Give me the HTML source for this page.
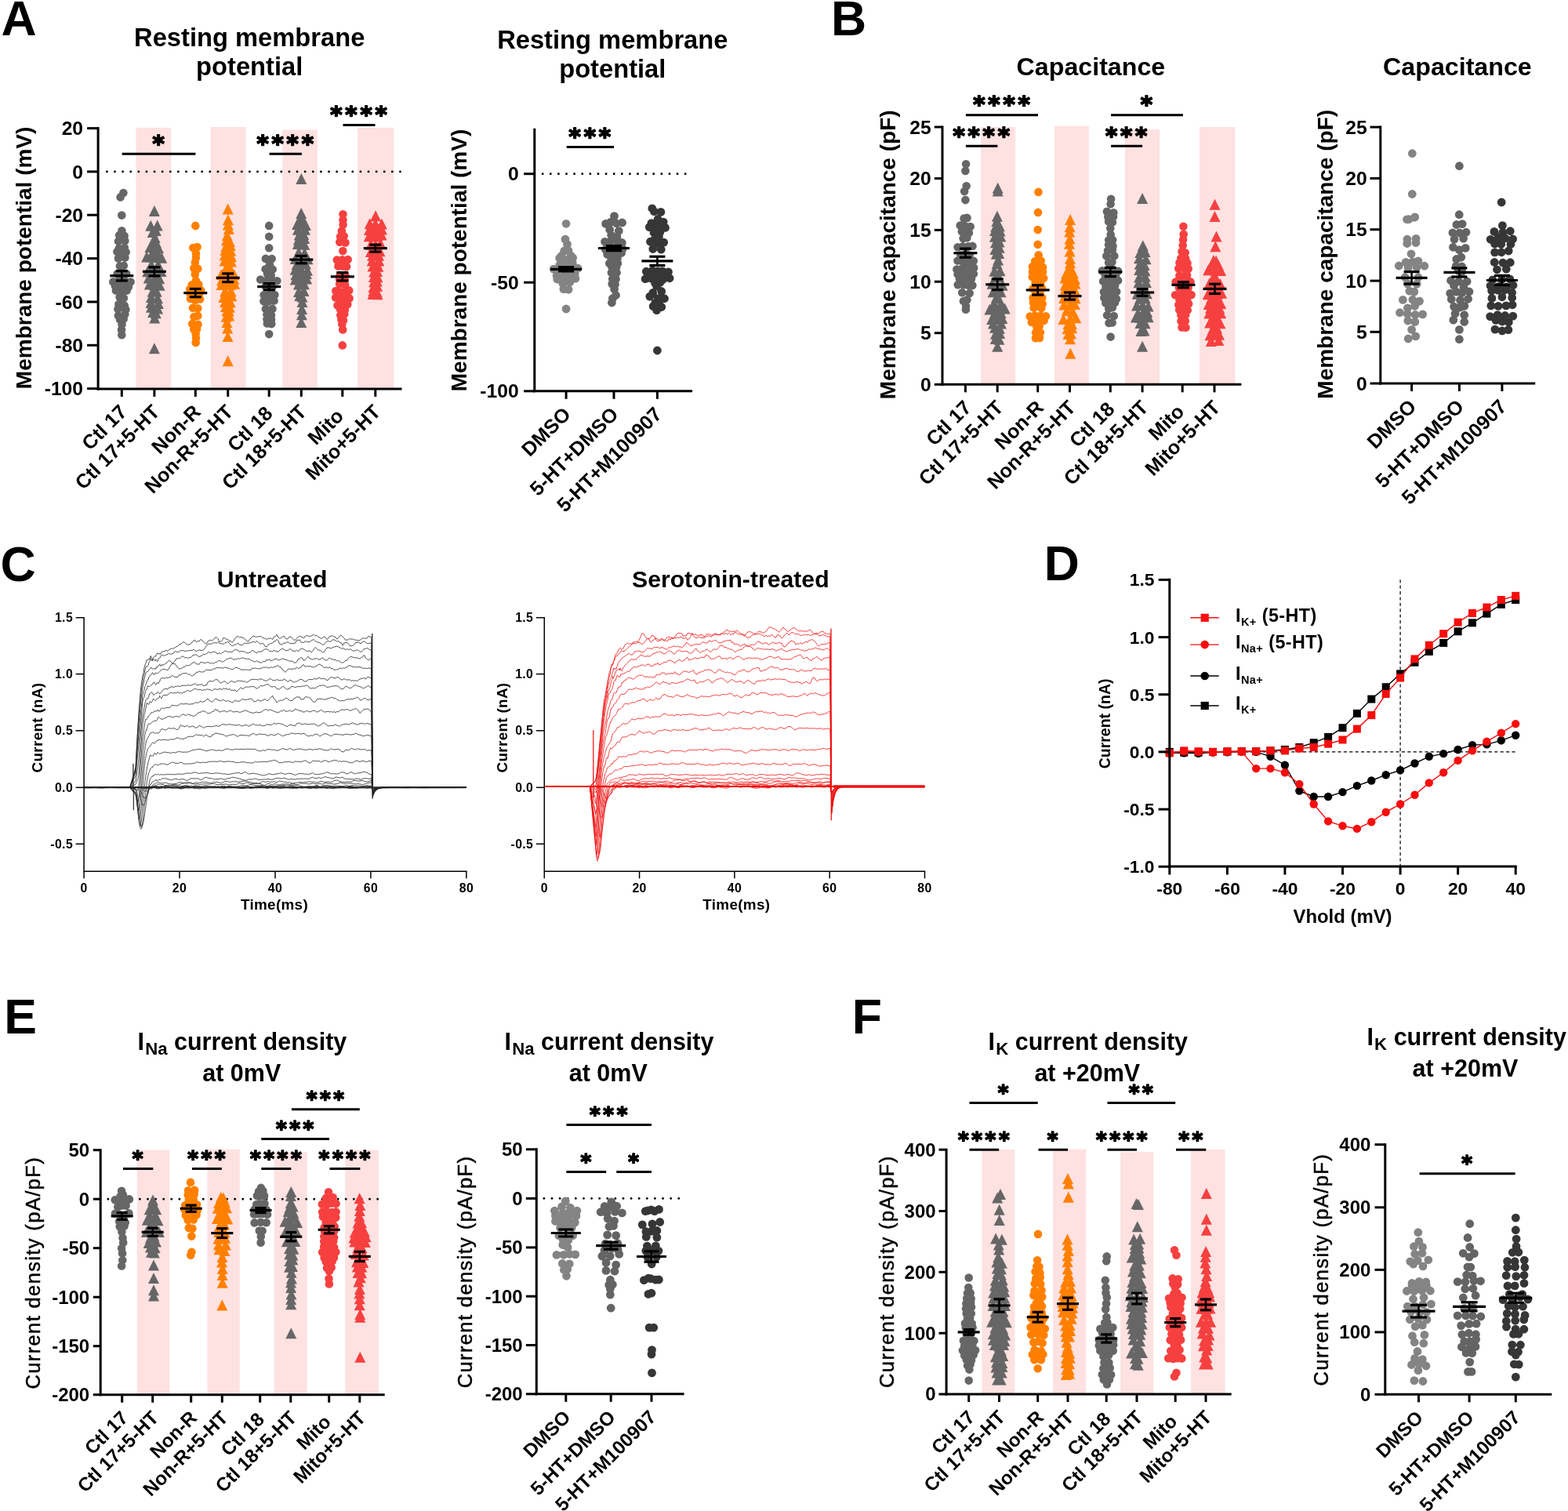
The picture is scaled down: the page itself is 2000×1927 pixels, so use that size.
<!DOCTYPE html>
<html lang="en"><head><meta charset="utf-8"><title>Figure</title>
<style>html,body{margin:0;padding:0;background:#fff}svg{display:block}</style>
</head><body>
<svg width="2000" height="1927" viewBox="0 0 2000 1927" font-family='"Liberation Sans", sans-serif' font-weight="bold">
<rect width="2000" height="1927" fill="#fff"/>
<text x="1.6" y="45.4" font-size="62.50">A</text>
<rect x="173.5" y="162.9" width="44.8" height="332.8" fill="#fee1e1"/>
<rect x="268.8" y="162" width="44.6" height="333.7" fill="#fee1e1"/>
<rect x="360.3" y="165.6" width="44.6" height="330.1" fill="#fee1e1"/>
<rect x="456.1" y="162.9" width="46.3" height="332.8" fill="#fee1e1"/>
<text x="318.2" y="59" font-size="32.70" text-anchor="middle">Resting membrane</text>
<text x="318.2" y="96" font-size="32.70" text-anchor="middle">potential</text>
<text transform="translate(39.6 328.9) rotate(-90)" font-size="28.00" text-anchor="middle">Membrane potential (mV)</text>
<line x1="136.4" y1="218.9" x2="512" y2="218.9" stroke="#000" stroke-width="2.9" stroke-linecap="round" stroke-dasharray="0.01 10.1"/>
<path d="M155.4 294.2h0M152.1 300.0h0M158.6 300.7h0M151.0 307.7h0M159.4 307.2h0M151.8 316.8h0M158.8 316.1h0M149.4 321.1h0M154.7 321.4h0M160.7 321.5h0M151.0 329.4h0M159.4 328.6h0M152.9 339.2h0M157.8 338.7h0M149.5 349.3h0M155.5 349.5h0M161.2 349.0h0M144.3 359.4h0M152.1 357.4h0M158.8 357.9h0M166.6 359.5h0M146.9 364.4h0M152.0 364.0h0M158.2 364.6h0M163.9 366.1h0M147.9 370.4h0M155.0 372.1h0M161.7 370.6h0M152.6 379.1h0M157.9 380.3h0M151.4 388.0h0M158.8 389.7h0M150.4 394.3h0M160.4 394.7h0M150.9 402.6h0M159.4 400.7h0M153.0 407.4h0M157.7 406.8h0M155.5 413.7h0M155.0 420.6h0M155.3 427.3h0M157.4 246.1h0M153.6 251.4h0M155.3 274.6h0" fill="none" stroke="#666666" stroke-width="10.6" stroke-linecap="round"/>
<path d="M192.2 280.8l7 14h-14zM200.7 280.5l7 14h-14zM194.7 288.9l7 14h-14zM198.9 287.1l7 14h-14zM197.6 296.1l7 14h-14zM193.8 303.4l7 14h-14zM198.8 301.7l7 14h-14zM191.4 308.2l7 14h-14zM197.2 307.9l7 14h-14zM202.1 309.2l7 14h-14zM194.3 315.4l7 14h-14zM199.9 314.6l7 14h-14zM187.1 320.5l7 14h-14zM193.1 320.8l7 14h-14zM199.7 321.2l7 14h-14zM206.2 321.7l7 14h-14zM193.0 330.5l7 14h-14zM201.7 330.6l7 14h-14zM188.2 339.2l7 14h-14zM193.6 339.8l7 14h-14zM199.0 337.6l7 14h-14zM205.5 339.0l7 14h-14zM189.7 347.4l7 14h-14zM197.4 347.8l7 14h-14zM203.2 348.2l7 14h-14zM190.8 355.5l7 14h-14zM197.2 356.3l7 14h-14zM203.6 356.8l7 14h-14zM194.7 364.6l7 14h-14zM199.8 364.7l7 14h-14zM192.9 372.0l7 14h-14zM201.0 373.3l7 14h-14zM192.6 379.1l7 14h-14zM201.9 380.0l7 14h-14zM192.9 384.8l7 14h-14zM201.1 386.4l7 14h-14zM195.0 391.1l7 14h-14zM198.8 392.2l7 14h-14zM197.2 398.6l7 14h-14zM196.9 262.0l7 14h-14zM196.9 437.3l7 14h-14z" fill="#666666"/>
<path d="M246.3 316.1h0M251.6 315.0h0M250.0 323.6h0M249.9 328.7h0M248.9 334.8h0M247.3 342.2h0M252.3 342.7h0M248.8 350.0h0M249.9 358.0h0M244.7 363.3h0M253.3 362.8h0M242.2 368.8h0M249.5 370.1h0M256.4 370.4h0M242.4 374.1h0M249.8 373.7h0M255.2 373.1h0M242.9 381.0h0M248.9 382.9h0M255.1 381.5h0M246.0 392.7h0M252.3 393.2h0M247.4 404.0h0M252.3 402.8h0M245.2 413.1h0M252.5 413.7h0M247.2 420.1h0M251.0 419.7h0M249.7 425.8h0M250.0 431.0h0M249.7 437.0h0M249.3 287.9h0" fill="none" stroke="#ff8000" stroke-width="10.6" stroke-linecap="round"/>
<path d="M290.9 273.3l7 14h-14zM290.8 279.6l7 14h-14zM291.9 285.0l7 14h-14zM289.8 293.2l7 14h-14zM288.9 299.4l7 14h-14zM292.9 301.1l7 14h-14zM288.3 307.3l7 14h-14zM293.7 306.1l7 14h-14zM287.4 312.0l7 14h-14zM294.3 312.8l7 14h-14zM286.7 318.3l7 14h-14zM295.0 320.2l7 14h-14zM286.5 325.5l7 14h-14zM294.9 326.5l7 14h-14zM288.2 335.2l7 14h-14zM293.5 334.9l7 14h-14zM282.3 343.1l7 14h-14zM288.5 342.5l7 14h-14zM293.0 343.5l7 14h-14zM298.7 343.3l7 14h-14zM283.0 350.2l7 14h-14zM290.5 350.4l7 14h-14zM298.3 348.7l7 14h-14zM282.5 355.9l7 14h-14zM287.8 355.9l7 14h-14zM293.7 356.1l7 14h-14zM299.1 354.7l7 14h-14zM287.1 364.6l7 14h-14zM294.6 364.4l7 14h-14zM285.4 371.9l7 14h-14zM290.7 371.9l7 14h-14zM295.4 370.3l7 14h-14zM287.1 378.0l7 14h-14zM293.8 378.2l7 14h-14zM287.9 384.0l7 14h-14zM292.9 384.7l7 14h-14zM289.4 389.4l7 14h-14zM291.8 389.5l7 14h-14zM288.7 396.8l7 14h-14zM292.3 395.6l7 14h-14zM289.5 404.1l7 14h-14zM290.2 411.6l7 14h-14zM290.5 422.1l7 14h-14zM290.7 259.4l7 14h-14zM290.7 453.3l7 14h-14z" fill="#ff8000"/>
<path d="M338.9 329.9h0M346.7 330.0h0M344.0 337.4h0M338.6 343.2h0M347.7 343.5h0M341.0 349.3h0M345.7 351.2h0M332.2 356.5h0M339.4 358.3h0M347.0 357.3h0M353.4 358.2h0M338.7 365.3h0M347.3 366.5h0M336.6 376.3h0M342.7 375.7h0M350.4 376.1h0M336.4 384.3h0M342.6 384.4h0M349.6 383.4h0M338.9 394.0h0M347.5 393.9h0M340.4 401.3h0M346.0 402.0h0M340.4 407.1h0M346.0 407.5h0M340.8 412.4h0M346.3 413.1h0M343.2 287.9h0M343.2 301.8h0M343.2 316.3h0M343.2 426.1h0" fill="none" stroke="#666666" stroke-width="10.6" stroke-linecap="round"/>
<path d="M384.2 265.1l7 14h-14zM381.9 273.2l7 14h-14zM386.2 273.0l7 14h-14zM379.1 278.9l7 14h-14zM384.5 278.7l7 14h-14zM389.9 279.9l7 14h-14zM379.9 285.7l7 14h-14zM389.0 285.8l7 14h-14zM381.7 292.5l7 14h-14zM387.3 292.0l7 14h-14zM380.8 298.5l7 14h-14zM388.1 297.0l7 14h-14zM379.8 304.1l7 14h-14zM388.3 304.8l7 14h-14zM380.9 314.7l7 14h-14zM388.5 315.5l7 14h-14zM376.8 323.0l7 14h-14zM384.2 323.1l7 14h-14zM392.5 323.3l7 14h-14zM378.7 329.9l7 14h-14zM384.6 329.1l7 14h-14zM389.9 329.4l7 14h-14zM376.6 336.7l7 14h-14zM384.0 336.6l7 14h-14zM392.0 337.7l7 14h-14zM377.4 343.2l7 14h-14zM384.7 343.6l7 14h-14zM390.9 341.9l7 14h-14zM376.7 349.4l7 14h-14zM384.3 349.7l7 14h-14zM391.1 348.4l7 14h-14zM380.9 355.5l7 14h-14zM387.9 355.3l7 14h-14zM381.0 364.9l7 14h-14zM387.5 363.9l7 14h-14zM382.3 370.0l7 14h-14zM385.5 371.5l7 14h-14zM385.5 377.9l7 14h-14zM385.1 386.9l7 14h-14zM384.9 394.2l7 14h-14zM384.3 220.9l7 14h-14zM384.3 404.1l7 14h-14z" fill="#666666"/>
<path d="M437.5 273.3h0M437.5 280.4h0M437.6 286.5h0M435.9 294.6h0M434.1 301.8h0M438.7 300.9h0M433.3 308.7h0M440.5 309.5h0M437.3 320.1h0M429.8 331.6h0M436.5 331.4h0M443.7 331.0h0M431.4 339.5h0M437.1 339.6h0M442.1 339.9h0M433.6 351.0h0M440.3 350.9h0M433.1 356.2h0M439.8 356.7h0M433.1 361.9h0M440.1 363.3h0M428.3 371.0h0M433.8 372.0h0M439.7 372.2h0M445.2 370.4h0M428.1 379.4h0M434.2 380.7h0M439.5 379.7h0M445.6 380.4h0M430.5 389.6h0M436.9 388.4h0M443.3 388.2h0M433.7 394.0h0M439.9 395.1h0M434.3 402.1h0M439.3 400.4h0M435.4 407.4h0M438.0 408.4h0M436.3 413.4h0M437.2 420.4h0M436.8 440.4h0" fill="none" stroke="#f64040" stroke-width="10.6" stroke-linecap="round"/>
<path d="M479.1 268.2l7 14h-14zM471.6 278.2l7 14h-14zM478.8 278.3l7 14h-14zM486.9 278.5l7 14h-14zM471.0 285.9l7 14h-14zM475.7 286.0l7 14h-14zM481.4 285.9l7 14h-14zM487.0 285.5l7 14h-14zM470.7 294.3l7 14h-14zM476.5 294.6l7 14h-14zM481.6 293.2l7 14h-14zM486.6 292.6l7 14h-14zM473.0 304.8l7 14h-14zM478.9 305.2l7 14h-14zM485.3 303.4l7 14h-14zM472.9 313.9l7 14h-14zM478.3 312.0l7 14h-14zM484.5 313.3l7 14h-14zM475.2 318.8l7 14h-14zM483.0 318.7l7 14h-14zM474.7 325.6l7 14h-14zM483.3 325.5l7 14h-14zM475.5 332.4l7 14h-14zM482.4 332.8l7 14h-14zM477.0 339.5l7 14h-14zM481.1 339.1l7 14h-14zM476.9 346.1l7 14h-14zM481.5 346.2l7 14h-14zM477.1 352.3l7 14h-14zM480.8 351.4l7 14h-14zM476.4 359.2l7 14h-14zM481.1 357.7l7 14h-14zM476.3 363.9l7 14h-14zM480.9 365.5l7 14h-14zM475.5 368.0l7 14h-14zM481.4 368.3l7 14h-14z" fill="#f64040"/>
<line x1="140.3" y1="351.7" x2="170.3" y2="351.7" stroke="#000" stroke-width="3.2"/>
<line x1="147.8" y1="345.5" x2="162.8" y2="345.5" stroke="#000" stroke-width="3.2"/>
<line x1="147.8" y1="357.9" x2="162.8" y2="357.9" stroke="#000" stroke-width="3.2"/>
<line x1="155.3" y1="345.5" x2="155.3" y2="357.9" stroke="#000" stroke-width="2.6"/>
<line x1="181.9" y1="346.3" x2="211.9" y2="346.3" stroke="#000" stroke-width="3.2"/>
<line x1="189.4" y1="340.8" x2="204.4" y2="340.8" stroke="#000" stroke-width="3.2"/>
<line x1="189.4" y1="351.9" x2="204.4" y2="351.9" stroke="#000" stroke-width="3.2"/>
<line x1="196.9" y1="340.8" x2="196.9" y2="351.9" stroke="#000" stroke-width="2.6"/>
<line x1="234.3" y1="373.6" x2="264.3" y2="373.6" stroke="#000" stroke-width="3.2"/>
<line x1="241.8" y1="368.4" x2="256.8" y2="368.4" stroke="#000" stroke-width="3.2"/>
<line x1="241.8" y1="378.7" x2="256.8" y2="378.7" stroke="#000" stroke-width="3.2"/>
<line x1="249.3" y1="368.4" x2="249.3" y2="378.7" stroke="#000" stroke-width="2.6"/>
<line x1="275.7" y1="354.3" x2="305.7" y2="354.3" stroke="#000" stroke-width="3.2"/>
<line x1="283.2" y1="348.9" x2="298.2" y2="348.9" stroke="#000" stroke-width="3.2"/>
<line x1="283.2" y1="359.6" x2="298.2" y2="359.6" stroke="#000" stroke-width="3.2"/>
<line x1="290.7" y1="348.9" x2="290.7" y2="359.6" stroke="#000" stroke-width="2.6"/>
<line x1="328.2" y1="365.6" x2="358.2" y2="365.6" stroke="#000" stroke-width="3.2"/>
<line x1="335.7" y1="361.6" x2="350.7" y2="361.6" stroke="#000" stroke-width="3.2"/>
<line x1="335.7" y1="369.7" x2="350.7" y2="369.7" stroke="#000" stroke-width="3.2"/>
<line x1="343.2" y1="361.6" x2="343.2" y2="369.7" stroke="#000" stroke-width="2.6"/>
<line x1="369.3" y1="331.1" x2="399.3" y2="331.1" stroke="#000" stroke-width="3.2"/>
<line x1="376.8" y1="326.4" x2="391.8" y2="326.4" stroke="#000" stroke-width="3.2"/>
<line x1="376.8" y1="335.8" x2="391.8" y2="335.8" stroke="#000" stroke-width="3.2"/>
<line x1="384.3" y1="326.4" x2="384.3" y2="335.8" stroke="#000" stroke-width="2.6"/>
<line x1="421.8" y1="352.8" x2="451.8" y2="352.8" stroke="#000" stroke-width="3.2"/>
<line x1="429.3" y1="347.6" x2="444.3" y2="347.6" stroke="#000" stroke-width="3.2"/>
<line x1="429.3" y1="357.9" x2="444.3" y2="357.9" stroke="#000" stroke-width="3.2"/>
<line x1="436.8" y1="347.6" x2="436.8" y2="357.9" stroke="#000" stroke-width="2.6"/>
<line x1="463.8" y1="316.6" x2="493.8" y2="316.6" stroke="#000" stroke-width="3.2"/>
<line x1="471.3" y1="312.1" x2="486.3" y2="312.1" stroke="#000" stroke-width="3.2"/>
<line x1="471.3" y1="321.1" x2="486.3" y2="321.1" stroke="#000" stroke-width="3.2"/>
<line x1="478.8" y1="312.1" x2="478.8" y2="321.1" stroke="#000" stroke-width="2.6"/>
<line x1="125.1" y1="162" x2="125.1" y2="497.4" stroke="#000" stroke-width="3"/>
<line x1="123.6" y1="495.9" x2="512.5" y2="495.9" stroke="#000" stroke-width="3"/>
<line x1="111.1" y1="163.6" x2="125.1" y2="163.6" stroke="#000" stroke-width="3"/>
<text x="106.1" y="172.2" font-size="24.70" text-anchor="end">20</text>
<line x1="111.1" y1="218.9" x2="125.1" y2="218.9" stroke="#000" stroke-width="3"/>
<text x="106.1" y="227.5" font-size="24.70" text-anchor="end">0</text>
<line x1="111.1" y1="274.2" x2="125.1" y2="274.2" stroke="#000" stroke-width="3"/>
<text x="106.1" y="282.9" font-size="24.70" text-anchor="end">-20</text>
<line x1="111.1" y1="329.6" x2="125.1" y2="329.6" stroke="#000" stroke-width="3"/>
<text x="106.1" y="338.2" font-size="24.70" text-anchor="end">-40</text>
<line x1="111.1" y1="385" x2="125.1" y2="385" stroke="#000" stroke-width="3"/>
<text x="106.1" y="393.6" font-size="24.70" text-anchor="end">-60</text>
<line x1="111.1" y1="440.3" x2="125.1" y2="440.3" stroke="#000" stroke-width="3"/>
<text x="106.1" y="448.9" font-size="24.70" text-anchor="end">-80</text>
<line x1="111.1" y1="495.6" x2="125.1" y2="495.6" stroke="#000" stroke-width="3"/>
<text x="106.1" y="504.3" font-size="24.70" text-anchor="end">-100</text>
<line x1="155.3" y1="495.9" x2="155.3" y2="505.9" stroke="#000" stroke-width="3"/>
<line x1="196.9" y1="495.9" x2="196.9" y2="505.9" stroke="#000" stroke-width="3"/>
<line x1="249.3" y1="495.9" x2="249.3" y2="505.9" stroke="#000" stroke-width="3"/>
<line x1="290.7" y1="495.9" x2="290.7" y2="505.9" stroke="#000" stroke-width="3"/>
<line x1="343.2" y1="495.9" x2="343.2" y2="505.9" stroke="#000" stroke-width="3"/>
<line x1="384.3" y1="495.9" x2="384.3" y2="505.9" stroke="#000" stroke-width="3"/>
<line x1="436.8" y1="495.9" x2="436.8" y2="505.9" stroke="#000" stroke-width="3"/>
<line x1="478.8" y1="495.9" x2="478.8" y2="505.9" stroke="#000" stroke-width="3"/>
<text transform="translate(163.5 526.8) rotate(-45)" font-size="25.30" text-anchor="end">Ctl 17</text>
<text transform="translate(205.1 526.8) rotate(-45)" font-size="25.30" text-anchor="end">Ctl 17+5-HT</text>
<text transform="translate(257.5 526.8) rotate(-45)" font-size="25.30" text-anchor="end">Non-R</text>
<text transform="translate(298.9 526.8) rotate(-45)" font-size="25.30" text-anchor="end">Non-R+5-HT</text>
<text transform="translate(349.3 528.9) rotate(-45)" font-size="25.30" text-anchor="end">Ctl 18</text>
<text transform="translate(392.5 526.8) rotate(-45)" font-size="25.30" text-anchor="end">Ctl 18+5-HT</text>
<text transform="translate(439.8 532) rotate(-45)" font-size="25.30" text-anchor="end">Mito</text>
<text transform="translate(487 526.8) rotate(-45)" font-size="25.30" text-anchor="end">Mito+5-HT</text>
<line x1="155.7" y1="196.2" x2="249.4" y2="196.2" stroke="#000" stroke-width="3"/>
<text x="204" y="192.9" font-size="29.20" text-anchor="middle" font-family='"DejaVu Sans", "Liberation Sans", sans-serif' letter-spacing="3.8" stroke="#000" stroke-width="1.8" stroke-linejoin="round">*</text>
<line x1="343.6" y1="196.2" x2="384.9" y2="196.2" stroke="#000" stroke-width="3"/>
<text x="365.6" y="192.9" font-size="29.20" text-anchor="middle" font-family='"DejaVu Sans", "Liberation Sans", sans-serif' letter-spacing="3.8" stroke="#000" stroke-width="1.8" stroke-linejoin="round">****</text>
<line x1="437.5" y1="159.5" x2="478.5" y2="159.5" stroke="#000" stroke-width="3"/>
<text x="459.4" y="156.2" font-size="29.20" text-anchor="middle" font-family='"DejaVu Sans", "Liberation Sans", sans-serif' letter-spacing="3.8" stroke="#000" stroke-width="1.8" stroke-linejoin="round">****</text>
<text x="781.3" y="62.2" font-size="32.70" text-anchor="middle">Resting membrane</text>
<text x="781.3" y="99.2" font-size="32.70" text-anchor="middle">potential</text>
<text transform="translate(594.6 332) rotate(-90)" font-size="28.00" text-anchor="middle">Membrane potential (mV)</text>
<line x1="692.2" y1="221.7" x2="878" y2="221.7" stroke="#000" stroke-width="2.9" stroke-linecap="round" stroke-dasharray="0.01 10.1"/>
<path d="M719.7 320.0h0M725.0 319.6h0M716.1 326.3h0M728.1 326.0h0M713.6 329.2h0M721.3 331.5h0M730.7 328.8h0M713.9 337.9h0M721.7 335.2h0M730.3 335.4h0M706.2 343.1h0M713.3 342.1h0M723.0 342.7h0M730.9 343.7h0M737.2 342.2h0M710.1 351.7h0M718.9 351.3h0M725.6 351.0h0M733.2 349.9h0M710.7 356.0h0M718.9 357.0h0M726.5 357.0h0M734.0 355.2h0M717.9 361.4h0M726.8 359.9h0M718.9 368.6h0M725.1 369.3h0M722.1 285.3h0M721.0 305.1h0M723.5 311.5h0M722.1 394.0h0" fill="none" stroke="#848484" stroke-width="10.8" stroke-linecap="round"/>
<path d="M783.5 275.6h0M772.6 285.4h0M778.5 283.5h0M786.2 284.8h0M793.6 284.0h0M777.7 292.9h0M789.3 294.5h0M779.7 300.0h0M787.0 301.8h0M771.5 308.3h0M779.1 307.5h0M787.1 307.6h0M793.3 309.5h0M772.3 318.2h0M778.5 317.6h0M786.3 316.3h0M794.3 317.2h0M774.7 324.4h0M782.6 322.1h0M792.6 322.5h0M779.6 329.9h0M787.4 329.9h0M777.4 335.9h0M787.8 335.9h0M780.6 340.5h0M786.1 341.1h0M780.0 347.7h0M786.5 347.8h0M782.7 351.7h0M781.3 355.9h0M785.5 356.0h0M780.8 362.1h0M784.5 362.7h0M783.6 368.8h0M785.5 376.5h0M781.4 380.6h0M780.4 386.0h0" fill="none" stroke="#646464" stroke-width="10.8" stroke-linecap="round"/>
<path d="M834.3 269.6h0M842.9 270.4h0M839.1 279.5h0M830.9 284.6h0M837.7 283.6h0M846.2 283.1h0M828.3 289.6h0M834.2 289.8h0M841.1 289.5h0M848.5 290.4h0M834.0 296.8h0M841.9 296.0h0M835.4 304.5h0M840.5 301.5h0M829.5 308.2h0M837.8 310.4h0M846.7 309.1h0M832.8 317.5h0M843.3 318.2h0M824.3 346.2h0M832.1 345.0h0M839.1 345.9h0M844.9 345.9h0M852.5 346.8h0M827.2 349.9h0M835.2 349.7h0M841.7 349.2h0M849.3 349.5h0M823.1 355.7h0M830.1 355.0h0M839.0 356.6h0M845.4 356.7h0M854.1 354.8h0M835.6 361.3h0M842.1 360.1h0M837.6 365.2h0M832.7 373.5h0M843.7 371.5h0M828.8 378.1h0M839.3 380.6h0M847.5 380.7h0M835.7 386.4h0M841.2 388.8h0M833.2 390.6h0M843.8 391.5h0M837.6 395.6h0M831.8 265.8h0M838.4 447.0h0" fill="none" stroke="#363636" stroke-width="10.8" stroke-linecap="round"/>
<line x1="702.1" y1="343.3" x2="742.1" y2="343.3" stroke="#000" stroke-width="3.2"/>
<line x1="712.1" y1="340.7" x2="732.1" y2="340.7" stroke="#000" stroke-width="3.2"/>
<line x1="712.1" y1="345.9" x2="732.1" y2="345.9" stroke="#000" stroke-width="3.2"/>
<line x1="722.1" y1="340.7" x2="722.1" y2="345.9" stroke="#000" stroke-width="2.6"/>
<line x1="763" y1="316.5" x2="803" y2="316.5" stroke="#000" stroke-width="3.2"/>
<line x1="773" y1="313.5" x2="793" y2="313.5" stroke="#000" stroke-width="3.2"/>
<line x1="773" y1="319.6" x2="793" y2="319.6" stroke="#000" stroke-width="3.2"/>
<line x1="783" y1="313.5" x2="783" y2="319.6" stroke="#000" stroke-width="2.6"/>
<line x1="818.4" y1="332.8" x2="858.4" y2="332.8" stroke="#000" stroke-width="3.2"/>
<line x1="828.4" y1="327.2" x2="848.4" y2="327.2" stroke="#000" stroke-width="3.2"/>
<line x1="828.4" y1="338.5" x2="848.4" y2="338.5" stroke="#000" stroke-width="3.2"/>
<line x1="838.4" y1="327.2" x2="838.4" y2="338.5" stroke="#000" stroke-width="2.6"/>
<line x1="681.8" y1="163.7" x2="681.8" y2="500.3" stroke="#000" stroke-width="3"/>
<line x1="680.3" y1="498.8" x2="883.1" y2="498.8" stroke="#000" stroke-width="3"/>
<line x1="668.1" y1="221.7" x2="681.8" y2="221.7" stroke="#000" stroke-width="3"/>
<text x="661.7" y="230.3" font-size="24.70" text-anchor="end">0</text>
<line x1="668.1" y1="360.2" x2="681.8" y2="360.2" stroke="#000" stroke-width="3"/>
<text x="661.7" y="368.8" font-size="24.70" text-anchor="end">-50</text>
<line x1="668.1" y1="498.8" x2="681.8" y2="498.8" stroke="#000" stroke-width="3"/>
<text x="661.7" y="507.4" font-size="24.70" text-anchor="end">-100</text>
<line x1="722.1" y1="498.8" x2="722.1" y2="508.8" stroke="#000" stroke-width="3"/>
<line x1="783" y1="498.8" x2="783" y2="508.8" stroke="#000" stroke-width="3"/>
<line x1="838.4" y1="498.8" x2="838.4" y2="508.8" stroke="#000" stroke-width="3"/>
<text transform="translate(729.3 529.8) rotate(-45)" font-size="25.30" text-anchor="end">DMSO</text>
<text transform="translate(790.2 529.8) rotate(-45)" font-size="25.30" text-anchor="end">5-HT+DMSO</text>
<text transform="translate(845.6 529.8) rotate(-45)" font-size="25.30" text-anchor="end">5-HT+M100907</text>
<line x1="722.7" y1="187.5" x2="783" y2="187.5" stroke="#000" stroke-width="3"/>
<text x="754.2" y="184.2" font-size="29.20" text-anchor="middle" font-family='"DejaVu Sans", "Liberation Sans", sans-serif' letter-spacing="3.8" stroke="#000" stroke-width="1.8" stroke-linejoin="round">***</text>
<text x="1060.1" y="45.4" font-size="62.50">B</text>
<rect x="1251" y="162" width="44.2" height="328.3" fill="#fee1e1"/>
<rect x="1344.9" y="160.7" width="43.9" height="329.6" fill="#fee1e1"/>
<rect x="1435" y="165.1" width="44.1" height="325.2" fill="#fee1e1"/>
<rect x="1529.8" y="162" width="45.5" height="328.3" fill="#fee1e1"/>
<text x="1391.4" y="96.1" font-size="32.20" text-anchor="middle">Capacitance</text>
<text transform="translate(1142.4 324.8) rotate(-90)" font-size="28.00" text-anchor="middle">Membrane capacitance (pF)</text>
<path d="M1229.6 278.5h0M1233.5 277.9h0M1224.7 287.6h0M1231.4 288.5h0M1237.7 289.0h0M1226.8 295.3h0M1231.1 297.6h0M1235.9 297.0h0M1228.6 304.1h0M1233.4 303.2h0M1221.6 315.3h0M1227.8 314.2h0M1235.0 314.4h0M1240.5 313.9h0M1225.3 325.2h0M1231.8 323.8h0M1236.6 325.6h0M1221.5 332.5h0M1228.3 333.4h0M1234.9 334.2h0M1241.8 332.7h0M1220.4 343.5h0M1227.6 342.1h0M1235.0 341.2h0M1242.2 341.4h0M1221.5 349.7h0M1227.9 348.5h0M1234.9 349.4h0M1241.9 349.3h0M1223.9 355.6h0M1231.2 356.2h0M1239.0 355.5h0M1221.7 363.2h0M1228.7 363.2h0M1234.8 363.7h0M1240.4 363.9h0M1227.2 373.2h0M1236.7 373.9h0M1228.9 384.1h0M1233.4 382.4h0M1232.0 390.2h0M1231.9 394.8h0M1232.1 209.2h0M1231.4 217.9h0M1232.7 237.2h0M1230.1 244.1h0M1231.4 255.1h0" fill="none" stroke="#666666" stroke-width="10.6" stroke-linecap="round"/>
<path d="M1271.9 268.8l7 14h-14zM1271.4 275.0l7 14h-14zM1270.3 281.7l7 14h-14zM1274.9 281.2l7 14h-14zM1269.0 287.0l7 14h-14zM1275.6 287.5l7 14h-14zM1268.9 294.8l7 14h-14zM1276.3 294.4l7 14h-14zM1269.9 302.3l7 14h-14zM1274.6 301.6l7 14h-14zM1269.3 310.9l7 14h-14zM1274.7 308.7l7 14h-14zM1270.8 316.8l7 14h-14zM1274.2 316.1l7 14h-14zM1273.1 324.4l7 14h-14zM1271.6 329.3l7 14h-14zM1268.4 338.8l7 14h-14zM1275.5 338.3l7 14h-14zM1270.1 346.2l7 14h-14zM1274.1 346.0l7 14h-14zM1265.6 354.7l7 14h-14zM1272.4 356.3l7 14h-14zM1278.7 356.7l7 14h-14zM1266.7 365.3l7 14h-14zM1272.2 363.9l7 14h-14zM1276.6 365.2l7 14h-14zM1270.8 372.5l7 14h-14zM1273.6 373.3l7 14h-14zM1267.9 380.0l7 14h-14zM1276.7 380.1l7 14h-14zM1262.4 387.5l7 14h-14zM1269.2 385.9l7 14h-14zM1275.3 386.8l7 14h-14zM1281.7 386.4l7 14h-14zM1268.6 392.4l7 14h-14zM1276.7 392.3l7 14h-14zM1265.1 399.9l7 14h-14zM1271.7 399.7l7 14h-14zM1278.3 399.0l7 14h-14zM1266.9 405.4l7 14h-14zM1277.0 405.5l7 14h-14zM1269.0 410.8l7 14h-14zM1274.9 411.7l7 14h-14zM1269.9 418.8l7 14h-14zM1275.1 418.1l7 14h-14zM1269.8 424.9l7 14h-14zM1274.4 425.7l7 14h-14zM1272.2 434.8l7 14h-14zM1272.7 232.8l7 14h-14zM1272.7 236.4l7 14h-14z" fill="#666666"/>
<path d="M1324.7 325.2h0M1320.2 333.0h0M1327.7 332.6h0M1316.9 340.1h0M1324.2 340.6h0M1330.1 340.9h0M1317.0 346.6h0M1323.5 347.6h0M1330.1 346.4h0M1316.7 353.3h0M1324.0 355.3h0M1331.2 354.7h0M1320.6 360.5h0M1327.3 362.1h0M1317.5 368.3h0M1324.1 367.1h0M1329.2 368.1h0M1321.6 374.1h0M1326.3 374.5h0M1317.5 379.9h0M1323.6 381.7h0M1329.3 379.5h0M1318.0 385.9h0M1323.1 387.2h0M1329.7 387.5h0M1318.6 392.4h0M1328.3 392.9h0M1313.7 403.6h0M1320.0 402.5h0M1327.4 402.8h0M1334.0 403.3h0M1315.8 411.0h0M1324.1 410.9h0M1331.7 408.8h0M1322.4 416.9h0M1325.8 415.6h0M1321.0 424.3h0M1326.9 423.9h0M1320.9 431.3h0M1326.1 431.1h0M1324.5 244.9h0M1324.0 270.9h0M1323.7 293.1h0M1323.7 311.7h0" fill="none" stroke="#ff8000" stroke-width="10.6" stroke-linecap="round"/>
<path d="M1365.1 273.1l7 14h-14zM1364.6 282.2l7 14h-14zM1364.2 288.4l7 14h-14zM1364.5 297.5l7 14h-14zM1364.0 303.8l7 14h-14zM1364.6 313.4l7 14h-14zM1364.9 322.7l7 14h-14zM1365.0 328.3l7 14h-14zM1364.1 335.4l7 14h-14zM1360.1 341.7l7 14h-14zM1368.8 340.9l7 14h-14zM1358.5 347.4l7 14h-14zM1365.0 348.8l7 14h-14zM1371.1 349.1l7 14h-14zM1358.6 356.8l7 14h-14zM1364.4 356.5l7 14h-14zM1371.5 354.6l7 14h-14zM1357.9 363.8l7 14h-14zM1364.7 362.6l7 14h-14zM1371.6 364.4l7 14h-14zM1357.1 373.0l7 14h-14zM1365.1 372.9l7 14h-14zM1371.7 373.3l7 14h-14zM1357.3 381.4l7 14h-14zM1364.4 382.0l7 14h-14zM1370.9 380.9l7 14h-14zM1360.7 389.1l7 14h-14zM1368.3 390.6l7 14h-14zM1356.4 400.1l7 14h-14zM1365.1 399.2l7 14h-14zM1372.3 398.2l7 14h-14zM1362.6 406.1l7 14h-14zM1367.0 405.9l7 14h-14zM1361.6 411.9l7 14h-14zM1367.2 411.3l7 14h-14zM1362.5 419.0l7 14h-14zM1366.0 418.5l7 14h-14zM1365.0 425.2l7 14h-14zM1365.3 443.8l7 14h-14z" fill="#ff8000"/>
<path d="M1411.9 269.7h0M1420.4 271.3h0M1413.3 276.6h0M1420.0 276.6h0M1414.1 282.6h0M1418.9 283.4h0M1416.3 291.2h0M1416.7 299.2h0M1414.2 306.3h0M1419.2 306.0h0M1414.0 312.3h0M1419.5 313.8h0M1413.0 319.7h0M1418.9 318.5h0M1411.3 326.6h0M1421.3 326.4h0M1414.1 335.1h0M1418.5 334.3h0M1405.8 345.4h0M1412.5 344.7h0M1419.3 344.0h0M1426.1 345.8h0M1409.9 351.7h0M1416.4 352.8h0M1423.0 351.4h0M1407.1 358.8h0M1413.0 358.4h0M1419.3 358.5h0M1426.1 357.8h0M1410.4 365.5h0M1416.3 365.5h0M1422.1 364.3h0M1407.9 372.3h0M1414.0 371.9h0M1418.8 372.2h0M1424.2 372.1h0M1408.3 379.7h0M1415.9 380.4h0M1424.0 381.2h0M1410.3 386.4h0M1416.4 387.2h0M1422.1 386.0h0M1414.2 393.8h0M1418.9 392.2h0M1412.1 402.0h0M1420.8 403.0h0M1414.5 411.9h0M1418.7 411.4h0M1417.1 253.8h0M1416.6 260.2h0M1416.6 429.6h0" fill="none" stroke="#666666" stroke-width="10.6" stroke-linecap="round"/>
<path d="M1457.8 306.3l7 14h-14zM1454.3 315.0l7 14h-14zM1460.6 314.1l7 14h-14zM1453.1 322.3l7 14h-14zM1461.6 323.3l7 14h-14zM1453.7 329.8l7 14h-14zM1459.8 330.9l7 14h-14zM1453.2 337.0l7 14h-14zM1460.5 338.3l7 14h-14zM1453.1 346.4l7 14h-14zM1460.7 345.4l7 14h-14zM1452.5 353.3l7 14h-14zM1461.9 352.9l7 14h-14zM1455.3 359.3l7 14h-14zM1458.5 361.0l7 14h-14zM1450.7 367.7l7 14h-14zM1456.6 366.4l7 14h-14zM1462.8 367.2l7 14h-14zM1453.8 373.7l7 14h-14zM1460.7 373.3l7 14h-14zM1450.0 382.5l7 14h-14zM1457.5 382.1l7 14h-14zM1464.6 383.5l7 14h-14zM1451.5 392.6l7 14h-14zM1457.5 392.4l7 14h-14zM1463.2 390.9l7 14h-14zM1448.9 397.6l7 14h-14zM1454.3 398.1l7 14h-14zM1460.4 397.3l7 14h-14zM1464.7 397.3l7 14h-14zM1454.4 405.1l7 14h-14zM1460.6 405.2l7 14h-14zM1455.4 414.9l7 14h-14zM1459.5 414.5l7 14h-14zM1457.1 246.1l7 14h-14zM1457.1 434.8l7 14h-14z" fill="#666666"/>
<path d="M1509.7 298.8h0M1509.1 305.7h0M1508.7 313.1h0M1507.5 320.9h0M1511.7 322.3h0M1506.3 329.5h0M1512.3 330.1h0M1504.5 335.0h0M1514.5 335.6h0M1503.3 342.6h0M1510.0 341.9h0M1515.7 342.8h0M1504.4 351.6h0M1510.0 352.0h0M1514.1 350.7h0M1499.6 359.5h0M1506.2 359.1h0M1512.1 360.9h0M1518.5 359.4h0M1503.9 367.1h0M1509.9 368.5h0M1515.6 366.9h0M1499.0 376.2h0M1505.7 376.4h0M1512.5 376.1h0M1519.6 376.1h0M1504.5 382.8h0M1514.1 383.1h0M1503.3 388.7h0M1509.9 388.9h0M1516.1 387.5h0M1504.2 395.2h0M1509.9 394.6h0M1514.7 395.6h0M1506.3 401.8h0M1512.2 401.6h0M1506.5 409.6h0M1511.8 409.6h0M1507.5 417.5h0M1512.5 417.8h0M1509.4 288.8h0" fill="none" stroke="#f64040" stroke-width="10.6" stroke-linecap="round"/>
<path d="M1547.9 325.0l7 14h-14zM1551.1 325.7l7 14h-14zM1545.3 330.9l7 14h-14zM1553.8 330.5l7 14h-14zM1541.2 337.3l7 14h-14zM1549.4 337.5l7 14h-14zM1557.1 338.0l7 14h-14zM1547.1 347.4l7 14h-14zM1550.9 347.5l7 14h-14zM1542.5 354.4l7 14h-14zM1549.9 355.1l7 14h-14zM1556.4 354.9l7 14h-14zM1545.1 361.5l7 14h-14zM1554.2 361.2l7 14h-14zM1540.7 368.2l7 14h-14zM1546.8 366.3l7 14h-14zM1552.9 367.8l7 14h-14zM1558.1 366.7l7 14h-14zM1545.2 373.0l7 14h-14zM1553.5 374.5l7 14h-14zM1541.7 381.1l7 14h-14zM1549.0 379.3l7 14h-14zM1557.2 380.1l7 14h-14zM1544.0 385.7l7 14h-14zM1550.1 386.2l7 14h-14zM1555.4 386.2l7 14h-14zM1542.3 392.6l7 14h-14zM1549.2 391.6l7 14h-14zM1557.1 392.2l7 14h-14zM1547.4 400.2l7 14h-14zM1552.4 399.4l7 14h-14zM1543.1 404.4l7 14h-14zM1549.6 405.2l7 14h-14zM1556.4 405.2l7 14h-14zM1546.7 413.0l7 14h-14zM1552.0 411.2l7 14h-14zM1543.5 420.2l7 14h-14zM1549.8 418.7l7 14h-14zM1555.0 419.8l7 14h-14zM1544.7 428.0l7 14h-14zM1554.3 427.1l7 14h-14zM1549.5 253.7l7 14h-14zM1549.5 269.0l7 14h-14zM1551.5 294.5l7 14h-14zM1550.3 307.3l7 14h-14z" fill="#f64040"/>
<line x1="1216.4" y1="322.7" x2="1246.4" y2="322.7" stroke="#000" stroke-width="3.2"/>
<line x1="1223.9" y1="317.1" x2="1238.9" y2="317.1" stroke="#000" stroke-width="3.2"/>
<line x1="1223.9" y1="328.3" x2="1238.9" y2="328.3" stroke="#000" stroke-width="3.2"/>
<line x1="1231.4" y1="317.1" x2="1231.4" y2="328.3" stroke="#000" stroke-width="2.6"/>
<line x1="1257.2" y1="362.8" x2="1287.2" y2="362.8" stroke="#000" stroke-width="3.2"/>
<line x1="1264.7" y1="355.9" x2="1279.7" y2="355.9" stroke="#000" stroke-width="3.2"/>
<line x1="1264.7" y1="369.6" x2="1279.7" y2="369.6" stroke="#000" stroke-width="3.2"/>
<line x1="1272.2" y1="355.9" x2="1272.2" y2="369.6" stroke="#000" stroke-width="2.6"/>
<line x1="1308.7" y1="369.9" x2="1338.7" y2="369.9" stroke="#000" stroke-width="3.2"/>
<line x1="1316.2" y1="363.8" x2="1331.2" y2="363.8" stroke="#000" stroke-width="3.2"/>
<line x1="1316.2" y1="376" x2="1331.2" y2="376" stroke="#000" stroke-width="3.2"/>
<line x1="1323.7" y1="363.8" x2="1323.7" y2="376" stroke="#000" stroke-width="2.6"/>
<line x1="1349.5" y1="377.6" x2="1379.5" y2="377.6" stroke="#000" stroke-width="3.2"/>
<line x1="1357" y1="373" x2="1372" y2="373" stroke="#000" stroke-width="3.2"/>
<line x1="1357" y1="382.1" x2="1372" y2="382.1" stroke="#000" stroke-width="3.2"/>
<line x1="1364.5" y1="373" x2="1364.5" y2="382.1" stroke="#000" stroke-width="2.6"/>
<line x1="1401.3" y1="346.9" x2="1431.3" y2="346.9" stroke="#000" stroke-width="3.2"/>
<line x1="1408.8" y1="341.3" x2="1423.8" y2="341.3" stroke="#000" stroke-width="3.2"/>
<line x1="1408.8" y1="352.6" x2="1423.8" y2="352.6" stroke="#000" stroke-width="3.2"/>
<line x1="1416.3" y1="341.3" x2="1416.3" y2="352.6" stroke="#000" stroke-width="2.6"/>
<line x1="1442.1" y1="373" x2="1472.1" y2="373" stroke="#000" stroke-width="3.2"/>
<line x1="1449.6" y1="368.6" x2="1464.6" y2="368.6" stroke="#000" stroke-width="3.2"/>
<line x1="1449.6" y1="377.3" x2="1464.6" y2="377.3" stroke="#000" stroke-width="3.2"/>
<line x1="1457.1" y1="368.6" x2="1457.1" y2="377.3" stroke="#000" stroke-width="2.6"/>
<line x1="1494.4" y1="363.3" x2="1524.4" y2="363.3" stroke="#000" stroke-width="3.2"/>
<line x1="1501.9" y1="359.7" x2="1516.9" y2="359.7" stroke="#000" stroke-width="3.2"/>
<line x1="1501.9" y1="366.8" x2="1516.9" y2="366.8" stroke="#000" stroke-width="3.2"/>
<line x1="1509.4" y1="359.7" x2="1509.4" y2="366.8" stroke="#000" stroke-width="2.6"/>
<line x1="1534.5" y1="368.4" x2="1564.5" y2="368.4" stroke="#000" stroke-width="3.2"/>
<line x1="1542" y1="362.2" x2="1557" y2="362.2" stroke="#000" stroke-width="3.2"/>
<line x1="1542" y1="374.5" x2="1557" y2="374.5" stroke="#000" stroke-width="3.2"/>
<line x1="1549.5" y1="362.2" x2="1549.5" y2="374.5" stroke="#000" stroke-width="2.6"/>
<line x1="1202" y1="160.5" x2="1202" y2="491.8" stroke="#000" stroke-width="3"/>
<line x1="1200.5" y1="490.3" x2="1583.4" y2="490.3" stroke="#000" stroke-width="3"/>
<line x1="1191.8" y1="162" x2="1202" y2="162" stroke="#000" stroke-width="3"/>
<text x="1187.7" y="170.6" font-size="24.70" text-anchor="end">25</text>
<line x1="1191.8" y1="227.6" x2="1202" y2="227.6" stroke="#000" stroke-width="3"/>
<text x="1187.7" y="236.2" font-size="24.70" text-anchor="end">20</text>
<line x1="1191.8" y1="293.4" x2="1202" y2="293.4" stroke="#000" stroke-width="3"/>
<text x="1187.7" y="302" font-size="24.70" text-anchor="end">15</text>
<line x1="1191.8" y1="359.2" x2="1202" y2="359.2" stroke="#000" stroke-width="3"/>
<text x="1187.7" y="367.8" font-size="24.70" text-anchor="end">10</text>
<line x1="1191.8" y1="424.7" x2="1202" y2="424.7" stroke="#000" stroke-width="3"/>
<text x="1187.7" y="433.3" font-size="24.70" text-anchor="end">5</text>
<line x1="1191.8" y1="490.3" x2="1202" y2="490.3" stroke="#000" stroke-width="3"/>
<text x="1187.7" y="498.9" font-size="24.70" text-anchor="end">0</text>
<line x1="1231.4" y1="490.3" x2="1231.4" y2="500.3" stroke="#000" stroke-width="3"/>
<line x1="1272.2" y1="490.3" x2="1272.2" y2="500.3" stroke="#000" stroke-width="3"/>
<line x1="1323.7" y1="490.3" x2="1323.7" y2="500.3" stroke="#000" stroke-width="3"/>
<line x1="1364.5" y1="490.3" x2="1364.5" y2="500.3" stroke="#000" stroke-width="3"/>
<line x1="1416.3" y1="490.3" x2="1416.3" y2="500.3" stroke="#000" stroke-width="3"/>
<line x1="1457.1" y1="490.3" x2="1457.1" y2="500.3" stroke="#000" stroke-width="3"/>
<line x1="1508.2" y1="490.3" x2="1508.2" y2="500.3" stroke="#000" stroke-width="3"/>
<line x1="1549" y1="490.3" x2="1549" y2="500.3" stroke="#000" stroke-width="3"/>
<text transform="translate(1240.4 521.3) rotate(-45)" font-size="25.30" text-anchor="end">Ctl 17</text>
<text transform="translate(1281.2 521.3) rotate(-45)" font-size="25.30" text-anchor="end">Ctl 17+5-HT</text>
<text transform="translate(1332.7 521.3) rotate(-45)" font-size="25.30" text-anchor="end">Non-R</text>
<text transform="translate(1373.5 521.3) rotate(-45)" font-size="25.30" text-anchor="end">Non-R+5-HT</text>
<text transform="translate(1423.2 523.4) rotate(-45)" font-size="25.30" text-anchor="end">Ctl 18</text>
<text transform="translate(1466.1 521.3) rotate(-45)" font-size="25.30" text-anchor="end">Ctl 18+5-HT</text>
<text transform="translate(1512 526.5) rotate(-45)" font-size="25.30" text-anchor="end">Mito</text>
<text transform="translate(1558 521.3) rotate(-45)" font-size="25.30" text-anchor="end">Mito+5-HT</text>
<line x1="1231.9" y1="146.7" x2="1324" y2="146.7" stroke="#000" stroke-width="3"/>
<text x="1279.4" y="143.4" font-size="29.20" text-anchor="middle" font-family='"DejaVu Sans", "Liberation Sans", sans-serif' letter-spacing="3.8" stroke="#000" stroke-width="1.8" stroke-linejoin="round">****</text>
<line x1="1417.1" y1="146.7" x2="1508.9" y2="146.7" stroke="#000" stroke-width="3"/>
<text x="1464.4" y="143.4" font-size="29.20" text-anchor="middle" font-family='"DejaVu Sans", "Liberation Sans", sans-serif' letter-spacing="3.8" stroke="#000" stroke-width="1.8" stroke-linejoin="round">*</text>
<line x1="1231.9" y1="186.2" x2="1272.4" y2="186.2" stroke="#000" stroke-width="3"/>
<text x="1253.6" y="182.9" font-size="29.20" text-anchor="middle" font-family='"DejaVu Sans", "Liberation Sans", sans-serif' letter-spacing="3.8" stroke="#000" stroke-width="1.8" stroke-linejoin="round">****</text>
<line x1="1417.1" y1="186.2" x2="1457.1" y2="186.2" stroke="#000" stroke-width="3"/>
<text x="1438.5" y="182.9" font-size="29.20" text-anchor="middle" font-family='"DejaVu Sans", "Liberation Sans", sans-serif' letter-spacing="3.8" stroke="#000" stroke-width="1.8" stroke-linejoin="round">***</text>
<text x="1858.9" y="96.2" font-size="32.20" text-anchor="middle">Capacitance</text>
<text transform="translate(1700 324.3) rotate(-90)" font-size="28.00" text-anchor="middle">Membrane capacitance (pF)</text>
<path d="M1794.5 279.8h0M1804.7 276.9h0M1796.9 279.6h0M1804.3 277.3h0M1794.9 305.2h0M1806.1 304.3h0M1794.7 310.5h0M1805.9 309.5h0M1800.0 323.8h0M1793.2 334.4h0M1801.7 334.0h0M1808.9 332.8h0M1784.3 339.0h0M1796.0 341.5h0M1807.0 340.9h0M1816.9 339.2h0M1792.2 353.7h0M1809.0 353.7h0M1795.4 361.9h0M1807.2 362.1h0M1797.8 371.2h0M1803.8 372.1h0M1789.4 382.4h0M1801.8 382.2h0M1810.5 384.1h0M1795.4 392.9h0M1804.6 390.3h0M1785.5 398.7h0M1795.3 400.5h0M1805.2 401.5h0M1814.6 400.9h0M1795.8 409.0h0M1804.8 410.5h0M1801.3 195.7h0M1801.3 247.5h0M1796.2 432.0h0M1805.7 428.9h0M1800.6 420.4h0" fill="none" stroke="#848484" stroke-width="10.8" stroke-linecap="round"/>
<path d="M1861.2 273.7h0M1857.9 286.5h0M1865.1 285.6h0M1852.9 296.8h0M1861.7 297.0h0M1870.0 296.2h0M1855.0 305.2h0M1866.6 304.1h0M1853.4 315.3h0M1861.2 318.6h0M1869.2 316.4h0M1857.7 330.5h0M1863.8 328.0h0M1857.2 339.3h0M1864.5 339.8h0M1859.8 345.3h0M1864.8 346.6h0M1850.5 357.7h0M1860.7 359.0h0M1871.1 358.9h0M1854.5 364.3h0M1867.0 366.5h0M1849.7 374.1h0M1857.5 372.1h0M1864.5 373.7h0M1874.0 372.0h0M1851.3 381.6h0M1862.5 382.7h0M1872.6 381.3h0M1854.6 391.1h0M1862.1 392.0h0M1867.9 390.3h0M1856.1 399.9h0M1867.7 401.7h0M1853.8 408.1h0M1867.7 410.5h0M1861.4 211.7h0M1861.4 420.4h0M1861.4 432.7h0" fill="none" stroke="#646464" stroke-width="10.8" stroke-linecap="round"/>
<path d="M1916.4 287.6h0M1905.9 295.4h0M1916.8 296.4h0M1926.3 294.7h0M1901.1 305.3h0M1911.0 302.4h0M1919.8 303.8h0M1929.6 304.9h0M1906.6 311.0h0M1914.7 311.4h0M1926.9 311.5h0M1906.6 321.9h0M1915.1 321.8h0M1924.2 320.0h0M1906.2 334.5h0M1917.0 335.1h0M1926.3 334.7h0M1909.5 343.8h0M1921.3 343.2h0M1903.9 356.8h0M1915.5 356.4h0M1925.8 355.8h0M1901.1 364.4h0M1910.7 365.6h0M1921.5 365.9h0M1930.0 363.8h0M1902.6 370.8h0M1910.8 370.2h0M1919.5 369.8h0M1928.6 373.3h0M1902.9 380.4h0M1915.9 378.8h0M1928.7 379.8h0M1901.8 389.9h0M1911.0 390.4h0M1921.0 389.9h0M1929.1 388.8h0M1900.7 403.6h0M1910.2 401.6h0M1919.7 402.5h0M1929.8 403.1h0M1908.0 408.4h0M1916.1 410.0h0M1924.3 410.9h0M1906.9 420.1h0M1916.0 421.9h0M1923.9 420.6h0M1915.2 258.0h0" fill="none" stroke="#363636" stroke-width="10.8" stroke-linecap="round"/>
<line x1="1780.6" y1="354.3" x2="1820.6" y2="354.3" stroke="#000" stroke-width="3.2"/>
<line x1="1790.6" y1="346.6" x2="1810.6" y2="346.6" stroke="#000" stroke-width="3.2"/>
<line x1="1790.6" y1="362.1" x2="1810.6" y2="362.1" stroke="#000" stroke-width="3.2"/>
<line x1="1800.6" y1="346.6" x2="1800.6" y2="362.1" stroke="#000" stroke-width="2.6"/>
<line x1="1841.4" y1="347.4" x2="1881.4" y2="347.4" stroke="#000" stroke-width="3.2"/>
<line x1="1851.4" y1="341.9" x2="1871.4" y2="341.9" stroke="#000" stroke-width="3.2"/>
<line x1="1851.4" y1="353" x2="1871.4" y2="353" stroke="#000" stroke-width="3.2"/>
<line x1="1861.4" y1="341.9" x2="1861.4" y2="353" stroke="#000" stroke-width="2.6"/>
<line x1="1895.9" y1="357.5" x2="1935.9" y2="357.5" stroke="#000" stroke-width="3.2"/>
<line x1="1905.9" y1="351.4" x2="1925.9" y2="351.4" stroke="#000" stroke-width="3.2"/>
<line x1="1905.9" y1="363.5" x2="1925.9" y2="363.5" stroke="#000" stroke-width="3.2"/>
<line x1="1915.9" y1="351.4" x2="1915.9" y2="363.5" stroke="#000" stroke-width="2.6"/>
<line x1="1760.8" y1="160.6" x2="1760.8" y2="490.5" stroke="#000" stroke-width="3"/>
<line x1="1759.3" y1="489" x2="1958.2" y2="489" stroke="#000" stroke-width="3"/>
<line x1="1747.5" y1="162.1" x2="1760.8" y2="162.1" stroke="#000" stroke-width="3"/>
<text x="1743.8" y="170.7" font-size="24.70" text-anchor="end">25</text>
<line x1="1747.5" y1="227.5" x2="1760.8" y2="227.5" stroke="#000" stroke-width="3"/>
<text x="1743.8" y="236.1" font-size="24.70" text-anchor="end">20</text>
<line x1="1747.5" y1="292.7" x2="1760.8" y2="292.7" stroke="#000" stroke-width="3"/>
<text x="1743.8" y="301.3" font-size="24.70" text-anchor="end">15</text>
<line x1="1747.5" y1="358.1" x2="1760.8" y2="358.1" stroke="#000" stroke-width="3"/>
<text x="1743.8" y="366.7" font-size="24.70" text-anchor="end">10</text>
<line x1="1747.5" y1="423.3" x2="1760.8" y2="423.3" stroke="#000" stroke-width="3"/>
<text x="1743.8" y="431.9" font-size="24.70" text-anchor="end">5</text>
<line x1="1747.5" y1="489" x2="1760.8" y2="489" stroke="#000" stroke-width="3"/>
<text x="1743.8" y="497.6" font-size="24.70" text-anchor="end">0</text>
<line x1="1800.6" y1="489" x2="1800.6" y2="499" stroke="#000" stroke-width="3"/>
<line x1="1861.4" y1="489" x2="1861.4" y2="499" stroke="#000" stroke-width="3"/>
<line x1="1915.9" y1="489" x2="1915.9" y2="499" stroke="#000" stroke-width="3"/>
<text transform="translate(1807.8 520) rotate(-45)" font-size="25.30" text-anchor="end">DMSO</text>
<text transform="translate(1868.6 520) rotate(-45)" font-size="25.30" text-anchor="end">5-HT+DMSO</text>
<text transform="translate(1923.1 520) rotate(-45)" font-size="25.30" text-anchor="end">5-HT+M100907</text>
<text x="0.5" y="741.3" font-size="62.50">C</text>
<text x="347.1" y="748.8" font-size="30.20" text-anchor="middle">Untreated</text>
<text transform="translate(53.6 928) rotate(-90)" font-size="18.90" text-anchor="middle" letter-spacing="0.3">Current (nA)</text>
<text x="350" y="1159.5" font-size="18.90" text-anchor="middle" letter-spacing="0.3">Time(ms)</text>
<g fill="none" stroke="#262626" stroke-width="0.8" stroke-linejoin="round">
<path d="M107.1 1004.5l7.3 .2l7.3-.1l7.4 .4l7.3-.5l7.3-.1l7.3-.5l7.3 .2l7.3 0l7.4-25.6l.7-13.1l.7-13.3l.7-12.6l.8-12.5l.7-11.9l.7-10.8l.8-8.9l.7-9.5l.7-7l.8-6.6l.7-4l.7-4.6l.8-4l.7-2.2l.7-5.7l.8-2.7l.7-2.1l.7-1.2l.8-3.7l.7-.3l.7 .5l.8-1.4l.7-.2l.7-1l.7 1.4l.8-4.7l.7 .6l.7 2.9l.8 .9l.7 0l.7-2.4l.8-.3l.7-.9l.7-.8l.8 .9l.7-1.9l.7-1.6l.8-1.1l.7 1.1l.7 .5l.8-1.1l.7 0l.7 1.6l.7-1.4l.8-1.9l.7-.2l1.8-.6l1.9-.5l1.8-.9l1.8 1.3l1.9-2.2l1.8-.8l1.8-.6l1.8 .1l1.9-1.1l1.8-1.4l1.8-.4l1.9-2.5l1.8-.2l1.8-1.5l1.8-1.4l1.9 1.1l1.8 1.7l1.8 .9l1.9-.3l1.8-1.1l1.8-1.3l1.9-2.7l1.8-.6l1.8 2.6l1.8-1.4l1.9 .4l1.8-2.6l1.8 1.5l1.9 1.8l1.8 1.7l1.8 1.2l1.8-3.8l1.9-.8l1.8-.7l1.8 .9l1.9-1.6l1.8-2.4l1.8-.5l1.9 1.9l1.8 3.9l1.8-.1l1.8-1.6l1.9-3.8l1.8 1.4l1.8 .9l1.9 .4l1.8 2.1l1.8-.4l1.8 2.3l1.9-2.5l1.8-3l1.8-2.1l1.9-.7l1.8 1.6l1.8-.4l1.8 .6l1.9 .3l1.8 2.3l1.8 1l1.9 1.9l1.8-3.1l1.8-1.4l1.9-2.4l1.8-.7l1.8 1.1l1.8 .2l1.9-.5l1.8 0l1.8-.5l1.9 1.9l1.8 .8l1.8 .2l1.8 1.5l1.9-1.8l1.8 .7l1.8-.9l1.9 1.9l1.8-3.2l1.8-.7l1.9-2.5l1.8 3.6l1.8 1.5l1.8-.8l1.9-1.3l1.8-1.1l1.8 2.7l1.9 1.2l1.8-.6l1.8-2.7l1.8 .6l1.9 1.9l1.8 2.2l1.8-.5l1.9-1.9l1.8-1.5l1.8-1.5l1.8 1.2l1.9 .5l1.8 1.1l1.8-2.7l1.9-.5l1.8 .5l1.8 .7l1.9-.6l1.8-1.3l1.8-.5l1.8 1.6l1.9-.6l1.8 2.1l1.8 .4l1.9 2l1.8-1.9l1.8-1.1l1.8 .8l1.9 3l1.8-1.7l1.8-2.7l1.9 0l1.8-.6l1.8 1.7l1.9 .1l1.8 2.7l1.8-1.8l1.8-2.7l1.9-.7l1.8 1.9l1.8 1.9l1.9 2.7l1.8-.6l1.8 .1l1.8-1.5l1.9 .7l1.8-.3l1.8 1l1.9 .2l1.8 .4l1.8 .4l1.8-.4l1.9-1.5l1.8-1.2l1.8 .3l1.9 .1l1.8-.3l1.8-2.8l1.9 1.2l1.8 0l1.8 203.8l.7-2.4l.8-1.9l.7-1.6l.7-1.1l.8-1l.7-.7l.7-.7l.8-.3l.7-.4l.7-.1l.8-.3l.7-.2l.7-.6l.8-.4l.7-.1l.7 .2l.7 0l.8-.3l.7-.3l.7 .2l7.4 0l7.3 .3l7.3 0l7.3 .1l7.3 0l7.3 .3l7.4 0l7.3-.1l7.3-.1l7.3-.3l7.3 .3l7.3-.1l7.4 0l7.3 0l2.3 0"/>
<path d="M107.1 1004.8l7.3-.3l7.3-.1l7.4-.3l7.3-.1l7.3 0l7.3 .2l7.3 .5l7.3 .1l7.4-23.8l.7-13.2l.7-13.4l.7-13.1l.8-12.1l.7-10.4l.7-10l.8-7.6l.7-8.3l.7-7.1l.8-6.1l.7-4.9l.7-4.5l.8-5.6l.7-2.3l.7-2.2l.8-4.2l.7-3.5l.7-2.4l.8-.2l.7 .5l.7-1.3l.8-.4l.7-3.2l.7-1.6l.7-.5l.8-2.4l.7 0l.7-.1l.8 2.2l.7-2.2l.7-.1l.8-.3l.7 1.2l.7 1.4l.8-1.9l.7 .2l.7 1.1l.8 1.2l.7-1.4l.7-2.6l.8-1l.7 .5l.7-.6l.7-1.8l.8-1.2l.7-.4l1.8 .9l1.9-.3l1.8-.8l1.8-.8l1.9-1l1.8 1.4l1.8-.8l1.8-.6l1.9-2.4l1.8 .4l1.8 .5l1.9-.6l1.8-1.6l1.8 .3l1.8-.2l1.9 .8l1.8 0l1.8-.7l1.9 0l1.8-.4l1.8 .5l1.9-1.7l1.8 1.9l1.8 .6l1.8-1l1.9-.7l1.8 .4l1.8 .2l1.9-.9l1.8-2.3l1.8-2.5l1.8-2l1.9-.9l1.8 .8l1.8-1.4l1.9-.3l1.8-.7l1.8 1l1.9-1.5l1.8 1.3l1.8 .9l1.8-.1l1.9 .5l1.8-1.8l1.8 0l1.9-1.5l1.8 2.5l1.8 1.8l1.8 1.7l1.9-1.5l1.8-.5l1.8-.4l1.9-1.8l1.8 2.3l1.8 .5l1.8 0l1.9-1.7l1.8-.7l1.8 .2l1.9-.4l1.8 .4l1.8-1.4l1.9-.1l1.8-1.1l1.8 1.7l1.8-2.3l1.9 1.5l1.8 1.8l1.8 .6l1.9-.9l1.8 1l1.8 3.4l1.8 .3l1.9-2.7l1.8-1.2l1.8-.5l1.9-.2l1.8-2.4l1.8-.1l1.9-2.6l1.8 1.7l1.8 4.2l1.8 .7l1.9-.1l1.8-2.1l1.8 .9l1.9-2l1.8 .6l1.8 1.1l1.8 .7l1.9-.7l1.8 .2l1.8-.4l1.9-3.7l1.8 .1l1.8-.6l1.8 3.3l1.9 0l1.8 .5l1.8-2.3l1.9 1.3l1.8-.2l1.8 .4l1.9-2.1l1.8-.8l1.8-.2l1.8 1.8l1.9 1.1l1.8 .5l1.8 .5l1.9 1.5l1.8 1.2l1.8-.7l1.8-2.1l1.9-1.8l1.8-.4l1.8 .9l1.9-.4l1.8-2.3l1.8 .4l1.9 .7l1.8 1.5l1.8-.7l1.8 2l1.9 .3l1.8 3.3l1.8-3.2l1.9-.1l1.8-.8l1.8 2.3l1.8 2.5l1.9 0l1.8-.4l1.8-1.4l1.9-2.4l1.8-.3l1.8-.4l1.8 1.5l1.9 0l1.8-2.3l1.8-.2l1.9 1.4l1.8 1.3l1.8 .2l1.9-.6l1.8-.8l1.8 196.3l.7-2.4l.8-1.6l.7-1.5l.7-.9l.8-1.3l.7-.6l.7-.8l.8 .1l.7-.4l.7-.3l.8-.5l.7-.4l.7-.4l.8-.1l.7-.1l.7 .1l.7-.2l.8 .2l.7 0l.7-.2l7.4 .1l7.3 .2l7.3-.1l7.3-.1l7.3-.2l7.3 .1l7.4 0l7.3 .1l7.3 .1l7.3 0l7.3-.2l7.3 0l7.4-.1l7.3 0l2.3 .2"/>
<path d="M107.1 1004.5l7.3 0l7.3-.2l7.4-.2l7.3 0l7.3 .1l7.3 0l7.3 .2l7.3-.1l7.4-21.6l.7-10.8l.7-10.5l.7-11.2l.8-10.3l.7-11.1l.7-8.9l.8-8.9l.7-7.4l.7-7.5l.8-6.5l.7-6.2l.7-4.7l.8-4.3l.7-3.5l.7-4.3l.8-3.1l.7-2.9l.7-2.3l.8-1.5l.7-.3l.7 .3l.8-.7l.7-1.5l.7-.8l.7-1.1l.8-.2l.7-1.4l.7 1l.8 .4l.7 .9l.7-.8l.8 .3l.7-.3l.7 1l.8-1.8l.7 .6l.7-2.2l.8 .5l.7-.6l.7-1.7l.8-.8l.7-.4l.7 2.1l.7-1.1l.8 1.1l.7-1.8l1.8 .7l1.9-1.4l1.8-.8l1.8-2.5l1.9-1.1l1.8 1l1.8 2.1l1.8-.6l1.9-1.9l1.8-3l1.8-.3l1.9 .1l1.8-1.2l1.8-1.6l1.8 .2l1.9 1.8l1.8-.5l1.8 .9l1.9-.8l1.8 .1l1.8-2.2l1.9-1.1l1.8-.4l1.8 .1l1.8 1.3l1.9 1.4l1.8-1.1l1.8-.6l1.9-2.2l1.8 1.1l1.8-1.6l1.8-.9l1.9-1.4l1.8 1.9l1.8-1.4l1.9-.4l1.8 .1l1.8 1.7l1.9 .9l1.8-1.3l1.8 1.2l1.8-1.3l1.9-.8l1.8-1.7l1.8 .5l1.9 1.1l1.8-.4l1.8 .4l1.8-.4l1.9-1.3l1.8-2.1l1.8 1.2l1.9 0l1.8 2.5l1.8-1.2l1.8 .7l1.9-.4l1.8 .9l1.8 1.3l1.9 0l1.8-.6l1.8-.9l1.9-2.2l1.8 1.4l1.8 1.1l1.8 1.4l1.9-1.6l1.8-.3l1.8 0l1.9-.7l1.8-2l1.8-.5l1.8-.1l1.9 .9l1.8 1.9l1.8-.1l1.9 .7l1.8-2.3l1.8 1.8l1.9-.4l1.8 1.4l1.8-2.4l1.8-1.2l1.9-.9l1.8 1l1.8 1.2l1.9 .2l1.8 .2l1.8-2.2l1.8 .5l1.9 2.1l1.8 .1l1.8 .3l1.9-1.5l1.8 1.8l1.8-2.4l1.8-1l1.9-.6l1.8 1.3l1.8 1.2l1.9 1.1l1.8-.1l1.8-.6l1.9 2l1.8-1.4l1.8-3l1.8-1.9l1.9 2.1l1.8 1.7l1.8-.3l1.9 1.2l1.8 1.9l1.8-.5l1.8-2.7l1.9-2.8l1.8-.3l1.8 .6l1.9 .4l1.8-1.2l1.8-.4l1.9-.6l1.8-.4l1.8 .9l1.8 .4l1.9 1.6l1.8-.2l1.8 .2l1.9 1.5l1.8-1l1.8 1.1l1.8-1l1.9 .9l1.8 1.4l1.8 0l1.9-.3l1.8-1.1l1.8 .9l1.8 1.6l1.9 .2l1.8-1.6l1.8-2.4l1.9 0l1.8-.8l1.8 1l1.9 1.3l1.8 .3l1.8 186.2l.7-2.2l.8-1.6l.7-1.3l.7-1.1l.8-.8l.7-.9l.7-.5l.8-.6l.7-.4l.7-.4l.8 0l.7-.3l.7 0l.8-.2l.7-.1l.7-.1l.7-.3l.8-.4l.7 .1l.7 0l7.4-.1l7.3 0l7.3 .1l7.3 .4l7.3 0l7.3-.2l7.4 0l7.3 0l7.3 .1l7.3 .1l7.3 0l7.3 0l7.4-.1l7.3-.1l2.3 0"/>
<path d="M107.1 1004.1l7.3 0l7.3-.3l7.4 0l7.3 .1l7.3 .3l7.3-.1l7.3-.1l7.3 .1l7.4-20.1l.7-8.3l.7-9.2l.7-8l.8-9.5l.7-9l.7-9.6l.8-8.4l.7-7.5l.7-6.4l.8-6.8l.7-6.2l.7-7.5l.8-2.9l.7-3.2l.7-.9l.8-4.9l.7-1.2l.7-2.3l.8-1.3l.7-2.2l.7-1.9l.8-.2l.7-2.6l.7-1.5l.7-.9l.8-.3l.7-1l.7-1.4l.8-.6l.7-.5l.7 2.2l.8 .2l.7 .3l.7-1.5l.8-1.2l.7 .9l.7 .3l.8-.2l.7-.5l.7-.8l.8-.2l.7-.7l.7-.9l.7-1.1l.8-.3l.7-.6l1.8-.1l1.9-.2l1.8 .9l1.8 .3l1.9-2.7l1.8-3.1l1.8-2.5l1.8 .3l1.9-.2l1.8 2.5l1.8 2.2l1.9 2.4l1.8-1l1.8-.4l1.8-1.5l1.9-.2l1.8-2.1l1.8 .6l1.9-.2l1.8-1l1.8-2.4l1.9-.3l1.8-.3l1.8 2.2l1.8 .1l1.9 .2l1.8-2.9l1.8 .5l1.9 .3l1.8 .9l1.8-1.4l1.8 .4l1.9-.1l1.8 1.3l1.8-.8l1.9 1.1l1.8-1.8l1.8-.1l1.9-1.6l1.8-.4l1.8 .4l1.8 1.2l1.9-.8l1.8-1l1.8-1.8l1.9-.5l1.8-.5l1.8-.7l1.8 1.3l1.9 1.2l1.8-.9l1.8 .5l1.9-1.5l1.8 1l1.8-.9l1.8-.9l1.9 .7l1.8 .9l1.8-.3l1.9 .5l1.8-.3l1.8 1.7l1.9 .9l1.8 1l1.8 .2l1.8-1.4l1.9 1.6l1.8 0l1.8 1.3l1.9-1.4l1.8-.5l1.8 .3l1.8-3l1.9 1.2l1.8-1.4l1.8 2.3l1.9-.7l1.8-1.2l1.8-.7l1.9-.3l1.8 1.9l1.8-.4l1.8-.7l1.9-1l1.8 .6l1.8 .9l1.9 .1l1.8 1.3l1.8 .2l1.8 .2l1.9-.2l1.8 2.3l1.8-.1l1.9-1.1l1.8-3.6l1.8-.4l1.8-1.6l1.9 1.1l1.8 3.2l1.8-1.8l1.9-1.8l1.8-2.1l1.8 2.9l1.9 .4l1.8 .7l1.8-1.1l1.8 .3l1.9-.9l1.8 1.9l1.8-.4l1.9-.7l1.8-1.6l1.8 2.2l1.8 1.2l1.9 0l1.8-1.8l1.8-1.2l1.9 1.8l1.8-.2l1.8 .9l1.9 0l1.8 1.6l1.8-.7l1.8 1.2l1.9 1.1l1.8 .7l1.8-1.2l1.9-1.9l1.8 0l1.8-2.8l1.8-1.6l1.9-.4l1.8 .6l1.8 .5l1.9 .4l1.8-.2l1.8 1.1l1.8-.1l1.9-1.4l1.8-.7l1.8-2.3l1.9 3.7l1.8 1.5l1.8 1.6l1.9-1.7l1.8-.7l1.8 174.7l.7-2.1l.8-1.6l.7-1.3l.7-1l.8-.9l.7-.3l.7-.4l.8-.5l.7-.6l.7-.5l.8-.1l.7-.3l.7 .2l.8-.2l.7-.2l.7-.4l.7-.2l.8 0l.7 .1l.7 .3l7.4-.1l7.3 .1l7.3-.2l7.3 .1l7.3-.2l7.3 .1l7.4-.1l7.3 .1l7.3-.3l7.3 .1l7.3 0l7.3 .5l7.4-.2l7.3 0l2.3 .1"/>
<path d="M107.1 1004.3l7.3 .1l7.3-.1l7.4 .3l7.3-.2l7.3-.1l7.3-.1l7.3 .1l7.3 0l7.4-15.2l.7-7l.7-7l.7-7.6l.8-8.2l.7-7l.7-7.7l.8-6.9l.7-9.5l.7-6.5l.8-8.9l.7-7.2l.7-9.6l.8-4l.7-1.9l.7-1.1l.8-3.2l.7-3.9l.7-1.3l.8-.6l.7-2.1l.7-3.1l.8 .1l.7 .4l.7 .8l.7-.8l.8-.8l.7-.6l.7-.7l.8 0l.7-1.1l.7-1.7l.8-.7l.7 1.3l.7 1.2l.8 1.4l.7-1l.7-1.7l.8-.1l.7-.1l.7 1l.8-1.9l.7-.6l.7-2.6l.7-1.1l.8-1.1l.7 .8l1.8-.8l1.9 1l1.8-1.6l1.8 .9l1.9-.9l1.8-.1l1.8-2.3l1.8 .9l1.9 1.2l1.8 0l1.8 0l1.9-3.1l1.8 .7l1.8-2.1l1.8-.2l1.9 0l1.8-.5l1.8 1.6l1.9 .1l1.8 1l1.8 1.4l1.9-1.7l1.8-.7l1.8-2.7l1.8 0l1.9-1.4l1.8 1.1l1.8-.1l1.9 0l1.8-1.1l1.8-1.9l1.8 .8l1.9-.3l1.8 .3l1.8-.3l1.9-1.8l1.8 .8l1.8-2.3l1.9 .9l1.8-.8l1.8 .6l1.8 .2l1.9-.1l1.8-1.1l1.8 1l1.9 .1l1.8 .7l1.8 .6l1.8 .6l1.9-.7l1.8-1.5l1.8-.3l1.9 .8l1.8 .6l1.8 1.2l1.8 .3l1.9-.1l1.8 .3l1.8-.7l1.9 1.2l1.8-.9l1.8 .7l1.9-2.8l1.8 .6l1.8-.7l1.8 .9l1.9-.1l1.8 .5l1.8-.9l1.9-.3l1.8-1.1l1.8 .6l1.8-.7l1.9 1.3l1.8-.3l1.8-1l1.9 .8l1.8-.8l1.8-.4l1.9-.8l1.8-1l1.8 2.2l1.8 .2l1.9 3.6l1.8 .8l1.8 2.1l1.9-2.1l1.8-2.2l1.8 0l1.8 0l1.9 .7l1.8-1.3l1.8 .8l1.9-2.5l1.8 1.8l1.8-.8l1.8-.8l1.9-2.9l1.8-.2l1.8 2.8l1.9-1.4l1.8 .7l1.8-.6l1.9 .9l1.8 .4l1.8 .3l1.8-1.3l1.9-.6l1.8-1.5l1.8-.6l1.9 1.6l1.8 .9l1.8 2l1.8-.3l1.9-.4l1.8 1.3l1.8-1.7l1.9 2.6l1.8-.7l1.8 1.9l1.9 0l1.8-.4l1.8 0l1.8-2.2l1.9 1.6l1.8-1.8l1.8 1.3l1.9-1.6l1.8 .1l1.8-2.3l1.8 0l1.9 .4l1.8 1.4l1.8-.7l1.9 .9l1.8 0l1.8-.3l1.8-.1l1.9 .8l1.8 .9l1.8 .3l1.9-.5l1.8 .7l1.8-.9l1.9 .4l1.8 1l1.8 161.2l.7-2l.8-1.6l.7-1.3l.7-1l.8-.9l.7-.4l.7-.5l.8-.5l.7-.7l.7-.4l.8 0l.7 0l.7-.1l.8-.2l.7 0l.7 .1l.7-.3l.8-.1l.7-.1l.7 0l7.4-.2l7.3 .3l7.3 .1l7.3-.1l7.3 0l7.3-.1l7.4-.3l7.3-.2l7.3-.2l7.3 .3l7.3 0l7.3 .3l7.4-.1l7.3 0l2.3-.4"/>
<path d="M107.1 1004.5l7.3-.4l7.3 .1l7.4 0l7.3 .4l7.3-.2l7.3 .1l7.3 0l7.3 0l7.4-8.5l.7-4.6l.7-4.4l.7-5l.8-4.8l.7-6.1l.7-7l.8-8.9l.7-9.5l.7-9.4l.8-9.5l.7-6.7l.7-5.9l.8-4.3l.7-3.3l.7-4.1l.8-3.9l.7-3.4l.7-2.4l.8-1.2l.7-1l.7 .9l.8-1.3l.7-1.9l.7-3.2l.7-.1l.8-1l.7-.4l.7-1.1l.8 .7l.7 1.4l.7 1.9l.8-.5l.7-.1l.7-.8l.8-.7l.7 .4l.7-1.3l.8-.7l.7-.3l.7 .8l.8 1.5l.7-.1l.7-.9l.7 0l.8-1.1l.7-1.1l1.8-2.3l1.9-.8l1.8-.3l1.8 1l1.9-2.7l1.8 .7l1.8-2.5l1.8 2.4l1.9-1.6l1.8 .1l1.8-1l1.9 .9l1.8-.6l1.8-.3l1.8-.5l1.9 .2l1.8 0l1.8-.7l1.9 .4l1.8 .2l1.8-.7l1.9-1l1.8-.9l1.8 1.7l1.8 .4l1.9-.5l1.8 .1l1.8-.9l1.9 2.6l1.8-1.4l1.8 .5l1.8-4l1.9-1.5l1.8 0l1.8 .2l1.9-.1l1.8-1.8l1.8-.3l1.9 .5l1.8 2.7l1.8 1.1l1.8-.4l1.9-1.8l1.8 .4l1.8 1.5l1.9 1.6l1.8-2l1.8-1.6l1.8 .3l1.9 .8l1.8 .7l1.8-1.3l1.9-1.2l1.8 .5l1.8 .1l1.8 .2l1.9 .6l1.8-.6l1.8 1.7l1.9-.9l1.8-1.5l1.8-1.2l1.9-.4l1.8-.1l1.8 .2l1.8 0l1.9 .7l1.8-1.3l1.8 .2l1.9 0l1.8 1.9l1.8 0l1.8 .2l1.9-1.1l1.8-1.2l1.8-.2l1.9 1.9l1.8-.3l1.8 .7l1.9-1.4l1.8 .5l1.8 1l1.8-.6l1.9 .4l1.8-2.2l1.8 1.3l1.9 1.3l1.8 1.3l1.8-2.4l1.8 .6l1.9 1.2l1.8 1.5l1.8-1.3l1.9-.1l1.8-1.3l1.8-1l1.8-.4l1.9 .5l1.8 2l1.8 .1l1.9-.2l1.8-2.2l1.8 .1l1.9-.1l1.8-.1l1.8-.9l1.8 .3l1.9 0l1.8-1.1l1.8-.4l1.9 1.4l1.8-.5l1.8 .3l1.8 .4l1.9 1.7l1.8-.7l1.8-2.4l1.9-1.2l1.8 .9l1.8 .4l1.9 .4l1.8-1.4l1.8 0l1.8 2l1.9 1.1l1.8 .1l1.8-1.4l1.9 1.3l1.8 .2l1.8 0l1.8-.2l1.9 1.7l1.8-.9l1.8 .7l1.9-.5l1.8 .8l1.8-1.4l1.8-1l1.9-.9l1.8-.1l1.8-.7l1.9 1.8l1.8-2.4l1.8-.3l1.9 .4l1.8 1.8l1.8 147.5l.7-1.8l.8-1.2l.7-1l.7-1.1l.8-1l.7-.7l.7-.4l.8-.2l.7-.2l.7-.2l.8-.3l.7-.1l.7 0l.8-.2l.7-.2l.7-.3l.7 .2l.8 .1l.7-.1l.7-.2l7.4-.3l7.3 .2l7.3 0l7.3 .1l7.3 0l7.3-.3l7.4-.1l7.3 .1l7.3 0l7.3 .2l7.3-.2l7.3 .1l7.4 0l7.3 .1l2.3-.2"/>
<path d="M107.1 1004.5l7.3 .1l7.3-.2l7.4 0l7.3-.2l7.3-.1l7.3-.3l7.3 .1l7.3 .1l7.4-3.8l.7-1.9l.7-1.7l.7-1.5l.8-2.5l.7-3.1l.7-6.5l.8-8.3l.7-9.9l.7-10.2l.8-9.1l.7-10.6l.7-8.1l.8-6.2l.7-4.4l.7-4.2l.8-2.6l.7-3.3l.7-3.8l.8-3.8l.7-2.2l.7 1l.8 1l.7 .1l.7-1.8l.7-2l.8 .4l.7 .9l.7-.1l.8-1.7l.7-1.1l.7-2l.8 1l.7 .6l.7 1l.8-.6l.7-.5l.7-1.4l.8-.4l.7 0l.7-.1l.8-.6l.7-2.8l.7 1.3l.7 .8l.8 1.5l.7-1.3l1.8-3l1.9 .1l1.8 0l1.8-.4l1.9-1.7l1.8-1l1.8-.3l1.8 1.1l1.9-1.1l1.8 .8l1.8-1.7l1.9 1.8l1.8-.9l1.8 1.4l1.8-2l1.9 .1l1.8-1.6l1.8-.5l1.9 .6l1.8 .2l1.8-.9l1.9-1.4l1.8-.8l1.8 .2l1.8 1.5l1.9-.8l1.8 .4l1.8 1.1l1.9-1.1l1.8 .6l1.8-1.2l1.8 .1l1.9 .3l1.8 .5l1.8 .9l1.9-1.5l1.8-.8l1.8 .8l1.9-.2l1.8-.4l1.8-.3l1.8 1.3l1.9-2.2l1.8 1.3l1.8-1.1l1.9 2.1l1.8-1.8l1.8 2.5l1.8-.4l1.9 .4l1.8-.7l1.8 2.3l1.9-1.6l1.8-2.1l1.8-1.8l1.8 2.1l1.9-.9l1.8-1.3l1.8-.7l1.9 .6l1.8-.5l1.8-.1l1.9-.4l1.8 .4l1.8 .8l1.8 1.7l1.9-1.1l1.8-1.3l1.8-1.9l1.9 1.1l1.8-1l1.8-.3l1.8-1l1.9-.1l1.8 1.5l1.8 1.8l1.9-.1l1.8-.2l1.8-.1l1.9 2.8l1.8 .5l1.8 .1l1.8-2.1l1.9-1.2l1.8 0l1.8 2l1.9 1.7l1.8-1l1.8 0l1.8-2.5l1.9-.5l1.8 .5l1.8 .9l1.9-1l1.8-.1l1.8-.3l1.8 .6l1.9-1.3l1.8 .6l1.8-.8l1.9-.5l1.8 1.1l1.8 2.4l1.9 .5l1.8-.5l1.8 0l1.8 .2l1.9-1.6l1.8-.7l1.8-1.2l1.9 .5l1.8-1.2l1.8 .9l1.8 .4l1.9 1.9l1.8-.6l1.8 .1l1.9-.7l1.8-.6l1.8 .3l1.9-.7l1.8 .4l1.8 .5l1.8 1.5l1.9 2l1.8-.4l1.8-.6l1.9-2.8l1.8 .4l1.8 1.3l1.8 .8l1.9-.3l1.8-2l1.8-1l1.9-.8l1.8 .9l1.8 .8l1.8 .4l1.9 .7l1.8 1.6l1.8-.4l1.9-1.1l1.8-1l1.8-.9l1.9 1.7l1.8 .4l1.8 136.6l.7-2.1l.8-1.4l.7-1l.7-.8l.8-.8l.7-.5l.7-.5l.8-.4l.7-.3l.7-.2l.8 0l.7-.1l.7-.1l.8-.3l.7-.1l.7-.3l.7 .1l.8-.1l.7 .2l.7-.3l7.4 0l7.3 .1l7.3 .2l7.3 .3l7.3-.3l7.3-.3l7.4-.3l7.3 .1l7.3 .1l7.3 0l7.3 .2l7.3-.1l7.4 .1l7.3-.1l2.3 .1"/>
<path d="M107.1 1004.2l7.3 0l7.3 0l7.4-.1l7.3 .2l7.3 0l7.3 .2l7.3-.1l7.3-.1l7.4 2l.7 .4l.7 .5l.7 .3l.8 .2l.7-2.4l.7-5.7l.8-8.5l.7-8.9l.7-9.8l.8-10.5l.7-9.4l.7-7.7l.8-6.6l.7-5l.7-5.3l.8-5.6l.7-4.2l.7-1.1l.8 .8l.7-1.2l.7-1l.8-2.4l.7-.2l.7-.4l.7-.9l.8-1.3l.7-1.6l.7 0l.8 0l.7 .1l.7-.9l.8-.1l.7-1.1l.7 .1l.8 .1l.7 .5l.7-1.1l.8-1.1l.7-.2l.7 1.9l.8 .2l.7-.5l.7-1.2l.7-1.7l.8-.5l.7-.8l1.8 1.4l1.9-1l1.8-.3l1.8-.1l1.9 0l1.8-.8l1.8-2.7l1.8 1l1.9-.3l1.8 .4l1.8-.4l1.9-.7l1.8-1.9l1.8 .8l1.8-.1l1.9-.1l1.8-.1l1.8 .1l1.9 .7l1.8-.6l1.8 .1l1.9-.5l1.8-1.4l1.8 .1l1.8 .1l1.9-.6l1.8-1.7l1.8 1.7l1.9-.8l1.8-.9l1.8-1.4l1.8-1.7l1.9 2.7l1.8 .6l1.8 1.4l1.9-2.2l1.8-1.8l1.8-.5l1.9 2l1.8 .1l1.8 1l1.8-1.7l1.9 .5l1.8 .6l1.8 1.1l1.9-1.3l1.8 1.1l1.8 .6l1.8 1.1l1.9-1.2l1.8-2l1.8 1.1l1.9 .1l1.8 .2l1.8-1.4l1.8-1.4l1.9 .5l1.8 .6l1.8-.2l1.9-.4l1.8-.7l1.8-.5l1.9 1.3l1.8 2.5l1.8 .1l1.8-.8l1.9-1.6l1.8 1.5l1.8 .3l1.9-.9l1.8-1l1.8-.8l1.8 2.1l1.9-.2l1.8-1.9l1.8-1.9l1.9-2.4l1.8 4.1l1.8 1l1.9 3.9l1.8-1.6l1.8-.9l1.8-.7l1.9 .5l1.8-1.3l1.8-1l1.9-1l1.8 1.7l1.8 1.8l1.8-.2l1.9 .2l1.8-3l1.8-.5l1.9-1.5l1.8 .6l1.8-.4l1.8 3.5l1.9-.9l1.8 .3l1.8-3.1l1.9 .4l1.8 0l1.8 1.3l1.9 1.2l1.8 3l1.8 .9l1.8-.4l1.9-3.2l1.8-.3l1.8-.3l1.9 .3l1.8-.2l1.8 1.1l1.8-.7l1.9-.2l1.8-1.1l1.8-.1l1.9-.9l1.8 .1l1.8 1.3l1.9-.5l1.8 2l1.8 .6l1.8 .8l1.9 .2l1.8-.6l1.8 .6l1.9-1.5l1.8-.3l1.8-.7l1.8 .6l1.9-.6l1.8 .4l1.8-1.3l1.9-.1l1.8-1.2l1.8 1.3l1.8 1.7l1.9 1.2l1.8-1.9l1.8-.8l1.9 .1l1.8 1.6l1.8 .4l1.9-.8l1.8-1l1.8 121.3l.7-1.7l.8-1.3l.7-1.1l.7-.7l.8-.5l.7-.5l.7-.2l.8-.4l.7-.3l.7-.3l.8 .1l.7-.2l.7-.2l.8-.5l.7 .1l.7-.1l.7 .2l.8-.3l.7-.1l.7-.1l7.4 .4l7.3-.1l7.3-.2l7.3-.3l7.3 .2l7.3 .1l7.4 0l7.3 0l7.3 0l7.3-.1l7.3-.2l7.3 .1l7.4 0l7.3 .1l2.3 .1"/>
<path d="M107.1 1004.4l7.3 .3l7.3-.2l7.4-.3l7.3-.1l7.3 .3l7.3 .2l7.3-.1l7.3-.1l7.4 6.4l.7 2.9l.7 3.5l.7 3.5l.8 1.9l.7-.6l.7-4.6l.8-7l.7-7.4l.7-9.1l.8-10.1l.7-10.2l.7-9.5l.8-7.4l.7-6.5l.7-5.9l.8-6.9l.7-3.4l.7-2.3l.8 .1l.7-3.4l.7-2.6l.8-2.1l.7-1.2l.7 .6l.7 .5l.8-.4l.7-.9l.7-.8l.8-.8l.7 0l.7-.6l.8-.8l.7 .3l.7-.6l.8 1l.7-1.1l.7-.3l.8-1.1l.7-2.3l.7-.8l.8 .7l.7 .9l.7 .5l.7-.5l.8 1.2l.7 .2l1.8-.5l1.9-1.3l1.8-.3l1.8-1.6l1.9-.1l1.8 .4l1.8 .4l1.8 .6l1.9-1.3l1.8-.1l1.8 0l1.9 .9l1.8-1.8l1.8-1.3l1.8-.7l1.9 1.3l1.8 .4l1.8-1.6l1.9 1l1.8 .2l1.8 .6l1.9 .9l1.8-1l1.8-.8l1.8-2.4l1.9-.6l1.8-.5l1.8-1.1l1.9-.3l1.8 .6l1.8 1l1.8 1.6l1.9-.6l1.8-.2l1.8-1.7l1.9-.2l1.8-2.9l1.8 1.1l1.9 .1l1.8 2.6l1.8-.6l1.8-.7l1.9-.1l1.8-.2l1.8 1.6l1.9-1l1.8-.6l1.8-.6l1.8 1.5l1.9 .5l1.8-.3l1.8-.5l1.9 .6l1.8 .6l1.8-.3l1.8-.6l1.9-.9l1.8-.7l1.8 .7l1.9 .5l1.8 1.2l1.8 .1l1.9 1l1.8-.2l1.8-.7l1.8-.5l1.9 .8l1.8-.2l1.8-.4l1.9-1l1.8-1.8l1.8-.6l1.8-.1l1.9 1.8l1.8-1.5l1.8 .6l1.9 .4l1.8 1l1.8 .7l1.9 .8l1.8-.2l1.8-.2l1.8-1.6l1.9 .4l1.8-1.7l1.8 2.1l1.9-.3l1.8 .2l1.8-1.6l1.8 1.7l1.9-.5l1.8-.7l1.8-2.3l1.9 1.4l1.8-.2l1.8 2l1.8-.8l1.9 1.7l1.8 .1l1.8-.3l1.9-1.3l1.8 .8l1.8 .7l1.9-.4l1.8-1.3l1.8 .1l1.8 .4l1.9 1.7l1.8-1.3l1.8-.3l1.9-1.8l1.8 1.7l1.8 1.2l1.8 .2l1.9-.7l1.8 0l1.8 .5l1.9-.3l1.8 .7l1.8-.7l1.9 1.1l1.8-1.3l1.8 .5l1.8-1.5l1.9-1.3l1.8 0l1.8 .5l1.9-.7l1.8-.2l1.8 .4l1.8 1.3l1.9-.5l1.8-1.1l1.8 0l1.9-1.6l1.8 1.4l1.8 1.5l1.8 3.4l1.9-1.7l1.8-1.8l1.8-2l1.9 .9l1.8-1l1.8 .5l1.9 1.3l1.8 2.9l1.8 103.2l.7-1.7l.8-1.1l.7-.7l.7-.6l.8-.8l.7-.6l.7-.3l.8-.3l.7-.4l.7-.4l.8-.2l.7-.1l.7 .1l.8-.1l.7-.2l.7-.1l.7-.1l.8 0l.7-.2l.7 .2l7.4 0l7.3 .2l7.3-.1l7.3-.1l7.3-.1l7.3 .2l7.4-.1l7.3 .1l7.3-.1l7.3 .1l7.3-.1l7.3-.1l7.4 0l7.3 .2l2.3 .3"/>
<path d="M107.1 1004.3l7.3-.1l7.3-.1l7.4 .2l7.3 0l7.3 0l7.3 .1l7.3 .1l7.3 0l7.4 8.9l.7 3.4l.7 5l.7 4.8l.8 4.7l.7 2.1l.7-.1l.8-4.1l.7-5.6l.7-8.9l.8-9.4l.7-10.5l.7-9.8l.8-8.6l.7-6.8l.7-7.2l.8-5.3l.7-5.7l.7-4.1l.8-3.5l.7-1.3l.7-1.5l.8-.5l.7-2l.7-.6l.7-2.4l.8-.6l.7-.8l.7 .4l.8-.5l.7 0l.7 0l.8 .3l.7 .3l.7 .4l.8 .2l.7 0l.7-.9l.8 .5l.7 .3l.7 .3l.8-1.2l.7-.7l.7-1.5l.7-.8l.8-1.4l.7-.2l1.8 .6l1.9 .8l1.8-.3l1.8-1.4l1.9-.8l1.8 .6l1.8 .1l1.8-.9l1.9 1.2l1.8 .6l1.8 .6l1.9-2.7l1.8-3.5l1.8 1.3l1.8 .1l1.9 1.2l1.8-1.7l1.8 .6l1.9 1.2l1.8-.4l1.8-.6l1.9-.2l1.8 2l1.8 .1l1.8-.8l1.9-2.1l1.8 .9l1.8 .7l1.9 1.7l1.8-1l1.8-.9l1.8-.2l1.9-.1l1.8 .6l1.8-.5l1.9 .1l1.8-.7l1.8-.3l1.9 .8l1.8-.5l1.8-.6l1.8-1.8l1.9 .6l1.8 .2l1.8 0l1.9-.1l1.8-.7l1.8 .7l1.8 .2l1.9 .2l1.8 .6l1.8-.4l1.9 .1l1.8-.7l1.8 1.6l1.8 .2l1.9-.8l1.8-.3l1.8-.3l1.9 1.3l1.8 .1l1.8-.9l1.9-1.2l1.8-.6l1.8 1.6l1.8 0l1.9 .3l1.8-1.1l1.8 1l1.9 .7l1.8 0l1.8-.4l1.8-1.6l1.9 .4l1.8 .4l1.8-.1l1.9-.6l1.8-1.6l1.8 1.1l1.9-.3l1.8-.3l1.8-.1l1.8 .8l1.9-.1l1.8 1.6l1.8 .3l1.9 1.6l1.8-1.3l1.8-.9l1.8-.5l1.9 .9l1.8 .4l1.8 .2l1.9-3.1l1.8-.2l1.8-.3l1.8 1.4l1.9 .5l1.8-.5l1.8-.5l1.9 .8l1.8 .1l1.8 .1l1.9-.7l1.8 .2l1.8-.3l1.8 1l1.9 .7l1.8 1.5l1.8-1.3l1.9-1l1.8-1.6l1.8-.4l1.8 1.2l1.9 1.9l1.8 .8l1.8-.4l1.9-.1l1.8 .1l1.8-.5l1.9-1.2l1.8 1.2l1.8 .7l1.8 .6l1.9-1.8l1.8-.2l1.8-.8l1.9-.1l1.8-.1l1.8 .9l1.8-.8l1.9-.9l1.8-.8l1.8 1.4l1.9 .1l1.8 1.1l1.8-.7l1.8-.5l1.9-.9l1.8 .7l1.8-.1l1.9 .5l1.8-.9l1.8 .4l1.9 .8l1.8 0l1.8 87.3l.7-1.4l.8-1l.7-.8l.7-.6l.8-.6l.7-.3l.7-.5l.8-.4l.7-.4l.7-.2l.8 .1l.7-.1l.7 0l.8 0l.7-.2l.7-.1l.7-.1l.8 .1l.7 0l.7 .2l7.4-.1l7.3-.2l7.3-.3l7.3 0l7.3 .2l7.3 .1l7.4-.2l7.3 0l7.3 .3l7.3 0l7.3 .1l7.3-.1l7.4 .1l7.3-.1l2.3-.1"/>
<path d="M107.1 1004.3l7.3 0l7.3 0l7.4 0l7.3 0l7.3 .1l7.3-.2l7.3-.1l7.3 .1l7.4 8.5l.7 4.3l.7 5.3l.7 6.3l.8 7.3l.7 5.4l.7 3.5l.8-1.3l.7-3.2l.7-5.8l.8-7.3l.7-8.9l.7-10.2l.8-9l.7-9.9l.7-8.7l.8-7.2l.7-5.6l.7-2.9l.8-3.8l.7-2.8l.7-2.7l.8-1.4l.7-.9l.7-.7l.7-.5l.8-1.2l.7-1l.7-1.3l.8-1.1l.7-.9l.7 .6l.8 1.1l.7-.2l.7-.3l.8-1.4l.7-1.2l.7-.4l.8-.7l.7 .7l.7-1.4l.8 .4l.7-.9l.7 1l.7 .3l.8-.2l.7-.1l1.8-.6l1.9 .1l1.8 .4l1.8 .2l1.9-.2l1.8-.8l1.8-.1l1.8 .4l1.9-.8l1.8-1.2l1.8-.3l1.9 .6l1.8 .8l1.8-.3l1.8 .9l1.9-1.7l1.8 .1l1.8-2.1l1.9 .4l1.8-.5l1.8 .3l1.9-.4l1.8-1.2l1.8-1.2l1.8 1.1l1.9-.4l1.8 .6l1.8-.4l1.9 1.8l1.8-1.8l1.8-.3l1.8 1.6l1.9 .6l1.8 .6l1.8-3.1l1.9 .2l1.8-2.1l1.8 .3l1.9-.1l1.8 1.1l1.8-.2l1.8 .6l1.9 .2l1.8 1.8l1.8 .1l1.9-.4l1.8-.9l1.8-.1l1.8-.5l1.9-.3l1.8 1l1.8 1.1l1.9 .4l1.8-1.1l1.8-.5l1.8 .1l1.9 .3l1.8-.1l1.8 0l1.9 .6l1.8 .1l1.8-1.7l1.9-.9l1.8-.7l1.8 1.6l1.8 .4l1.9-.4l1.8-.9l1.8 .4l1.9 .3l1.8 0l1.8-.1l1.8 1.5l1.9 .3l1.8-1l1.8-.5l1.9 .2l1.8 1.1l1.8-.9l1.9-.5l1.8-1.5l1.8 1.5l1.8 .6l1.9 1.6l1.8-.9l1.8-.6l1.9-.6l1.8-.2l1.8-.3l1.8-1.4l1.9 .2l1.8 .5l1.8 .4l1.9-.4l1.8-.3l1.8 .5l1.8 .3l1.9-.5l1.8-.1l1.8 .7l1.9 2l1.8 .7l1.8-.4l1.9-.7l1.8 .6l1.8-1.3l1.8-.7l1.9-.2l1.8 1.1l1.8 1.7l1.9-.9l1.8-1.5l1.8-.7l1.8-.2l1.9 .5l1.8 .7l1.8 1.3l1.9 .4l1.8-.7l1.8-1.7l1.9 .2l1.8-.1l1.8 .4l1.8 .3l1.9-.2l1.8 .7l1.8-.4l1.9-1l1.8 .4l1.8 .1l1.8 .3l1.9 .2l1.8-.7l1.8-.1l1.9-1.2l1.8 .7l1.8 1.2l1.8 .1l1.9 .5l1.8 1.1l1.8-.1l1.9-.7l1.8-.2l1.8-.2l1.9 1.1l1.8-.5l1.8 72.3l.7-1.3l.8-1.1l.7-.8l.7-.7l.8-.5l.7-.3l.7-.3l.8 0l.7-.2l.7-.2l.8-.3l.7-.1l.7-.1l.8 .1l.7 0l.7-.1l.7 0l.8-.2l.7 0l.7-.1l7.4 .2l7.3 0l7.3 .1l7.3-.1l7.3 0l7.3 .1l7.4 0l7.3 0l7.3-.1l7.3-.2l7.3-.2l7.3-.3l7.4 .2l7.3 .2l2.3 .4"/>
<path d="M107.1 1004.1l7.3 0l7.3 .2l7.4 .3l7.3-.1l7.3-.2l7.3-.1l7.3 0l7.3 .3l7.4 6.3l.7 3.5l.7 4.5l.7 6.7l.8 8.4l.7 7.7l.7 7l.8 3.9l.7 1.3l.7-2.9l.8-4.6l.7-7.6l.7-8.1l.8-7.8l.7-8l.7-8.2l.8-7.5l.7-5.2l.7-5.6l.8-4.9l.7-5.3l.7-2.3l.8-4.1l.7-1.9l.7-3.5l.7-2.6l.8-1l.7 1.5l.7 .2l.8-.2l.7-.5l.7 .3l.8-1.7l.7-1.9l.7 .3l.8 1.1l.7 .7l.7-1.2l.8-1.9l.7 .4l.7 .6l.8 1l.7-.2l.7-.4l.7 .5l.8-.4l.7-1l1.8-.5l1.9-.3l1.8 .4l1.8 .1l1.9 .3l1.8 .6l1.8-.5l1.8-.5l1.9 .7l1.8-1l1.8-.2l1.9-.8l1.8 .9l1.8-.2l1.8 .5l1.9-.3l1.8 0l1.8 0l1.9-.7l1.8-.7l1.8-.9l1.9-.3l1.8-.4l1.8 0l1.8-.6l1.9-.1l1.8-.1l1.8 1.3l1.9-.1l1.8 .8l1.8 .4l1.8 0l1.9-1.1l1.8-.3l1.8-.4l1.9 .7l1.8 .2l1.8 .6l1.9-.6l1.8-.1l1.8 .6l1.8-.3l1.9 .1l1.8-2l1.8 .4l1.9-.9l1.8 1.4l1.8 0l1.8 .3l1.9-.3l1.8-.7l1.8 .4l1.9-.2l1.8 0l1.8-.2l1.8 .4l1.9-.1l1.8 .2l1.8-.8l1.9 .3l1.8-.2l1.8 .7l1.9-.7l1.8 .6l1.8-.4l1.8 1.5l1.9 .4l1.8 .8l1.8-.6l1.9-.3l1.8-.5l1.8 1.1l1.8-1.9l1.9-.1l1.8-.2l1.8 .6l1.9 .2l1.8-.1l1.8 .2l1.9 1.2l1.8-.9l1.8-.4l1.8-.9l1.9-.8l1.8 .5l1.8 .5l1.9 .4l1.8-.2l1.8-1.5l1.8 .9l1.9 1l1.8 .1l1.8-.3l1.9-.6l1.8-.1l1.8-.3l1.8 .2l1.9 .6l1.8 .3l1.8 .3l1.9-.2l1.8-.5l1.8-.2l1.9 .2l1.8 .8l1.8-.8l1.8 0l1.9-.3l1.8 0l1.8-.7l1.9 .6l1.8 .6l1.8 .7l1.8 0l1.9 .4l1.8 0l1.8-1.1l1.9-1.4l1.8 1.5l1.8-.4l1.9 .7l1.8-1l1.8 .2l1.8 .4l1.9 2.3l1.8 .7l1.8-.2l1.9-2.8l1.8 1l1.8-.3l1.8-.5l1.9-1.8l1.8 .7l1.8 .6l1.9 .4l1.8-.8l1.8-.4l1.8 .8l1.9 .5l1.8-.2l1.8-.5l1.9 .6l1.8 1.4l1.8-.6l1.9 .2l1.8-1l1.8 53.6l.7-1.1l.8-.8l.7-.7l.7-.5l.8-.3l.7-.4l.7-.4l.8-.1l.7-.3l.7-.2l.8-.3l.7 0l.7 0l.8 0l.7 0l.7-.1l.7-.1l.8 .1l.7 .2l.7 .1l7.4-.1l7.3-.3l7.3 0l7.3-.1l7.3 .3l7.3 0l7.4-.1l7.3-.2l7.3 .1l7.3 0l7.3-.1l7.3-.1l7.4 .1l7.3-.1l2.3-.2"/>
<path d="M107.1 1004.2l7.3 0l7.3-.1l7.4 .2l7.3-.1l7.3 0l7.3-.1l7.3 .1l7.3 .1l7.4 3.2l.7 2.4l.7 3.8l.7 5.3l.8 7.1l.7 7.9l.7 8.5l.8 7.1l.7 5.6l.7 2.1l.8-.6l.7-2.2l.7-4.4l.8-6.3l.7-7.6l.7-7.2l.8-6.5l.7-7.5l.7-6.2l.8-7.1l.7-5.2l.7-4.8l.8-3.4l.7-2.8l.7-1.1l.7-2.3l.8-1.9l.7-.8l.7-.5l.8 0l.7-1.8l.7-.2l.8-.6l.7-1l.7-.2l.8-.3l.7 .6l.7-.1l.8 .6l.7-.1l.7-.1l.8-.4l.7-.3l.7-.9l.7 .5l.8-.5l.7 .2l1.8-.7l1.9 1.2l1.8-.1l1.8 .9l1.9-1.7l1.8-.8l1.8-1.1l1.8 .4l1.9 .6l1.8 .5l1.8 0l1.9-.6l1.8-.4l1.8 .1l1.8 1.4l1.9 .2l1.8 .1l1.8-.3l1.9-.1l1.8 .2l1.8-.3l1.9-.1l1.8-.5l1.8-1.2l1.8 0l1.9 .4l1.8 .6l1.8-.8l1.9 0l1.8 .4l1.8-.2l1.8-.5l1.9-.9l1.8 .8l1.8-1l1.9 .5l1.8-.2l1.8 .2l1.9 .1l1.8-.8l1.8 0l1.8 .5l1.9 .5l1.8 0l1.8-.2l1.9-.8l1.8 .5l1.8 .1l1.8 .2l1.9 .2l1.8 .5l1.8 .7l1.9-.5l1.8 .2l1.8-.6l1.8-.1l1.9-.1l1.8 .4l1.8 .6l1.9-.3l1.8 .5l1.8 .1l1.9 0l1.8-.3l1.8-1.5l1.8 1.1l1.9-1.1l1.8 1.1l1.8-1.3l1.9 .7l1.8-.4l1.8 .4l1.8-.4l1.9 .2l1.8-1.1l1.8 .2l1.9-.6l1.8-.6l1.8 .3l1.9 .9l1.8 1.3l1.8 .9l1.8-.1l1.9 .1l1.8-1.2l1.8 .1l1.9 0l1.8-.1l1.8-.5l1.8 1.1l1.9 0l1.8 0l1.8-1.4l1.9 .6l1.8-.4l1.8 .8l1.8-.6l1.9 0l1.8-1l1.8-.3l1.9 1.2l1.8 1.2l1.8 .9l1.9-1l1.8-1.9l1.8-.3l1.8 .8l1.9-.2l1.8 .3l1.8-.4l1.9 1.7l1.8-1.3l1.8-.7l1.8-.5l1.9 1l1.8 .8l1.8-.1l1.9-.8l1.8-.4l1.8-.9l1.9 .7l1.8-.3l1.8 1.8l1.8-.9l1.9 .9l1.8-.8l1.8 .4l1.9-.2l1.8 .4l1.8 .7l1.8 .7l1.9 0l1.8-.1l1.8-1.2l1.9-1.2l1.8 .2l1.8 .1l1.8 1.5l1.9-1.6l1.8 .3l1.8-.4l1.9 1.4l1.8-.1l1.8-1.2l1.9 .4l1.8-.4l1.8 38.4l.7-1l.8-.6l.7-.4l.7-.4l.8-.4l.7-.4l.7-.3l.8-.5l.7 0l.7 0l.8 0l.7-.1l.7-.1l.8-.2l.7 0l.7 0l.7 .1l.8 .1l.7 .1l.7 0l7.4-.2l7.3-.1l7.3-.2l7.3 .1l7.3-.1l7.3 .1l7.4-.2l7.3-.1l7.3 0l7.3 .2l7.3 .1l7.3 0l7.4-.1l7.3 .1l2.3 .1"/>
<path d="M107.1 1004.3l7.3 0l7.3 0l7.4 0l7.3 .1l7.3 0l7.3-.1l7.3-.1l7.3 .1l7.4 1.4l.7 1.3l.7 1.7l.7 2.9l.8 4.3l.7 5.1l.7 7l.8 7.5l.7 7.8l.7 6.5l.8 3.9l.7 1.1l.7-1.9l.8-2.6l.7-3l.7-4.2l.8-5.5l.7-5.3l.7-5.4l.8-4.8l.7-5.9l.7-5l.8-4.3l.7-5.1l.7-4l.7-3.8l.8-1.5l.7-.9l.7-.4l.8-1.5l.7 .6l.7-1.3l.8 .2l.7-1.3l.7-.1l.8-.5l.7 .5l.7 .3l.8 0l.7-.7l.7 .1l.8 .9l.7 0l.7-.4l.7-.4l.8 .6l.7-.8l1.8 .9l1.9-.7l1.8 .4l1.8-.8l1.9 .6l1.8-.3l1.8 .3l1.8-.3l1.9 .3l1.8 0l1.8-.7l1.9 .1l1.8-.1l1.8 .4l1.8-.4l1.9-.4l1.8-1l1.8 .6l1.9-.4l1.8 .5l1.8-.4l1.9-1l1.8 .1l1.8 .2l1.8 .7l1.9 .4l1.8-.3l1.8-.2l1.9-.1l1.8-.2l1.8 0l1.8 0l1.9 .5l1.8 .3l1.8 .2l1.9-.3l1.8-.2l1.8-.4l1.9 .6l1.8-.3l1.8 .6l1.8 .1l1.9 .5l1.8-.3l1.8 .3l1.9 .4l1.8-.1l1.8-.4l1.8-.4l1.9-.2l1.8-.7l1.8 0l1.9-.2l1.8 0l1.8 1.1l1.8-.4l1.9-.8l1.8-1.3l1.8 1.3l1.9 1.3l1.8 .3l1.8-.5l1.9-.2l1.8-.4l1.8 .7l1.8 .2l1.9 .6l1.8 .3l1.8 .4l1.9 .7l1.8-.2l1.8-.1l1.8-.7l1.9-.8l1.8-.5l1.8 .7l1.9 .6l1.8-.4l1.8-.2l1.9-.5l1.8-.1l1.8-.5l1.8-.5l1.9 .7l1.8 .4l1.8 .7l1.9-.6l1.8-.9l1.8 .8l1.8-.5l1.9 1l1.8 .4l1.8 .8l1.9-.9l1.8-.6l1.8-.7l1.8 .6l1.9-.5l1.8 .7l1.8 .2l1.9-.4l1.8 1.2l1.8-1.3l1.9-.1l1.8-1.2l1.8 1.4l1.8 .5l1.9 .4l1.8-.5l1.8 .2l1.9-.7l1.8 .1l1.8-.6l1.8-.7l1.9-1l1.8 .8l1.8 .6l1.9 .8l1.8-.1l1.8-.1l1.9 .3l1.8 .2l1.8-.3l1.8-1l1.9-.9l1.8 0l1.8 .3l1.9 1.1l1.8 .7l1.8-.6l1.8-1.2l1.9-.6l1.8 1.3l1.8 .3l1.9 .7l1.8-1.1l1.8 .2l1.8-.5l1.9-.2l1.8-.7l1.8-.4l1.9 .8l1.8 .2l1.8 1.4l1.9 .6l1.8 .1l1.8 20.8l.7-.8l.8-.5l.7-.4l.7-.3l.8-.5l.7-.3l.7-.3l.8-.1l.7-.2l.7 0l.8-.1l.7-.1l.7 .1l.8-.1l.7 0l.7 0l.7 .1l.8 .1l.7-.2l.7 0l7.4-.2l7.3 0l7.3 0l7.3 0l7.3 0l7.3 0l7.4 .1l7.3-.1l7.3 0l7.3 0l7.3-.1l7.3 .1l7.4 0l7.3 0l2.3-.1"/>
<path d="M107.1 1004.3l7.3-.1l7.3 .1l7.4 0l7.3 0l7.3 .1l7.3 0l7.3 0l7.3 0l7.4-.1l.7-.1l.7-.1l.7 .3l.8 1.2l.7 1.9l.7 1.7l.8 3l.7 3.1l.7 3.5l.8 2.9l.7 2.9l.7 1.9l.8 .6l.7-.4l.7-.5l.8-2.4l.7-2.3l.7-3.1l.8-2l.7-3.1l.7-2.8l.8-2.7l.7-2.4l.7-2.7l.7-1.6l.8-1l.7 0l.7-1.3l.8-1.7l.7-.1l.7-.6l.8 .2l.7-.7l.7-1l.8 0l.7-.4l.7 1.6l.8-.3l.7-.8l.7-.8l.8-.2l.7 .3l.7 .4l.7-.5l.8-.6l.7-.4l1.8-.5l1.9 .1l1.8 .1l1.8 .6l1.9 .7l1.8 .2l1.8 .4l1.8-.9l1.9-.7l1.8 .2l1.8 .5l1.9 .4l1.8-.5l1.8-.4l1.8 .3l1.9 .5l1.8 1.3l1.8-.5l1.9-1.2l1.8-.9l1.8-.3l1.9 .4l1.8-.1l1.8 .1l1.8-.5l1.9 1.4l1.8 .4l1.8 .1l1.9-2.2l1.8-.4l1.8-.6l1.8 1.2l1.9 0l1.8 .5l1.8-.3l1.9 1.2l1.8 .1l1.8-.3l1.9 0l1.8-.3l1.8-.2l1.8-.2l1.9 1.3l1.8-.3l1.8-.6l1.9-.8l1.8 0l1.8-.5l1.8-.8l1.9 .4l1.8 .1l1.8 .5l1.9 .3l1.8 .6l1.8 .7l1.8 .5l1.9 .5l1.8 .2l1.8 .2l1.9-1.3l1.8 .1l1.8-.4l1.9 .7l1.8-1l1.8-.3l1.8 .5l1.9 .5l1.8 .6l1.8-.2l1.9-.5l1.8 .1l1.8-.2l1.8 .2l1.9-.6l1.8 .4l1.8 .4l1.9 .1l1.8-.8l1.8-.6l1.9-.5l1.8-.1l1.8 .5l1.8 0l1.9 0l1.8-.5l1.8 .1l1.9 .9l1.8 .8l1.8-.2l1.8-.6l1.9 .6l1.8-.2l1.8 .3l1.9-.7l1.8 .2l1.8-.5l1.8 .3l1.9-.3l1.8 .3l1.8-.5l1.9 .6l1.8 0l1.8-.5l1.9-1.1l1.8-.6l1.8 .8l1.8 .6l1.9 .1l1.8-.9l1.8 0l1.9 .9l1.8-1.1l1.8-.4l1.8-.6l1.9 .7l1.8 .3l1.8 .3l1.9 .8l1.8 .1l1.8-.2l1.9-1.5l1.8 .1l1.8 .4l1.8 .4l1.9-.4l1.8-.6l1.8 1.9l1.9 .2l1.8 .6l1.8-.3l1.8 .2l1.9 0l1.8 0l1.8 .6l1.9-1.4l1.8 .6l1.8-.4l1.8 1l1.9 .1l1.8-.8l1.8-.7l1.9 0l1.8 .2l1.8 .5l1.9-.3l1.8-.3l1.8 15.2l.7-.8l.8-.5l.7-.5l.7-.3l.8-.3l.7-.3l.7-.2l.8-.2l.7-.1l.7 0l.8 0l.7-.1l.7 0l.8-.2l.7-.1l.7-.1l.7 .2l.8 0l.7 0l.7 0l7.4 0l7.3 0l7.3-.1l7.3 .1l7.3-.1l7.3 .1l7.4-.1l7.3 0l7.3-.1l7.3 .1l7.3 .1l7.3 .1l7.4-.2l7.3-.1l2.3 0"/>
<path d="M107.1 1004.3l7.3 0l7.3 .1l7.4-.1l7.3 0l7.3 0l7.3 .1l7.3-.1l7.3 0l7.4-.5l.7 .2l.7 .2l.7 .1l.8 .2l.7-.4l.7 .3l.8 1l.7 2l.7 1.7l.8 1.7l.7 1.7l.7 2.7l.8 .5l.7 1.4l.7-.1l.8 .8l.7-.2l.7-1.2l.8-.9l.7-1.2l.7-.9l.8-2.3l.7-2.9l.7-1.8l.7-1.7l.8-.6l.7-1.3l.7 0l.8-.8l.7-.6l.7-1.2l.8-.2l.7-.4l.7 .4l.8-.5l.7-.7l.7-.8l.8 0l.7-.1l.7 0l.8 0l.7 .5l.7 .2l.7-.5l.8 .5l.7 .3l1.8-.1l1.9-.6l1.8 .1l1.8 .7l1.9 .8l1.8-.2l1.8 .5l1.8-.4l1.9 .2l1.8-.6l1.8-1.1l1.9-.1l1.8-.8l1.8 1.2l1.8 .1l1.9-.2l1.8-.3l1.8-.6l1.9 .6l1.8 .6l1.8 .6l1.9-.1l1.8-.9l1.8-.4l1.8 .7l1.9-.3l1.8-.3l1.8-.7l1.9 .1l1.8 0l1.8 0l1.8 .5l1.9 .3l1.8 .5l1.8-.2l1.9-1.1l1.8 .3l1.8-.6l1.9 .9l1.8-.3l1.8 1.2l1.8-.7l1.9-.6l1.8-1.4l1.8 .3l1.9 .3l1.8 .4l1.8 .1l1.8-.7l1.9 .4l1.8-.5l1.8 .4l1.9 .4l1.8-.1l1.8-.4l1.8-.4l1.9-.3l1.8 0l1.8 .1l1.9 1l1.8 .3l1.8 0l1.9 1l1.8 .1l1.8 0l1.8-.2l1.9 .8l1.8-.3l1.8-1l1.9-1.2l1.8 .1l1.8 .4l1.8-.2l1.9-.4l1.8 .8l1.8-.2l1.9 .1l1.8-.7l1.8 .8l1.9 .2l1.8-.5l1.8-1.3l1.8 .7l1.9 0l1.8 1l1.8-.3l1.9 .6l1.8 .1l1.8-.4l1.8 1l1.9 .6l1.8-.4l1.8 0l1.9-.6l1.8 .2l1.8-1.1l1.8 .7l1.9 0l1.8-.2l1.8-.1l1.9-.1l1.8-.7l1.8 .2l1.9 0l1.8 .7l1.8-1.1l1.8 1.6l1.9-.6l1.8 .4l1.8-1.6l1.9 .1l1.8 .2l1.8 .8l1.8-.1l1.9-.3l1.8 0l1.8 .6l1.9 0l1.8-.9l1.8-1.2l1.9-.5l1.8 0l1.8 .7l1.8 .8l1.9 .3l1.8 .6l1.8 0l1.9 .1l1.8-.6l1.8 .1l1.8 0l1.9 .2l1.8-1.4l1.8-.5l1.9 0l1.8 .4l1.8 .4l1.8-.3l1.9-.3l1.8 .1l1.8 .5l1.9 .6l1.8 .2l1.8-.4l1.9-.5l1.8-1.2l1.8 12.5l.7-.6l.8-.4l.7-.5l.7-.3l.8-.3l.7-.1l.7-.1l.8-.2l.7-.1l.7-.2l.8 .1l.7-.3l.7 .1l.8 0l.7 0l.7-.1l.7 0l.8 0l.7-.1l.7 .1l7.4 .1l7.3-.1l7.3-.1l7.3-.2l7.3 .1l7.3-.1l7.4 .3l7.3-.1l7.3 .1l7.3-.3l7.3 0l7.3 0l7.4 .3l7.3-.1l2.3-.1"/>
<path d="M107.1 1004.2l7.3 0l7.3 .1l7.4-.1l7.3 0l7.3-.1l7.3 0l7.3 .1l7.3 .2l7.4-.3l.7-.1l.7-.3l.7 .1l.8-.2l.7 .6l.7 0l.8-.1l.7 0l.7-.2l.8 .7l.7 .9l.7 .9l.8 .9l.7 .1l.7 1l.8 .6l.7-.2l.7 .1l.8 .3l.7-.1l.7-.9l.8-1.1l.7-.5l.7 0l.7-1l.8 0l.7-1.3l.7-.9l.8-.2l.7-.5l.7 .5l.8-.6l.7-.5l.7-.4l.8 .1l.7-.2l.7-.5l.8-.3l.7-.6l.7 .1l.8-.5l.7 .6l.7-.1l.7-.1l.8-.1l.7 .4l1.8 .1l1.9 1l1.8-.2l1.8-.1l1.9 0l1.8 .1l1.8 .5l1.8-1.6l1.9-.3l1.8 .5l1.8 .7l1.9-.2l1.8-1.5l1.8-.3l1.8-.4l1.9-.2l1.8 .7l1.8-.5l1.9-.2l1.8-.7l1.8 1.4l1.9 .4l1.8 .4l1.8-.3l1.8 .3l1.9 .4l1.8-.3l1.8-.1l1.9-.4l1.8 0l1.8 0l1.8 .1l1.9 .4l1.8-.3l1.8-.4l1.9-.2l1.8 .4l1.8 .8l1.9 .2l1.8-.2l1.8-.1l1.8 .2l1.9-.1l1.8-.5l1.8 .1l1.9 .6l1.8 .1l1.8-.1l1.8-.5l1.9 .2l1.8 .5l1.8-.5l1.9-.8l1.8-1l1.8 .6l1.8 .1l1.9 .3l1.8-.8l1.8-.8l1.9 .3l1.8 .8l1.8 .9l1.9-.6l1.8 .3l1.8-.2l1.8-.1l1.9 .2l1.8-.2l1.8 .5l1.9 .7l1.8 .9l1.8-.1l1.8-1.4l1.9-.6l1.8 .3l1.8 .5l1.9 .3l1.8-.5l1.8-.3l1.9 .4l1.8 .9l1.8-.1l1.8-.7l1.9-.2l1.8 .2l1.8-.5l1.9 .3l1.8-.1l1.8 .6l1.8-1l1.9 .5l1.8-.5l1.8 .9l1.9 .5l1.8-.1l1.8-1.5l1.8-.4l1.9 .1l1.8 .3l1.8-.1l1.9 .2l1.8 .5l1.8-.1l1.9-.3l1.8-.7l1.8 .4l1.8 .6l1.9 0l1.8-.6l1.8-.2l1.9 1l1.8-.1l1.8-.6l1.8-.7l1.9 .3l1.8 .4l1.8 0l1.9 .2l1.8 .4l1.8 .1l1.9-.1l1.8-.6l1.8-.3l1.8-.9l1.9 .1l1.8 .8l1.8 .4l1.9-.1l1.8-.5l1.8 .3l1.8-.2l1.9 .3l1.8 0l1.8 .5l1.9 0l1.8 .1l1.8-.4l1.8 .7l1.9 .1l1.8 .7l1.8-1l1.9-.3l1.8-.7l1.8-.4l1.9-.4l1.8 .1l1.8 9.2l.7-.6l.8-.4l.7-.4l.7-.3l.8-.4l.7-.3l.7-.1l.8-.1l.7 .1l.7-.2l.8-.2l.7-.1l.7 0l.8-.2l.7 0l.7 .1l.7 .1l.8 .1l.7-.2l.7 0l7.4-.2l7.3 .1l7.3 .1l7.3 .2l7.3 0l7.3-.1l7.4-.1l7.3 0l7.3 .1l7.3-.1l7.3 0l7.3-.1l7.4 .1l7.3-.1l2.3 .1"/>
<path d="M107.1 1004.3l7.3 0l7.3 0l7.4 0l7.3 0l7.3 .2l7.3 .2l7.3-.1l7.3-.2l7.4 .1l.7-.4l.7 .1l.7-.6l.8 .3l.7-.5l.7-.1l.8 .7l.7 .4l.7 .1l.8-.2l.7 0l.7 .1l.8 .2l.7 .4l.7 .8l.8 .2l.7 .1l.7 0l.8 .5l.7-.6l.7-.4l.8-.9l.7 .4l.7 .1l.7 .2l.8 .3l.7 .8l.7-.7l.8-.3l.7-1.4l.7-.6l.8 0l.7 .2l.7-.4l.8-.2l.7 .5l.7 0l.8-.8l.7-.4l.7 .9l.8 .6l.7-.2l.7-.2l.7-.9l.8-.5l.7 .6l1.8 .2l1.9-.5l1.8 .1l1.8 1.1l1.9 1.2l1.8-1l1.8-1.1l1.8-.7l1.9-.1l1.8 .2l1.8 .3l1.9-.7l1.8 .4l1.8 .2l1.8 .4l1.9-.8l1.8 .5l1.8 .3l1.9-.2l1.8-.5l1.8 0l1.9 .8l1.8-.8l1.8 0l1.8 .4l1.9 .8l1.8 .2l1.8-.5l1.9-.9l1.8 .1l1.8 .2l1.8 .6l1.9 .6l1.8-.5l1.8 .3l1.9-.6l1.8 0l1.8 .5l1.9-.6l1.8 .6l1.8-.6l1.8-.1l1.9-.1l1.8 .1l1.8 .8l1.9-.5l1.8-.3l1.8-.2l1.8 .5l1.9 .3l1.8 .1l1.8 0l1.9-.2l1.8-.5l1.8-.8l1.8 .1l1.9-.3l1.8 1l1.8-.7l1.9-.1l1.8-1.1l1.8 .4l1.9-.1l1.8 .6l1.8 .1l1.8 .3l1.9 .2l1.8-.2l1.8-.2l1.9 0l1.8 0l1.8 .5l1.8 .6l1.9-.6l1.8 .9l1.8-.2l1.9 .3l1.8-.6l1.8-.3l1.9 0l1.8 .1l1.8-.5l1.8 .2l1.9-.6l1.8-.1l1.8 .3l1.9-.3l1.8 .5l1.8-.4l1.8-.4l1.9 .3l1.8-.1l1.8 .6l1.9-.5l1.8 .1l1.8 .8l1.8 0l1.9 .9l1.8 0l1.8 0l1.9-.3l1.8 0l1.8-.5l1.9 .4l1.8 .4l1.8 .5l1.8-1.6l1.9-.6l1.8 .4l1.8 1.7l1.9-.9l1.8-.8l1.8-.4l1.8 .4l1.9 .1l1.8 .4l1.8 .1l1.9 .1l1.8 .2l1.8-.7l1.9 .1l1.8-.5l1.8 .8l1.8 .1l1.9 .1l1.8 0l1.8-.2l1.9-.8l1.8-.2l1.8 .9l1.8-.1l1.9-.3l1.8-.5l1.8 .1l1.9 .2l1.8 .1l1.8 .1l1.8 0l1.9 .5l1.8 .6l1.8-.7l1.9-.3l1.8-.7l1.8 .9l1.9 0l1.8-.4l1.8 5.3l.7-.6l.8-.4l.7-.4l.7-.2l.8-.2l.7-.2l.7-.1l.8-.2l.7-.1l.7-.2l.8-.1l.7 0l.7 0l.8 .1l.7-.2l.7-.1l.7-.1l.8 .1l.7 0l.7 0l7.4-.1l7.3 0l7.3 .1l7.3 .1l7.3 .1l7.3-.1l7.4-.1l7.3 0l7.3 0l7.3 .1l7.3 0l7.3 0l7.4 0l7.3 0l2.3-.1"/>
<path d="M107.1 1004.3l7.3 0l7.3 0l7.4 0l7.3 .1l7.3 0l7.3 0l7.3-.1l7.3 0l7.4 .2l.7 .1l.7-.3l.7-.3l.8 0l.7 0l.7 0l.8 .2l.7 .2l.7-.2l.8-.5l.7 0l.7 .4l.8 .6l.7 .3l.7 .6l.8-1l.7-.4l.7-.7l.8-.1l.7 .1l.7 .3l.8 .7l.7-.3l.7-.8l.7-.4l.8-.2l.7 1.6l.7-.6l.8 .2l.7-.9l.7-1l.8 .4l.7-.3l.7 .6l.8-.5l.7 .7l.7 .1l.8 .7l.7-.3l.7 .3l.8-.7l.7-.5l.7 .6l.7 .3l.8 .8l.7-.2l1.8-.3l1.9-1.1l1.8-.2l1.8-.1l1.9 .1l1.8-.6l1.8-.8l1.8 .4l1.9 .7l1.8 .7l1.8 .5l1.9 .3l1.8 .1l1.8-1l1.8-.4l1.9-.6l1.8 0l1.8-.1l1.9 2l1.8 .7l1.8 .3l1.9-1.4l1.8-.6l1.8 0l1.8 .2l1.9-.4l1.8 .8l1.8 0l1.9 .4l1.8-1.3l1.8-.3l1.8 0l1.9 .8l1.8 .1l1.8 0l1.9 .5l1.8-.4l1.8 1l1.9-.6l1.8 .5l1.8-.2l1.8 .2l1.9 .2l1.8-.5l1.8-.4l1.9 .3l1.8 .5l1.8 .5l1.8-.5l1.9 0l1.8-.3l1.8 .6l1.9 .4l1.8-.3l1.8-.4l1.8-.9l1.9 0l1.8-.9l1.8 .1l1.9 .3l1.8 .8l1.8 .3l1.9 0l1.8 .3l1.8-.8l1.8-.3l1.9-.2l1.8-.1l1.8-.1l1.9-.2l1.8 .4l1.8 .9l1.8-.4l1.9-.1l1.8-.6l1.8 .1l1.9-.3l1.8-.1l1.8 .6l1.9-.1l1.8-.2l1.8-.7l1.8 .4l1.9-.3l1.8 .5l1.8 .8l1.9 1l1.8-1l1.8-.8l1.8-.6l1.9 .9l1.8 .2l1.8 .7l1.9-.1l1.8 .9l1.8-.4l1.8 .4l1.9-1.2l1.8 1l1.8-.8l1.9-.1l1.8-.3l1.8 .8l1.9-.1l1.8-.5l1.8-.2l1.8 0l1.9-.5l1.8 .5l1.8 .4l1.9-.1l1.8 0l1.8-1.1l1.8 0l1.9-.7l1.8 .4l1.8 .1l1.9 .3l1.8 .4l1.8 1.3l1.9-.2l1.8-.5l1.8-.5l1.8-.2l1.9 .6l1.8-.5l1.8 1.1l1.9-.2l1.8-.1l1.8-.7l1.8-.4l1.9 .2l1.8 .1l1.8 1l1.9 .3l1.8 .1l1.8 .2l1.8-.3l1.9-.5l1.8-.9l1.8-.6l1.9 .5l1.8-.1l1.8 .5l1.9 0l1.8 .1l1.8 4.1l.7-.6l.8-.5l.7-.3l.7-.3l.8-.2l.7-.2l.7-.2l.8-.2l.7-.2l.7-.1l.8 .2l.7 .1l.7 0l.8-.1l.7-.1l.7-.1l.7-.1l.8-.1l.7 .1l.7 .2l7.4-.2l7.3 .1l7.3 0l7.3 .1l7.3 0l7.3-.2l7.4 0l7.3 0l7.3 .1l7.3-.1l7.3-.1l7.3 0l7.4 0l7.3 .1l2.3 .1"/>
<path d="M107.1 1004.3l7.3 0l7.3 0l7.4 0l7.3 .1l7.3 0l7.3 0l7.3 0l7.3-.1l7.4-.1l.7 0l.7-.3l.7-.1l.8 0l.7 .4l.7 .1l.8-.2l.7-.3l.7-.3l.8 0l.7 .2l.7-.1l.8 .4l.7-.8l.7 .5l.8-.2l.7 .1l.7 .3l.8-.1l.7-.5l.7 .1l.8 .4l.7 1l.7 .1l.7-.2l.8 .4l.7-.4l.7-.2l.8-.5l.7 .2l.7-.5l.8 0l.7-.2l.7 .4l.8 1.1l.7 .5l.7-.5l.8 .2l.7-.3l.7 .7l.8-.7l.7 .1l.7 .4l.7 .1l.8-.4l.7-.1l1.8-1l1.9 .7l1.8-.9l1.8 .8l1.9-.1l1.8 .3l1.8 .1l1.8 0l1.9 .1l1.8 .1l1.8-.3l1.9 0l1.8-.8l1.8-.5l1.8-.5l1.9 .6l1.8-.5l1.8 .1l1.9 .3l1.8 .3l1.8 .1l1.9 .2l1.8 .2l1.8 .6l1.8 .5l1.9 .7l1.8-.4l1.8-.9l1.9-.7l1.8 .6l1.8-.4l1.8 .6l1.9-.7l1.8 .3l1.8 .1l1.9 0l1.8-.1l1.8-.2l1.9 .4l1.8-.5l1.8 0l1.8-.9l1.9 1.2l1.8-1.4l1.8 .9l1.9-1l1.8 .7l1.8 .1l1.8 .5l1.9 .4l1.8-.1l1.8 .2l1.9 .2l1.8 .3l1.8-.1l1.8 .1l1.9 0l1.8-.4l1.8-.3l1.9-.4l1.8 1.1l1.8 .4l1.9-.4l1.8-.5l1.8-.5l1.8 .6l1.9-.8l1.8-.1l1.8-.4l1.9 .3l1.8 .2l1.8 .6l1.8 1l1.9-.4l1.8-.8l1.8-.2l1.9 .8l1.8 0l1.8-.7l1.9-.3l1.8 .1l1.8 0l1.8 .8l1.9-.7l1.8 .5l1.8-.2l1.9 .3l1.8-.5l1.8-.4l1.8 .6l1.9-.1l1.8-.5l1.8-.5l1.9 .1l1.8 .2l1.8 .2l1.8-.4l1.9 0l1.8 .3l1.8 .1l1.9 .4l1.8 0l1.8 0l1.9-.9l1.8-.5l1.8-.2l1.8-.2l1.9 .1l1.8 .3l1.8 1.1l1.9-.4l1.8 .1l1.8 .2l1.8 .4l1.9 1l1.8-.9l1.8 .6l1.9-.4l1.8 1l1.8 0l1.9-.7l1.8-.3l1.8-.1l1.8 .4l1.9-.6l1.8-.4l1.8-.3l1.9 .8l1.8 .2l1.8 .5l1.8 .5l1.9-.3l1.8 .3l1.8-.7l1.9 .5l1.8-1.1l1.8-.2l1.8 0l1.9 .3l1.8-.1l1.8-.3l1.9 .1l1.8 0l1.8 .8l1.9-.1l1.8-.4l1.8 2.6l.7-.5l.8-.5l.7-.3l.7-.4l.8-.2l.7-.1l.7-.1l.8-.1l.7-.2l.7-.1l.8 .1l.7-.1l.7 0l.8-.1l.7-.1l.7-.1l.7-.1l.8 0l.7 0l.7 0l7.4 0l7.3 .1l7.3 0l7.3 0l7.3-.1l7.3 .1l7.4 .1l7.3 0l7.3-.1l7.3 0l7.3 .1l7.3 0l7.4-.1l7.3-.1l2.3 0"/>
<path d="M107.1 1004.2l7.3 0l7.3 .1l7.4-.1l7.3 0l7.3-.1l7.3 .1l7.3 0l7.3 0l7.4-.3l.7 .2l.7 .4l.7 .1l.8-.1l.7-.4l.7 .5l.8-.4l.7 .1l.7-.3l.8 1l.7-.1l.7 0l.8-.2l.7 .2l.7 0l.8-.8l.7 .1l.7-.5l.8 .5l.7-.1l.7 .9l.8-.7l.7 .5l.7-.3l.7 .1l.8-.1l.7 .1l.7 .9l.8-2l.7-.1l.7-.6l.8 1.3l.7-.2l.7 .6l.8-.1l.7 .8l.7 .6l.8 0l.7 .1l.7-.5l.8 0l.7-.2l.7-.5l.7-.2l.8-.9l.7 .1l1.8 .7l1.9 1.1l1.8-.8l1.8 0l1.9-.9l1.8 .7l1.8-.7l1.8 .5l1.9 .1l1.8 .3l1.8 0l1.9 .5l1.8 .6l1.8-.5l1.8-.1l1.9-1.2l1.8-.5l1.8-.7l1.9 .5l1.8 .2l1.8 1l1.9 .5l1.8 1l1.8-1.2l1.8 .2l1.9-1.1l1.8 .2l1.8 .1l1.9 .5l1.8-.3l1.8-.2l1.8-.1l1.9 .4l1.8-.7l1.8 .1l1.9-.3l1.8 .1l1.8-.2l1.9 .9l1.8 .2l1.8 .2l1.8-.4l1.9 0l1.8-.4l1.8-.6l1.9-.2l1.8-.2l1.8 .2l1.8 .8l1.9-.4l1.8 .1l1.8-.5l1.9 .6l1.8 .3l1.8 .8l1.8-.3l1.9 0l1.8-.2l1.8 .1l1.9 .2l1.8-1.6l1.8 .9l1.9 .5l1.8 .1l1.8-1.3l1.8-.2l1.9 0l1.8 .3l1.8-.1l1.9 .7l1.8-.4l1.8-.1l1.8 .3l1.9 .1l1.8 .1l1.8 0l1.9-.3l1.8 .5l1.8-.6l1.9 1.1l1.8 0l1.8 .7l1.8-.3l1.9 .1l1.8-.7l1.8 .1l1.9-.5l1.8-.1l1.8 .1l1.8-1.1l1.9 .4l1.8-.4l1.8 1.5l1.9 .3l1.8-.4l1.8-.1l1.8 .5l1.9 .3l1.8-.8l1.8-.6l1.9 .3l1.8 .7l1.8 .6l1.9 0l1.8-.5l1.8 .1l1.8 .3l1.9-.1l1.8-.3l1.8-.4l1.9 .4l1.8-.8l1.8 .4l1.8 .8l1.9-.2l1.8-.1l1.8-1l1.9 .4l1.8 0l1.8 .3l1.9-.3l1.8 .4l1.8-.3l1.8-.8l1.9-.1l1.8-.1l1.8 .7l1.9-.7l1.8-.1l1.8-.3l1.8 .6l1.9 .2l1.8 .4l1.8-.1l1.9 .5l1.8 .9l1.8-.7l1.8 0l1.9-1.3l1.8 .3l1.8 .1l1.9 1l1.8 .4l1.8-.9l1.9-.1l1.8 .4l1.8 2.7l.7-.6l.8-.6l.7-.4l.7-.2l.8-.2l.7-.2l.7-.1l.8-.3l.7-.2l.7 0l.8 0l.7 .2l.7-.2l.8-.2l.7-.1l.7 0l.7 .1l.8 0l.7 0l.7-.1l7.4 .1l7.3-.2l7.3 .1l7.3-.1l7.3 .1l7.3 0l7.4 0l7.3 0l7.3 0l7.3 0l7.3 0l7.3 0l7.4 0l7.3-.1l2.3 .1"/>
<path d="M107.1 1004.4l7.3-.1l7.3 0l7.4 .1l7.3 .1l7.3-.1l7.3 0l7.3-.1l7.3 0l7.4-.1l.7 .1l.7 .1l.7-.1l.8 .1l.7 .3l.7-.3l.8 .1l.7 .2l.7 .1l.8-.1l.7-.4l.7-.6l.8 .2l.7 .7l.7 0l.8 0l.7-.2l.7 1.5l.8-.8l.7 .1l.7-.5l.8 .3l.7 .1l.7-.5l.7 0l.8-.5l.7 .3l.7 .1l.8 .1l.7-.5l.7-.1l.8-.8l.7 .2l.7-.1l.8-.2l.7 0l.7-.6l.8 1.3l.7 0l.7 .3l.8-.1l.7 .3l.7-.3l.7-.1l.8 0l.7 .3l1.8 0l1.9 0l1.8 0l1.8-.5l1.9 0l1.8 .3l1.8 .7l1.8 .1l1.9-.2l1.8-.8l1.8 .7l1.9 1.2l1.8 .3l1.8-.1l1.8-.9l1.9-.2l1.8-.4l1.8 .4l1.9 .1l1.8-.7l1.8-.6l1.9-.4l1.8 .6l1.8 .3l1.8 .6l1.9-.3l1.8 0l1.8 0l1.9 .9l1.8 0l1.8-.3l1.8-.5l1.9-.3l1.8 0l1.8 .1l1.9-.2l1.8-.7l1.8 .2l1.9-.1l1.8 1.1l1.8-.3l1.8 .9l1.9 .2l1.8-.2l1.8-.7l1.9-.1l1.8 .3l1.8 0l1.8-.5l1.9-.8l1.8 .3l1.8 .2l1.9 .3l1.8 .9l1.8 0l1.8 .7l1.9-.6l1.8-.2l1.8 0l1.9-.4l1.8 .1l1.8-.3l1.9 .2l1.8 0l1.8-.2l1.8 .1l1.9-.5l1.8-.6l1.8 .3l1.9 .3l1.8 .3l1.8-.6l1.8-.4l1.9-.7l1.8-.6l1.8 0l1.9 .8l1.8 1.4l1.8 .2l1.9 .5l1.8-.1l1.8-.1l1.8-1.2l1.9-.2l1.8 0l1.8 .1l1.9 .1l1.8 .4l1.8 1.6l1.8-.7l1.9 .7l1.8-.3l1.8 0l1.9 .1l1.8-.5l1.8-.4l1.8-.3l1.9-.2l1.8 .3l1.8-.2l1.9 1l1.8 .2l1.8-.3l1.9-.9l1.8 .3l1.8 .2l1.8 .2l1.9-.4l1.8-.4l1.8 .3l1.9 .4l1.8 .2l1.8-.9l1.8 .2l1.9 .1l1.8 .2l1.8 .6l1.9-.1l1.8-.1l1.8-.5l1.9-.8l1.8 .6l1.8-.3l1.8 .3l1.9-.5l1.8 .3l1.8 .5l1.9-.6l1.8-.2l1.8-.5l1.8 .5l1.9-.1l1.8 .3l1.8 0l1.9 .1l1.8 .4l1.8 0l1.8 .2l1.9 .3l1.8-.1l1.8 0l1.9 0l1.8-.5l1.8-1.6l1.9 .5l1.8 1l1.8 3.3l.7-.6l.8-.6l.7-.3l.7-.5l.8-.2l.7-.3l.7 0l.8-.1l.7-.1l.7 0l.8-.2l.7-.1l.7 .1l.8 .1l.7-.1l.7-.1l.7 0l.8 0l.7 0l.7 0l7.4 .1l7.3-.1l7.3-.1l7.3-.1l7.3 .1l7.3 .1l7.4-.1l7.3-.1l7.3 .1l7.3 0l7.3 .1l7.3 0l7.4-.1l7.3-.1l2.3 .1"/>
<path d="M169.6 1004.3L169.9 974.0L170.3 1033.2L170.8 1004.3"/>
<path d="M474.8 808.1L474.9 917.7L475.1 1018.7" stroke-width="1.3"/>
<path d="M107.1 1004.3H594.9" stroke-width="2"/>
</g>
<line x1="107.1" y1="787" x2="107.1" y2="1112" stroke="#000" stroke-width="1.5"/>
<line x1="107.1" y1="1111.3" x2="595.6" y2="1111.3" stroke="#000" stroke-width="1.5"/>
<line x1="96.6" y1="787.7" x2="107.1" y2="787.7" stroke="#000" stroke-width="1.5"/>
<text x="93.1" y="793.2" font-size="15.80" text-anchor="end" letter-spacing="0.4">1.5</text>
<line x1="96.6" y1="859.6" x2="107.1" y2="859.6" stroke="#000" stroke-width="1.5"/>
<text x="93.1" y="865.1" font-size="15.80" text-anchor="end" letter-spacing="0.4">1.0</text>
<line x1="96.6" y1="931.8" x2="107.1" y2="931.8" stroke="#000" stroke-width="1.5"/>
<text x="93.1" y="937.3" font-size="15.80" text-anchor="end" letter-spacing="0.4">0.5</text>
<line x1="96.6" y1="1004.3" x2="107.1" y2="1004.3" stroke="#000" stroke-width="1.5"/>
<text x="93.1" y="1009.8" font-size="15.80" text-anchor="end" letter-spacing="0.4">0.0</text>
<line x1="96.6" y1="1076.3" x2="107.1" y2="1076.3" stroke="#000" stroke-width="1.5"/>
<text x="93.1" y="1081.8" font-size="15.80" text-anchor="end" letter-spacing="0.4">-0.5</text>
<line x1="107.1" y1="1111.3" x2="107.1" y2="1120.3" stroke="#000" stroke-width="1.5"/>
<text x="107.1" y="1137.8" font-size="15.80" text-anchor="middle" letter-spacing="0.4">0</text>
<line x1="229" y1="1111.3" x2="229" y2="1120.3" stroke="#000" stroke-width="1.5"/>
<text x="229" y="1137.8" font-size="15.80" text-anchor="middle" letter-spacing="0.4">20</text>
<line x1="351" y1="1111.3" x2="351" y2="1120.3" stroke="#000" stroke-width="1.5"/>
<text x="351" y="1137.8" font-size="15.80" text-anchor="middle" letter-spacing="0.4">40</text>
<line x1="472.9" y1="1111.3" x2="472.9" y2="1120.3" stroke="#000" stroke-width="1.5"/>
<text x="472.9" y="1137.8" font-size="15.80" text-anchor="middle" letter-spacing="0.4">60</text>
<line x1="594.9" y1="1111.3" x2="594.9" y2="1120.3" stroke="#000" stroke-width="1.5"/>
<text x="594.9" y="1137.8" font-size="15.80" text-anchor="middle" letter-spacing="0.4">80</text>
<text x="931.8" y="748.8" font-size="30.20" text-anchor="middle">Serotonin-treated</text>
<text transform="translate(646.6 928) rotate(-90)" font-size="18.90" text-anchor="middle" letter-spacing="0.3">Current (nA)</text>
<text x="939.3" y="1159.5" font-size="18.90" text-anchor="middle" letter-spacing="0.3">Time(ms)</text>
<g fill="none" stroke="#f01010" stroke-width="0.8" stroke-linejoin="round">
<path d="M694.3 1003.3l7.3 .1l7.3-.5l7.2-.1l7.3 .2l7.3 .2l7.3 .2l7.2-.5l7.3 .1l7.3-7.8l.7-4.1l.8-5.3l.7-4.6l.7-6.6l.7-8.1l.8-9.2l.7-9l.7-7.1l.8-7.1l.7-5.7l.7-8.2l.7-6.5l.8-8.6l.7-6.1l.7-6.9l.7-2.3l.8-4.4l.7-4.4l.7-4l.8-2.9l.7-5l.7-3.5l.7-5l.8-3.3l.7-1.6l.7-3.2l.8-1.9l.7-3.7l.7 .5l.7 .1l.8-4.2l.7-.7l.7-4.2l.7-1.3l.8-2.9l.7 .3l.7-.8l.8-1.9l.7-2l.7-.2l.7-1.9l.8-.8l.7-.7l.7 .5l.8 1.9l.7-.6l1.8-1.2l1.8-4.1l1.8-1.3l1.9-1.3l1.8 1.4l1.8-.9l1.8 .6l1.8-2.3l1.9 .2l1.8-1.3l1.8 1.3l1.8-2.5l1.8-4l1.9-4.3l1.8-.5l1.8 3.5l1.8 1.7l1.8 2.1l1.9-1l1.8-.5l1.8-3.4l1.8 .9l1.8 .8l1.8 4.6l1.9 1.5l1.8-.9l1.8-1.6l1.8-1.5l1.8 2.4l1.9-.3l1.8-1.8l1.8-1.7l1.8-.4l1.8 .2l1.9 2.1l1.8-.9l1.8-.8l1.8-3.2l1.8-1.6l1.9-.9l1.8 .7l1.8 0l1.8 4l1.8-1.2l1.9 .5l1.8-3.5l1.8-.3l1.8 .9l1.8 0l1.9 .6l1.8 .3l1.8-.1l1.8 2.2l1.8-1.1l1.9-.4l1.8-.3l1.8 1.4l1.8 2.5l1.8-1.4l1.9-.5l1.8-.7l1.8 1.5l1.8-.6l1.8-1.7l1.8-2.2l1.9 .9l1.8 .4l1.8 .7l1.8-1.1l1.8-.2l1.9-2l1.8-.5l1.8-2.4l1.8-.4l1.8 2.1l1.9-.4l1.8 1.3l1.8-1.2l1.8 1l1.8-1.5l1.9 .2l1.8 1.3l1.8 2.1l1.8 .9l1.8 1.3l1.9 1.2l1.8-3.1l1.8-2.1l1.8-.4l1.8-.3l1.9 1.3l1.8 .7l1.8 1l1.8 .2l1.8-2.2l1.9-1.6l1.8 1l1.8 .2l1.8 1.2l1.8-.9l1.9-1.3l1.8-2.3l1.8-2.8l1.8-.1l1.8 .3l1.8 1.9l1.9-.5l1.8 2l1.8 .7l1.8 2l1.8-1.5l1.9-2.6l1.8-2.3l1.8 2.1l1.8 1.1l1.8 2.4l1.9-.8l1.8-.9l1.8-2.1l1.8-.6l1.8-.6l1.9 2.2l1.8 .8l1.8 1.8l1.8-1.2l1.8 1l1.9-.6l1.8 1.4l1.8-1.5l1.8 1.1l1.8-1.6l1.9-.8l1.8 1.9l1.8 2.6l1.8 .8l1.8-1l1.9 .3l1.8 .2l1.8-1.7l1.8-.7l1.8-.5l1.8 2.6l1.9 0l1.8 1.2l1.8-1l1.8 .4l1.8 229.8l.8-6.8l.7-5.5l.7-4.5l.8-3.8l.7-3l.7-2.4l.7-1.8l.8-1.4l.7-1.1l.7-1.1l.8-.8l.7-.5l.7-.4l.7-.3l.8-.6l.7-.3l.7-.1l.7 0l.8-.1l.7-.2l7.3-.6l7.3 .1l7.2 .2l7.3 .1l7.3-.1l7.3-.1l7.2 0l7.3 .5l7.3-.4l7.3 .3l7.3-.3l7.2 .3l7.3 0l7.3-.1l2.3 .1"/>
<path d="M694.3 1002.8l7.3 .2l7.3 .1l7.2-.2l7.3-.1l7.3 0l7.3 .2l7.2 0l7.3-.1l7.3-6.7l.7-5l.8-5l.7-6.7l.7-6.8l.7-7.9l.8-7.3l.7-7.4l.7-7.1l.8-7.8l.7-7.1l.7-8.2l.7-6.4l.8-7.4l.7-4.9l.7-4.4l.7-3.6l.8-2.7l.7-4.3l.7-4.3l.8-5.1l.7-5.5l.7-3.9l.7-2.8l.8-1.4l.7-2.4l.7-4l.8-5.9l.7-1.9l.7-.1l.7-1.1l.8-2.5l.7-2.8l.7-.4l.7-2.6l.8-2l.7-.9l.7-.1l.8 .1l.7-2l.7-.2l.7-.7l.8-.5l.7-1.1l.7-.9l.8-1.1l.7 .4l1.8 0l1.8 0l1.8-2l1.9-1.7l1.8-2l1.8-1.3l1.8-1.7l1.8-1.5l1.9 .4l1.8 .3l1.8-1.8l1.8 0l1.8 1l1.9 1.4l1.8-.8l1.8-2l1.8-3.1l1.8-1.8l1.9 1.2l1.8 3.6l1.8-.4l1.8-2.3l1.8-1.3l1.8-.4l1.9 .5l1.8 1.4l1.8 .5l1.8-1l1.8 .3l1.9 1.5l1.8-.8l1.8 1.2l1.8-3.8l1.8 2.1l1.9-3.6l1.8 2.3l1.8-1.9l1.8 1l1.8-1.1l1.9 .6l1.8-1.5l1.8 1l1.8 1.1l1.8 0l1.9-.9l1.8 3.1l1.8-1.4l1.8-2.3l1.8-4.9l1.9 2.8l1.8 2.2l1.8 .7l1.8 .2l1.8-1.4l1.9 1.2l1.8-.1l1.8 .3l1.8-1.4l1.8-3.1l1.9 0l1.8-.8l1.8 1.5l1.8 .2l1.8 .3l1.8-.9l1.9-.2l1.8 .7l1.8-.6l1.8 .7l1.8-2.5l1.9 1.3l1.8-.8l1.8-.2l1.8 1l1.8-1.7l1.9 2.6l1.8-1.4l1.8 .8l1.8-2.3l1.8 .1l1.9 .9l1.8 1.5l1.8-.4l1.8-.1l1.8 .2l1.9 .9l1.8 1.4l1.8 2.3l1.8-1.2l1.8 .5l1.9-2.5l1.8-1l1.8-.2l1.8-.9l1.8 .8l1.9-1.1l1.8 .5l1.8 1.5l1.8 .5l1.8 1.2l1.9-1.4l1.8 1.3l1.8-.7l1.8 .7l1.8-2.4l1.8 1.6l1.9 1.5l1.8 .8l1.8-3.7l1.8 .8l1.8 .9l1.9 3l1.8-1.3l1.8-2.9l1.8-1.5l1.8-1.1l1.9 2.8l1.8-2.1l1.8-1.4l1.8-.1l1.8 1.6l1.9 .8l1.8-.5l1.8 .7l1.8 1.2l1.8 .5l1.9-1.9l1.8 1.5l1.8-1.8l1.8 1.5l1.8-1l1.9 1.5l1.8-.9l1.8 0l1.8-1.8l1.8 .9l1.9-.1l1.8 2.2l1.8-.2l1.8-.5l1.8-1.4l1.8 1.5l1.9 .3l1.8 1.7l1.8-.6l1.8 1.3l1.8 224.5l.8-7l.7-5.4l.7-4.5l.8-3.2l.7-3.1l.7-2.3l.7-1.8l.8-1.5l.7-1l.7-.9l.8-.6l.7-.7l.7-.5l.7-.6l.8-.3l.7 0l.7 0l.7-.3l.8-.3l.7-.2l7.3-.1l7.3-.2l7.2-.2l7.3-.4l7.3 .2l7.3 .4l7.2 .4l7.3 0l7.3-.1l7.3-.2l7.3-.2l7.2-.1l7.3 0l7.3 .1l2.3 .1"/>
<path d="M694.3 1002.5l7.3 0l7.3-.1l7.2 .2l7.3 .4l7.3 .2l7.3 0l7.2-.1l7.3-.1l7.3-6.6l.7-4.9l.8-4.6l.7-6l.7-5l.7-7.2l.8-7.1l.7-7.4l.7-7.1l.8-6.1l.7-6.3l.7-6.3l.7-9.7l.8-5.7l.7-5.6l.7-3.2l.7-5.1l.8-5.3l.7-2.4l.7-3.6l.8-4.5l.7-5.1l.7-4.3l.7-1.7l.8-3.5l.7-2l.7-1.3l.8-1.4l.7-.8l.7-5l.7-.8l.8-5l.7 1.2l.7-1.6l.7 1.3l.8-.1l.7-.1l.7-2.2l.8-1.8l.7-2.9l.7-.7l.7-2.1l.8-.4l.7-.9l.7-1l.8-1.2l.7 .1l1.8-1.9l1.8-1.1l1.8-1.3l1.9-1.5l1.8-.5l1.8 .9l1.8 .7l1.8-1.3l1.9-3.3l1.8 .4l1.8-1.2l1.8 .5l1.8 .4l1.9 1l1.8-.1l1.8-1.3l1.8-2.2l1.8-1.8l1.9 .6l1.8 .2l1.8 .6l1.8-1.9l1.8 0l1.8-.4l1.9-.1l1.8 .9l1.8 .1l1.8-1.4l1.8 1.4l1.9 .7l1.8 1.2l1.8-.9l1.8-2l1.8 .7l1.9-1.5l1.8-.1l1.8-.9l1.8 1.2l1.8-.8l1.9 1.2l1.8-.5l1.8 1.7l1.8-2l1.8-1.2l1.9-3.7l1.8 .6l1.8 2l1.8 1.3l1.8 .4l1.9-2l1.8 .6l1.8-1l1.8 .2l1.8 .1l1.9-.3l1.8-1.6l1.8-1.1l1.8 .8l1.8 .5l1.9 0l1.8-2.9l1.8 .5l1.8 1l1.8-1.3l1.8-.9l1.9 .4l1.8 2l1.8 1l1.8-.4l1.8 .6l1.9-2.5l1.8 .6l1.8-1l1.8-.3l1.8 .1l1.9-.9l1.8 3.5l1.8-.5l1.8 3.1l1.8-1.2l1.9 1.2l1.8 .1l1.8 2.2l1.8-1.4l1.8-.7l1.9-1.2l1.8 1.5l1.8 1.1l1.8 .5l1.8-1.6l1.9-.5l1.8 .2l1.8-.1l1.8-1.7l1.8-2.2l1.9-.4l1.8 2l1.8 .2l1.8 1.4l1.8-1.6l1.9 .1l1.8 .4l1.8 2.2l1.8-1.4l1.8-1.5l1.8-.8l1.9 1.8l1.8-.7l1.8 .8l1.8-1.9l1.8 1.3l1.9-.1l1.8 4l1.8 .8l1.8-.7l1.8-3.3l1.9-.7l1.8-2.5l1.8-.6l1.8 1l1.8 .9l1.9 3.5l1.8-2.1l1.8 1.1l1.8-1.8l1.8 1.5l1.9-1.2l1.8 0l1.8-2.3l1.8 1.9l1.8-2.8l1.9-.2l1.8-.9l1.8 .3l1.8 1.9l1.8 1.7l1.9 2.8l1.8 1.4l1.8-1.2l1.8-1.2l1.8 .5l1.8-.3l1.9 .1l1.8-1.3l1.8-.7l1.8 .3l1.8 216.1l.8-6.6l.7-5.2l.7-4.3l.8-3.6l.7-2.7l.7-2l.7-1.4l.8-1.1l.7-1l.7-.9l.8-1l.7-.6l.7-.6l.7-.5l.8-.7l.7-.2l.7-.1l.7 .1l.8-.1l.7-.1l7.3-.3l7.3-.2l7.2-.2l7.3 0l7.3 .2l7.3 0l7.2 .1l7.3 .2l7.3 .1l7.3-.1l7.3-.2l7.2-.1l7.3-.2l7.3-.1l2.3 .1"/>
<path d="M694.3 1003.1l7.3-.1l7.3-.2l7.2 .3l7.3 0l7.3-.1l7.3 0l7.2-.1l7.3 .2l7.3-1l.7-3l.8-5.5l.7-4.5l.7-7.9l.7-5.7l.8-7.1l.7-4.8l.7-7.9l.8-8.5l.7-8.2l.7-5.8l.7-6.6l.8-5.7l.7-6.2l.7-6.3l.7-5.6l.8-5.7l.7-3.4l.7-2l.8-3.2l.7-3l.7-4.2l.7-1.3l.8-1.4l.7-2.2l.7-3.6l.8-2.5l.7-2.9l.7-1l.7-3.5l.8 1.7l.7-2.5l.7-.4l.7-3.6l.8-.2l.7-2.6l.7-.3l.8-1l.7-.7l.7 .4l.7-.6l.8 1.7l.7-2.9l.7 2.6l.8 .1l.7 1l1.8-4.4l1.8-2.1l1.8-2.3l1.9-1.6l1.8-2.5l1.8-1l1.8-1.1l1.8 1.1l1.9-.8l1.8 .2l1.8-2.6l1.8-1.4l1.8-1.2l1.9-1l1.8 2.2l1.8-.2l1.8 .4l1.8-.8l1.9 .6l1.8-.5l1.8-1.3l1.8-2.4l1.8 .9l1.8-2.3l1.9 .9l1.8-1.8l1.8 1.5l1.8-.6l1.8 2.4l1.9 0l1.8-1.4l1.8-1.6l1.8-1.7l1.8 1.7l1.9 .3l1.8 2.3l1.8 .8l1.8-2.9l1.8-1.4l1.9-1.1l1.8 .9l1.8 1.2l1.8-.3l1.8 0l1.9-.1l1.8 .2l1.8 2.3l1.8-.1l1.8-.2l1.9-1.5l1.8-3l1.8-1.4l1.8 3.2l1.8 1.4l1.9 1.2l1.8-2l1.8-.6l1.8 0l1.8-1.7l1.9-.1l1.8 1.8l1.8 1.5l1.8-1.5l1.8-1.7l1.8-.6l1.9 .8l1.8-1.1l1.8-1.9l1.8-2.6l1.8 .2l1.9 .4l1.8 2.4l1.8-.8l1.8 1.9l1.8-.2l1.9 1.6l1.8-.5l1.8 1.4l1.8 1.8l1.8 0l1.9-1.8l1.8-.4l1.8-.6l1.8 0l1.8-2.2l1.9-1.5l1.8-1.1l1.8 .8l1.8-.6l1.8 1l1.9 .7l1.8 2.5l1.8 1.5l1.8-1.5l1.8-1.5l1.9 .1l1.8 1.1l1.8-.8l1.8 1.7l1.8-1.1l1.9 1l1.8-.8l1.8 .7l1.8 0l1.8-.8l1.8 .4l1.9 .7l1.8 1.7l1.8-1.1l1.8-.4l1.8-1l1.9-.8l1.8 2.2l1.8 .4l1.8 1.3l1.8-.3l1.9-.8l1.8-.9l1.8-.1l1.8-.3l1.8 0l1.9-.5l1.8-1l1.8 1.2l1.8-.2l1.8 1.8l1.9-1.2l1.8 2.1l1.8-1.2l1.8-.2l1.8-1.4l1.9 0l1.8 .3l1.8-1.1l1.8-.7l1.8-.4l1.9 1.4l1.8 .2l1.8 .1l1.8 .2l1.8 1l1.8-.6l1.9-1.2l1.8-.5l1.8 1.9l1.8 1.1l1.8 205.2l.8-6.3l.7-4.9l.7-4.2l.8-3.2l.7-2.6l.7-1.7l.7-1.9l.8-1.5l.7-1.2l.7-.7l.8-.6l.7-.6l.7-.9l.7-.5l.8-.4l.7 .1l.7-.1l.7-.3l.8-.1l.7-.5l7.3 0l7.3 .1l7.2 .4l7.3-.2l7.3-.1l7.3 .1l7.2 0l7.3-.1l7.3-.3l7.3 .1l7.3 .2l7.2 .1l7.3 .1l7.3-.4l2.3-.2"/>
<path d="M694.3 1003.1l7.3 0l7.3-.1l7.2-.1l7.3 .1l7.3-.2l7.3 .1l7.2-.2l7.3 .3l7.3 8.1l.7-3.2l.8-5.4l.7-6.8l.7-8.1l.7-8.1l.8-7.2l.7-5.9l.7-5.3l.8-5.1l.7-6.6l.7-7.1l.7-7.6l.8-7.4l.7-4.7l.7-6.2l.7-4.1l.8-6.4l.7-4.2l.7-3.5l.8-2.4l.7-3.1l.7-5l.7-2.7l.8-.8l.7-.3l.7-1.9l.8-1.9l.7-.4l.7-.9l.7-3.1l.8-2.8l.7-3.5l.7-.5l.7-1.6l.8 .3l.7-2.7l.7-2l.8-1.9l.7 .8l.7 1l.7 1.2l.8-1.7l.7 .4l.7-3.1l.8 .5l.7-.1l1.8-.6l1.8-1.2l1.8-.7l1.9-1.5l1.8 .8l1.8-2.8l1.8-1l1.8-2.2l1.9-.2l1.8 .5l1.8-1l1.8-.8l1.8-.4l1.9-1l1.8 .3l1.8 1.5l1.8-1.6l1.8-1l1.9-.1l1.8 2.9l1.8-.8l1.8 .1l1.8-2.6l1.8 1.1l1.9-2.6l1.8 2.8l1.8-.7l1.8-.4l1.8-1.9l1.9-.3l1.8 .4l1.8-2.2l1.8-.2l1.8-.7l1.9 1.3l1.8 .7l1.8 2.2l1.8-2.5l1.8-1.1l1.9-1.1l1.8 .5l1.8 1.8l1.8-1l1.8-.8l1.9-2.6l1.8-.9l1.8 3.6l1.8-.9l1.8-.1l1.9-.9l1.8-1.1l1.8 .1l1.8 .7l1.8-.2l1.9-.9l1.8-.8l1.8 .9l1.8-.5l1.8-3.4l1.9 1.4l1.8 .6l1.8 3l1.8 .5l1.8-.3l1.8-.1l1.9-1.5l1.8-.7l1.8-1.3l1.8 1.2l1.8 2.6l1.9-.5l1.8 0l1.8 0l1.8 1.1l1.8-2.1l1.9-.5l1.8 1.7l1.8 .4l1.8-.9l1.8-1.6l1.9-.6l1.8-.4l1.8 1.3l1.8 1.5l1.8 1.3l1.9 .1l1.8-1.9l1.8 1l1.8-2l1.8 2.1l1.9-1.5l1.8 1.4l1.8-1.4l1.8 1.1l1.8-1.4l1.9 2l1.8 .1l1.8 .5l1.8-.1l1.8-1.3l1.9 .1l1.8-1.6l1.8-.6l1.8-.4l1.8 .1l1.8 1.5l1.9 .4l1.8-.4l1.8-.9l1.8-.5l1.8 2.6l1.9 .9l1.8-.1l1.8 .2l1.8-.5l1.8 .8l1.9-.6l1.8 0l1.8-.7l1.8-1.2l1.8-1.4l1.9 0l1.8-1.2l1.8-.9l1.8-.1l1.8 1.2l1.9 3.3l1.8 .5l1.8-1.9l1.8 0l1.8 2.8l1.9 .7l1.8 1l1.8-3.4l1.8 .5l1.8-1.8l1.9-.4l1.8 2.2l1.8 .9l1.8 1.8l1.8-2.5l1.8-.4l1.9-1l1.8 .4l1.8-1.4l1.8 1.5l1.8 194.1l.8-6l.7-5l.7-3.8l.8-2.8l.7-2.2l.7-2.3l.7-1.7l.8-1.5l.7-.8l.7-1.1l.8-.8l.7-.4l.7 .2l.7-.4l.8-.5l.7-.4l.7 0l.7 .1l.8-.5l.7-.2l7.3-.6l7.3 .4l7.2-.1l7.3 .3l7.3 0l7.3-.3l7.2-.3l7.3-.1l7.3 .1l7.3 .4l7.3-.1l7.2 .3l7.3 .1l7.3-.2l2.3 .2"/>
<path d="M694.3 1002.9l7.3-.2l7.3 0l7.2 .1l7.3 .4l7.3 0l7.3 .1l7.2-.3l7.3 .2l7.3 21.8l.7-2.8l.8-5.8l.7-7.1l.7-8.1l.7-7.9l.8-8.3l.7-8.2l.7-8l.8-6.9l.7-6.5l.7-6.7l.7-5.9l.8-6.2l.7-3.4l.7-4.3l.7-3.3l.8-3.5l.7-3l.7-4.1l.8-3.2l.7-5l.7-2.5l.7-2.6l.8-1.5l.7-2l.7-4.2l.8-1.3l.7-1.3l.7 .2l.7-2.4l.8-3.2l.7-2.3l.7-.4l.7 .5l.8 .4l.7-.9l.7-2.4l.8-1.1l.7-2.4l.7-.2l.7-1.7l.8 .7l.7-.1l.7-1.2l.8-1.1l.7-3.4l1.8-.3l1.8-2.9l1.8 0l1.9-2.7l1.8-.6l1.8 1l1.8 .2l1.8 1.4l1.9-1.7l1.8-1.7l1.8-.8l1.8-1.3l1.8 .5l1.9-.7l1.8 1.6l1.8 .6l1.8 .7l1.8-1.1l1.9 1.6l1.8-1.3l1.8 1.3l1.8-.4l1.8 .1l1.8-3.1l1.9-.3l1.8-.4l1.8 .3l1.8-2.5l1.8 .3l1.9 0l1.8 2.6l1.8-2l1.8 .4l1.8-.3l1.9-.3l1.8 .9l1.8-2.9l1.8 2.9l1.8-.6l1.9 2.1l1.8-1.4l1.8-1l1.8-2.5l1.8-.4l1.9 .7l1.8 .6l1.8 .4l1.8-.8l1.8-.4l1.9-1.8l1.8 3.9l1.8 1.2l1.8 .5l1.8-2.9l1.9 .2l1.8-.8l1.8-.3l1.8-1.9l1.8 .1l1.9-.2l1.8-.3l1.8 .9l1.8 .4l1.8 1.9l1.8 1.1l1.9-.2l1.8-2.8l1.8-1.3l1.8-.1l1.8 1.8l1.9 .7l1.8 .9l1.8 .7l1.8-1l1.8 1l1.9 .1l1.8 .9l1.8 .9l1.8 .8l1.8-1l1.9-2.3l1.8-1.9l1.8 .9l1.8-1.3l1.8-.8l1.9 .4l1.8 1.2l1.8 1.1l1.8-.4l1.8-.8l1.9-1.7l1.8-1.4l1.8 .4l1.8-1.3l1.8 0l1.9-.1l1.8 4.3l1.8 .2l1.8-1l1.8-.8l1.9 .2l1.8-2l1.8-1l1.8-1.1l1.8-.3l1.8 .9l1.9 .6l1.8 .6l1.8-1l1.8 1.5l1.8 1.5l1.9-.2l1.8-.2l1.8-.8l1.8-.5l1.8-.2l1.9 1.4l1.8-.5l1.8 1.1l1.8-.7l1.8 .5l1.9 1.3l1.8 1.5l1.8-.9l1.8-.7l1.8-1.8l1.9 2.4l1.8-.2l1.8 .4l1.8-.9l1.8 .1l1.9 .2l1.8 0l1.8-2.5l1.8-.7l1.8 .1l1.9 .9l1.8-.2l1.8-.2l1.8 .6l1.8-.6l1.8 .3l1.9-1.1l1.8 2.2l1.8-.2l1.8 .7l1.8 176.6l.8-5.3l.7-4.5l.7-3.6l.8-3.1l.7-2l.7-2.1l.7-1.5l.8-1.4l.7-1.1l.7-.6l.8-.6l.7-.4l.7-.4l.7-.3l.8-.4l.7 0l.7-.4l.7-.1l.8-.2l.7-.1l7.3-.2l7.3 0l7.2 .2l7.3-.2l7.3-.1l7.3 .1l7.2 .2l7.3 0l7.3-.3l7.3 0l7.3 0l7.2-.1l7.3 0l7.3-.1l2.3-.1"/>
<path d="M694.3 1002.9l7.3 0l7.3 0l7.2-.2l7.3-.1l7.3 0l7.3 .3l7.2 0l7.3 .2l7.3 35.2l.7-3.1l.8-5.5l.7-7.7l.7-9.8l.7-10l.8-8.5l.7-7.1l.7-7.5l.8-7.4l.7-7.6l.7-6.2l.7-6.5l.8-4.2l.7-3.5l.7-3.6l.7-2.6l.8-2.9l.7-5l.7-5.3l.8-5.3l.7-1.6l.7-1.5l.7-.1l.8-1.5l.7-4.1l.7-3.7l.8-3.2l.7 .4l.7-1.7l.7-.5l.8-1.4l.7-2l.7-.6l.7-.6l.8-.2l.7-.9l.7-2.5l.8-.7l.7-.2l.7-1.2l.7-1.1l.8-2.5l.7-1.3l.7-.5l.8-1.1l.7 .9l1.8-.1l1.8-.5l1.8-1.6l1.9-3.3l1.8-.8l1.8-.3l1.8 .7l1.8-1l1.9-.6l1.8-1.1l1.8 1.3l1.8-.2l1.8 1.6l1.9-1.7l1.8 1.6l1.8-2.8l1.8 .6l1.8-1.8l1.9 1.3l1.8-.9l1.8-1.2l1.8-1.2l1.8-1.8l1.8-2.3l1.9 1.7l1.8 .9l1.8 .4l1.8-2l1.8-1.3l1.9 1.2l1.8 0l1.8 1.1l1.8 .8l1.8-.1l1.9-1.8l1.8 .7l1.8-.3l1.8 1.1l1.8-.7l1.9-1l1.8-.4l1.8-.1l1.8-.6l1.8-.6l1.9-2l1.8-.7l1.8 .9l1.8 .9l1.8 .6l1.9-.9l1.8 .1l1.8 3.7l1.8 .3l1.8-.9l1.9-1.4l1.8 1l1.8-.8l1.8-.6l1.8-1.3l1.9-.7l1.8 .3l1.8 1.3l1.8 2.7l1.8-.6l1.8-2.6l1.9-.8l1.8-1l1.8 .1l1.8-1.4l1.8 .6l1.9 .6l1.8 1.4l1.8 1.7l1.8 1.5l1.8-.7l1.9-2.5l1.8-.7l1.8 .8l1.8 1.4l1.8 .8l1.9 .3l1.8-1l1.8-.3l1.8 .6l1.8 2l1.9-.1l1.8-1.9l1.8-1.4l1.8 0l1.8 1.5l1.9 1.4l1.8 1.1l1.8 .7l1.8-3.2l1.8-.8l1.9-.3l1.8 .3l1.8-.5l1.8-.8l1.8 1.2l1.9-1.2l1.8-.9l1.8-.5l1.8 1.2l1.8-.2l1.8-.1l1.9-.8l1.8-.2l1.8 .8l1.8-.5l1.8-.1l1.9 .3l1.8 .3l1.8 .1l1.8 .3l1.8 1.8l1.9 .3l1.8 1l1.8 .2l1.8 .4l1.8-.3l1.9-.5l1.8-.5l1.8 1.3l1.8-.6l1.8 2.5l1.9-1.7l1.8-.2l1.8-1.4l1.8 1.1l1.8 1.2l1.9 .2l1.8-4.2l1.8-3.6l1.8 .3l1.8 3.3l1.9 1.3l1.8-1.6l1.8-.5l1.8 0l1.8 .4l1.8-1.2l1.9 1.1l1.8-1l1.8 .4l1.8-.2l1.8 163l.8-5l.7-3.9l.7-3.4l.8-2.8l.7-2.2l.7-1.6l.7-1.5l.8-1.3l.7-.9l.7-.8l.8-.7l.7-.6l.7-.4l.7 .2l.8-.1l.7 .1l.7-.4l.7-.1l.8-.3l.7-.1l7.3-.4l7.3-.1l7.2-.1l7.3 .1l7.3 .1l7.3 .2l7.2 .2l7.3-.3l7.3 0l7.3-.1l7.3-.1l7.2 0l7.3-.1l7.3 .1l2.3-.1"/>
<path d="M694.3 1003.1l7.3-.3l7.3 0l7.2 .4l7.3 .2l7.3 .1l7.3-.3l7.2-.1l7.3 .1l7.3 51.5l.7-2.8l.8-5.9l.7-7.5l.7-9.9l.7-9.7l.8-10l.7-9.5l.7-9.3l.8-9l.7-7.6l.7-5.5l.7-3.8l.8-4.3l.7-5l.7-4.1l.7-5.1l.8-3.6l.7-2.9l.7-.8l.8-3.2l.7-1.7l.7-3.6l.7-.7l.8-5.3l.7-.9l.7-2.6l.8 .3l.7-2.4l.7-1.7l.7-1.5l.8-.5l.7-1.4l.7-.2l.7-.5l.8-1.1l.7-.6l.7-2.1l.8-.7l.7-2.4l.7-1.6l.7 .7l.8 0l.7-.3l.7-.6l.8-.8l.7-.4l1.8-2.9l1.8-2.3l1.8 .1l1.9 .2l1.8 .3l1.8-1.4l1.8-.6l1.8-.1l1.9 .3l1.8-1.4l1.8-.9l1.8-.6l1.8 0l1.9-1.5l1.8-.3l1.8 .2l1.8 2.4l1.8 .4l1.9-1.9l1.8-.5l1.8 .9l1.8 .2l1.8-1.6l1.8-1.7l1.9 1.8l1.8-.2l1.8-.5l1.8-3.4l1.8-1.5l1.9-.7l1.8 1.3l1.8 1.2l1.8 .3l1.8 .2l1.9 .4l1.8 .6l1.8-1.5l1.8-1.4l1.8-.5l1.9 1.5l1.8 .9l1.8-.1l1.8 .6l1.8-1.2l1.9-.9l1.8-1.3l1.8 2.1l1.8 0l1.8 1.1l1.9-.4l1.8 .6l1.8 1.4l1.8-.2l1.8-.6l1.9-1.3l1.8-.6l1.8 .7l1.8-.2l1.8 .1l1.9 .4l1.8 0l1.8-.6l1.8-.5l1.8-.6l1.8-.1l1.9-.7l1.8 .4l1.8 .4l1.8 .3l1.8-1.5l1.9-.1l1.8 .3l1.8-.2l1.8-.1l1.8-1l1.9-.4l1.8 .9l1.8 1.5l1.8 1.3l1.8-.5l1.9-1l1.8 2l1.8 .8l1.8 .8l1.8-1.6l1.9-1.2l1.8-1.6l1.8 1.7l1.8-.9l1.8 .2l1.9-2.9l1.8-.1l1.8 .5l1.8 1l1.8 1l1.9-1.6l1.8-.8l1.8-.5l1.8 .8l1.8-.9l1.9 .6l1.8 1l1.8 .8l1.8 .4l1.8 1.2l1.8-1l1.9-.5l1.8-.5l1.8 1.2l1.8-.5l1.8-.8l1.9-.2l1.8 1.2l1.8 0l1.8 1.4l1.8 .9l1.9 .3l1.8-.5l1.8 0l1.8-.3l1.8 .3l1.9 .4l1.8-.2l1.8-.3l1.8-1l1.8 0l1.9-1.8l1.8-.9l1.8 1l1.8 2.1l1.8-2l1.9-.7l1.8-.9l1.8 1.4l1.8-1.7l1.8 .6l1.9 .7l1.8 1.2l1.8 0l1.8 .8l1.8 .2l1.8 0l1.9-1.4l1.8-1l1.8-1l1.8-.3l1.8 143.5l.8-4.7l.7-3.6l.7-2.8l.8-2.6l.7-2.1l.7-1.7l.7-1.1l.8-.8l.7-.7l.7-.7l.8-.9l.7-.6l.7-.5l.7 0l.8 0l.7 .1l.7-.3l.7-.2l.8-.4l.7-.2l7.3-.5l7.3 .3l7.2 .5l7.3 .3l7.3 0l7.3-.5l7.2-.2l7.3-.1l7.3 .2l7.3 0l7.3 0l7.2-.3l7.3 .1l7.3-.3l2.3 .4"/>
<path d="M694.3 1002.9l7.3 .1l7.3 .1l7.2 .1l7.3 .1l7.3-.2l7.3-.1l7.2-.1l7.3 0l7.3 63.8l.7-1.9l.8-4.3l.7-7.3l.7-9l.7-10.2l.8-11l.7-10.9l.7-9.9l.8-9.6l.7-7.7l.7-6.3l.7-4.3l.8-3.1l.7-3.5l.7-3.2l.7-1.7l.8-3.8l.7-2l.7-2.9l.8-1.6l.7-.8l.7-1.4l.7-.6l.8-1.9l.7-.6l.7-1.3l.8-2l.7-3.6l.7-2.3l.7-2l.8-1.2l.7-.8l.7-.5l.7-1.2l.8-.2l.7-1.3l.7-.9l.8-2.4l.7-.3l.7 0l.7 .4l.8-.9l.7-1l.7-.5l.8-1.1l.7-.6l1.8-.8l1.8 .7l1.8-.6l1.9 0l1.8-1.8l1.8-2.4l1.8-1.8l1.8 .8l1.9 .4l1.8-.9l1.8-.7l1.8 0l1.8 .5l1.9-1.1l1.8 .7l1.8-1.6l1.8-.9l1.8 .1l1.9 .5l1.8 1.2l1.8-1.5l1.8 .5l1.8-.7l1.8-.6l1.9 1l1.8-.4l1.8-.1l1.8-2.1l1.8-1.2l1.9-.6l1.8 .6l1.8 1.3l1.8 .4l1.8-.6l1.9 .1l1.8 .1l1.8 1.3l1.8-2.6l1.8 1l1.9-.4l1.8 1.7l1.8-1.5l1.8-.5l1.8 .4l1.9 0l1.8 0l1.8-.6l1.8 0l1.8-.6l1.9 1.1l1.8 .5l1.8 .2l1.8 0l1.8 .8l1.9-.8l1.8-.3l1.8 .5l1.8 0l1.8 .4l1.9-.3l1.8-.3l1.8 .3l1.8-1.6l1.8 .8l1.8-1.6l1.9 1l1.8-1.7l1.8 .4l1.8 .6l1.8 1.1l1.9 1.6l1.8-1.5l1.8-.7l1.8-2l1.8-.9l1.9 .6l1.8 .9l1.8-.6l1.8 .9l1.8 0l1.9 1l1.8-.4l1.8-1.3l1.8-.5l1.8-1.1l1.9 .6l1.8 .7l1.8 .2l1.8-.2l1.8 1.2l1.9 .9l1.8-1.1l1.8-1.2l1.8-.8l1.8 .2l1.9-.3l1.8-.1l1.8-.7l1.8 1l1.8 1.3l1.9-1.2l1.8 1.6l1.8-.5l1.8 1.6l1.8-1.9l1.8 .1l1.9 0l1.8 1.6l1.8 1.4l1.8 .7l1.8-.4l1.9 .3l1.8 0l1.8-.1l1.8-1.1l1.8 .7l1.9 .2l1.8 .4l1.8 .3l1.8-.4l1.8 1.4l1.9 .3l1.8-.1l1.8-1.8l1.8-.4l1.8-.7l1.9-.7l1.8-.2l1.8-.3l1.8-.8l1.8 .7l1.9-.9l1.8 .7l1.8-1.8l1.8 1.1l1.8 .2l1.9 2.3l1.8 .2l1.8 .3l1.8-.9l1.8-.1l1.8-.2l1.9-1.1l1.8-.3l1.8-1.7l1.8 .1l1.8 116.2l.8-4.2l.7-3.4l.7-2.7l.8-2.2l.7-1.4l.7-1.2l.7-1.1l.8-.9l.7-.7l.7-.5l.8-.4l.7-.5l.7-.4l.7 0l.8-.3l.7-.2l.7-.2l.7-.2l.8-.1l.7 0l7.3-.2l7.3-.1l7.2 .1l7.3 .1l7.3 0l7.3-.1l7.2 0l7.3 0l7.3-.1l7.3 .2l7.3-.1l7.2 0l7.3-.1l7.3 0l2.3 .1"/>
<path d="M694.3 1003.0l7.3 0l7.3-.1l7.2 .1l7.3 0l7.3 0l7.3 0l7.2-.1l7.3 .1l7.3 72.8l.7 1.9l.8-3.1l.7-5.4l.7-8.3l.7-9.5l.8-11.1l.7-11.2l.7-11l.8-9.9l.7-8.9l.7-6.5l.7-5l.8-4.6l.7-4l.7-2.7l.7 0l.8-2.5l.7-3.9l.7-2.7l.8-1.3l.7 1.2l.7-2.9l.7-2.9l.8-3.9l.7-2.1l.7-1.9l.8 .6l.7 .9l.7-.4l.7-1.1l.8-1.3l.7-.1l.7-.8l.7-.5l.8-.5l.7-2.2l.7-1l.8-1.1l.7 .1l.7 .1l.7 .2l.8 0l.7-2.3l.7-.9l.8-1.9l.7-1.2l1.8-.2l1.8 0l1.8-.3l1.9-1l1.8-1.2l1.8-1l1.8-.3l1.8 .3l1.9 1.1l1.8-1.7l1.8-1.2l1.8-2.7l1.8 .9l1.9 1l1.8 1l1.8 .4l1.8-1.8l1.8 .9l1.9-1.8l1.8 1.2l1.8 1.7l1.8 .8l1.8-.3l1.8-1.9l1.9-1.7l1.8-.5l1.8 0l1.8-.1l1.8-.8l1.9-.5l1.8 .4l1.8 .5l1.8 .1l1.8 1.2l1.9-1.5l1.8-.2l1.8-.6l1.8 .5l1.8 .4l1.9-.4l1.8 .8l1.8-1.5l1.8 .5l1.8 .4l1.9 .8l1.8-.4l1.8-.2l1.8-.6l1.8-.9l1.9-.1l1.8-1.2l1.8 .5l1.8-.1l1.8 1.9l1.9 .2l1.8-.7l1.8 .3l1.8-.7l1.8 .4l1.9-1.7l1.8-.2l1.8 .9l1.8 1.5l1.8 .9l1.8-.5l1.9 .4l1.8-.6l1.8 .1l1.8 0l1.8 .5l1.9 .1l1.8-1.8l1.8 .2l1.8-.2l1.8 1.4l1.9-.7l1.8-1.3l1.8-.7l1.8-.1l1.8 1l1.9-.5l1.8-.5l1.8-.6l1.8 1l1.8 .3l1.9 .2l1.8 0l1.8 .3l1.8 0l1.8-.3l1.9-.4l1.8-1l1.8-.5l1.8 1.2l1.8 1.6l1.9-.9l1.8-.8l1.8-1l1.8 .2l1.8 .9l1.9 .9l1.8 .6l1.8-1.4l1.8 .5l1.8 .5l1.8 .1l1.9 .4l1.8 0l1.8-.4l1.8-1.5l1.8-.5l1.9 .1l1.8 .9l1.8 .2l1.8-.4l1.8-1.7l1.9-.5l1.8 0l1.8 1l1.8 1.8l1.8 1.5l1.9-.3l1.8-1.4l1.8-.6l1.8 .1l1.8-.2l1.9 .6l1.8-.4l1.8 .1l1.8-.4l1.8 .5l1.9 .1l1.8 .2l1.8-.4l1.8 .5l1.8-.4l1.9 1l1.8-.8l1.8 0l1.8-.2l1.8 1.3l1.8-.4l1.9-.4l1.8-.5l1.8 .8l1.8 .6l1.8 91.5l.8-3.6l.7-2.8l.7-2.5l.8-1.8l.7-1.7l.7-1.2l.7-1.1l.8-.7l.7-.6l.7-.5l.8-.5l.7-.4l.7-.4l.7-.1l.8-.1l.7-.1l.7-.2l.7-.1l.8-.1l.7 .1l7.3-.4l7.3-.1l7.2 0l7.3 .1l7.3 .1l7.3 .1l7.2-.1l7.3 0l7.3 .1l7.3 0l7.3 0l7.2 0l7.3-.3l7.3 0l2.3 .1"/>
<path d="M694.3 1003.0l7.3 .2l7.3-.1l7.2 .1l7.3 0l7.3 .1l7.3-.1l7.2-.2l7.3 .1l7.3 79.6l.7 6.3l.8 .2l.7-3.6l.7-5.7l.7-8.5l.8-9.4l.7-10.6l.7-10.2l.8-10.7l.7-9.8l.7-8.8l.7-7.2l.8-4.7l.7-4.9l.7-3.1l.7-4.1l.8-1.5l.7-1.8l.7-2l.8-2.5l.7-1.4l.7-.2l.7-1l.8 .1l.7-.9l.7 .2l.8-2.9l.7 .1l.7-.4l.7 .4l.8-2.8l.7-.3l.7-1l.7 .3l.8-1.1l.7-.2l.7-.2l.8-1l.7-1.3l.7-1.5l.7 .1l.8-.4l.7 .8l.7-.2l.8 .7l.7-1.2l1.8-.1l1.8 .2l1.8 .4l1.9-2.1l1.8-.6l1.8-.1l1.8 .3l1.8-1.3l1.9 .4l1.8-.5l1.8-.9l1.8-1.6l1.8-1.1l1.9 1l1.8-.2l1.8 .6l1.8-1.5l1.8 .5l1.9 1.1l1.8 .9l1.8 0l1.8-1.2l1.8-.4l1.8-.4l1.9-.7l1.8 .5l1.8-.4l1.8 .9l1.8 0l1.9 .5l1.8 1.2l1.8 0l1.8-.4l1.8-2.2l1.9-.6l1.8-.1l1.8 1l1.8-.4l1.8-.1l1.9 0l1.8 0l1.8 .4l1.8 .3l1.8 1.1l1.9-1.4l1.8-.5l1.8-1.2l1.8 .9l1.8-.7l1.9 .1l1.8-.2l1.8 .6l1.8-.1l1.8-.8l1.9-.1l1.8 .2l1.8 .8l1.8-1.3l1.8 .2l1.9-.1l1.8 .9l1.8 .7l1.8 .4l1.8 .5l1.8-1.4l1.9-.6l1.8 .4l1.8-.4l1.8-.4l1.8-.4l1.9 0l1.8 1.1l1.8-1.3l1.8 1l1.8-.5l1.9 .3l1.8 .8l1.8 .3l1.8 1.1l1.8-.3l1.9-.4l1.8 .1l1.8-.3l1.8 .8l1.8 1l1.9 .9l1.8 .8l1.8-1.2l1.8-1l1.8-1.6l1.9-.4l1.8 .5l1.8 .5l1.8 .1l1.8-.2l1.9-.8l1.8-.1l1.8-1.3l1.8 .8l1.8-.1l1.9 .2l1.8 .6l1.8-.3l1.8 .6l1.8-1.2l1.8 .2l1.9-.6l1.8 .5l1.8 .3l1.8 .9l1.8 0l1.9-1l1.8-.2l1.8-.2l1.8 .5l1.8 .7l1.9 .4l1.8-1l1.8-1l1.8 .3l1.8 .3l1.9 .2l1.8-.5l1.8 2l1.8-.7l1.8 .1l1.9-1.8l1.8 1.2l1.8-.2l1.8 .7l1.8-.4l1.9-.5l1.8 .2l1.8 .3l1.8 0l1.8 .3l1.9-1.1l1.8-.2l1.8-.2l1.8-.1l1.8-.8l1.8 0l1.9 1.2l1.8-.4l1.8-.5l1.8-.4l1.8 63.4l.8-2.9l.7-2.4l.7-1.7l.8-1.5l.7-1l.7-1.1l.7-.8l.8-.6l.7-.6l.7-.5l.8-.4l.7-.2l.7-.1l.7-.1l.8-.2l.7-.2l.7 0l.7-.1l.8-.1l.7-.1l7.3 0l7.3 0l7.2-.1l7.3-.1l7.3 0l7.3 .1l7.2-.1l7.3 .2l7.3 0l7.3 .1l7.3-.1l7.2 .1l7.3-.2l7.3-.2l2.3 0"/>
<path d="M694.3 1003.1l7.3 .1l7.3 .1l7.2-.2l7.3-.1l7.3 .2l7.3 0l7.2 .1l7.3 0l7.3 76.7l.7 11l.8 6.4l.7 .8l.7-2.5l.7-5.3l.8-7.2l.7-9.4l.7-11.1l.8-10.7l.7-11l.7-8.9l.7-9.6l.8-7.3l.7-7l.7-4.1l.7-3.4l.8-3.5l.7-3.6l.7-2.3l.8-1l.7-.1l.7-1.3l.7-.9l.8-.9l.7-.2l.7 0l.8 .5l.7-1.2l.7-.2l.7-.6l.8-1l.7-.7l.7-1.2l.7-.4l.8-.4l.7-.4l.7 .6l.8 .5l.7-.3l.7-.6l.7-.6l.8-.6l.7 .2l.7-.1l.8 .5l.7-1.3l1.8-1.4l1.8-.9l1.8 .2l1.9 .2l1.8-.4l1.8-.3l1.8-.8l1.8 .5l1.9-.5l1.8 .1l1.8-.8l1.8 .3l1.8-.7l1.9-.6l1.8 1.1l1.8 .6l1.8 .5l1.8-1.6l1.9 .2l1.8 .4l1.8 .2l1.8-.7l1.8-.5l1.8 .6l1.9-.7l1.8-1.1l1.8-.5l1.8 .9l1.8 .7l1.9 0l1.8 .1l1.8 .4l1.8-.2l1.8-1.1l1.9 .7l1.8-.9l1.8 1.2l1.8-.7l1.8 .9l1.9-.7l1.8-.8l1.8-.6l1.8-.1l1.8 .8l1.9 .8l1.8 .1l1.8-.2l1.8 0l1.8 .4l1.9 0l1.8-.1l1.8-.6l1.8-.2l1.8 .4l1.9 .6l1.8 .7l1.8-.9l1.8 1.3l1.8 0l1.9 .1l1.8-.9l1.8-.4l1.8 1l1.8 .1l1.8-.2l1.9-.5l1.8 0l1.8-.4l1.8-.5l1.8-.9l1.9 0l1.8 .3l1.8 .7l1.8 0l1.8-1.2l1.9 .1l1.8 .4l1.8 1.3l1.8-.9l1.8-.1l1.9-.6l1.8 .1l1.8 1.6l1.8 .5l1.8 .4l1.9-.9l1.8 .2l1.8-.8l1.8 .3l1.8-.8l1.9 .1l1.8-1l1.8 1l1.8 0l1.8 .6l1.9-.1l1.8-.4l1.8 0l1.8-.4l1.8 1.3l1.9-.1l1.8 0l1.8-.1l1.8 .5l1.8-.9l1.8-.7l1.9 .1l1.8 .6l1.8 .4l1.8-.3l1.8 .7l1.9-.3l1.8-.4l1.8-1l1.8 .2l1.8 .7l1.9 1.8l1.8 .1l1.8-.5l1.8-1.3l1.8 0l1.9 .3l1.8-.5l1.8 .2l1.8 .2l1.8-.2l1.9-.3l1.8-.8l1.8 1.4l1.8 .4l1.8 1.1l1.9-.5l1.8-.5l1.8-.5l1.8-.1l1.8 .6l1.9 .6l1.8 1.1l1.8 .2l1.8-.4l1.8-.3l1.8-.1l1.9-.5l1.8 .2l1.8 .5l1.8 .2l1.8 38.9l.8-2.6l.7-2.1l.7-1.7l.8-1l.7-1.1l.7-.8l.7-.9l.8-.4l.7-.5l.7-.2l.8-.4l.7-.1l.7-.3l.7-.1l.8 0l.7-.1l.7 0l.7-.1l.8-.1l.7-.2l7.3-.1l7.3 .1l7.2 .1l7.3 0l7.3-.1l7.3 0l7.2-.1l7.3-.1l7.3 .1l7.3 .2l7.3 .1l7.2-.1l7.3 0l7.3-.1l2.3 .1"/>
<path d="M694.3 1003.1l7.3 0l7.3-.2l7.2 0l7.3 0l7.3 .1l7.3 0l7.2 .2l7.3-.1l7.3 57.4l.7 13.1l.8 11.7l.7 7.6l.7 2.3l.7-1.3l.8-3.3l.7-5.6l.7-8.5l.8-9l.7-9.3l.7-9.5l.7-9l.8-8.9l.7-7.7l.7-6.4l.7-3.9l.8-3.2l.7-2.9l.7-4.1l.8-2.5l.7-1.3l.7-.3l.7-.7l.8-1l.7-1.3l.7-.6l.8 0l.7 .4l.7-.5l.7-.5l.8-.2l.7 0l.7-.5l.7-1l.8-.5l.7 .9l.7-.2l.8-.3l.7-.6l.7 .1l.7 .6l.8-1l.7 .6l.7-.8l.8 .9l.7-1.2l1.8-.2l1.8-.5l1.8-.5l1.9-.7l1.8-1.6l1.8 .7l1.8-.7l1.8 .7l1.9 .3l1.8 .4l1.8-.6l1.8-1.7l1.8 .9l1.9 .4l1.8 .2l1.8 0l1.8-.3l1.8-.6l1.9 .2l1.8-.2l1.8 .5l1.8-.1l1.8-.1l1.8-.3l1.9-.2l1.8 .7l1.8-.3l1.8-.4l1.8 .6l1.9 1.3l1.8 .6l1.8-.2l1.8-.9l1.8-.6l1.9-.4l1.8 .4l1.8-.2l1.8 .2l1.8 .5l1.9 0l1.8 0l1.8-.3l1.8 0l1.8-.4l1.9-.3l1.8 .6l1.8 0l1.8 .8l1.8-.1l1.9-.2l1.8-.1l1.8 .1l1.8 .2l1.8 0l1.9-.6l1.8 .8l1.8-.5l1.8 .4l1.8 .1l1.9-.2l1.8-.5l1.8 .1l1.8 0l1.8 .6l1.8-.3l1.9-.2l1.8 .2l1.8-1l1.8 .8l1.8 .1l1.9 .7l1.8-.7l1.8-1.1l1.8 0l1.8 0l1.9-.1l1.8 .3l1.8-.4l1.8-.3l1.8-.2l1.9 .1l1.8 1.5l1.8-.9l1.8-.5l1.8-.3l1.9 .9l1.8 1.1l1.8 .2l1.8-.8l1.8-.2l1.9 0l1.8-.1l1.8 .9l1.8 .7l1.8-.5l1.9-.9l1.8-.6l1.8 .4l1.8-.2l1.8 .3l1.9 .7l1.8 .1l1.8-.2l1.8 .1l1.8-.3l1.8 0l1.9 .4l1.8-.2l1.8-.3l1.8-.7l1.8 .2l1.9-.1l1.8 1l1.8 0l1.8-.4l1.8-.5l1.9-.2l1.8 1.2l1.8 .2l1.8 0l1.8-1.5l1.9-.9l1.8-.8l1.8 .5l1.8 .4l1.8 .7l1.9 .6l1.8 .5l1.8 .1l1.8 0l1.8-.6l1.9 .5l1.8 .6l1.8-.2l1.8-.2l1.8-.7l1.9 0l1.8 .2l1.8-.7l1.8 0l1.8 .4l1.8-.3l1.9 .7l1.8 .2l1.8-.1l1.8-.4l1.8 25.8l.8-2.2l.7-1.8l.7-1.4l.8-.9l.7-.7l.7-.7l.7-.5l.8-.6l.7-.2l.7-.4l.8-.3l.7-.2l.7 0l.7 0l.8-.2l.7-.1l.7-.3l.7 .1l.8 .1l.7 0l7.3-.2l7.3-.2l7.2 0l7.3 0l7.3 .1l7.3 0l7.2-.1l7.3-.1l7.3 .1l7.3 0l7.3 .1l7.2 0l7.3 0l7.3 0l2.3 0"/>
<path d="M694.3 1003.1l7.3 0l7.3 0l7.2 0l7.3 .1l7.3-.1l7.3-.1l7.2-.1l7.3 .1l7.3 35.6l.7 11.8l.8 12.1l.7 11.5l.7 8.8l.7 5.5l.8 .4l.7-1.5l.7-3.3l.8-5l.7-7l.7-8l.7-8.4l.8-7.9l.7-9.1l.7-7.2l.7-7.1l.8-5.2l.7-4.2l.7-3.5l.8-2.9l.7-3.4l.7-3.1l.7-.6l.8-1.1l.7-.5l.7-2l.8 .2l.7 .2l.7-.4l.7-.3l.8-.2l.7 .7l.7-.7l.7-.1l.8-.6l.7 1.3l.7 0l.8 .2l.7-1l.7-.5l.7 0l.8-1.4l.7-.8l.7-1l.8 .8l.7 .7l1.8 .2l1.8 .3l1.8-.5l1.9 .1l1.8-.2l1.8 0l1.8-.9l1.8-.2l1.9 .2l1.8 1.1l1.8 .4l1.8 .2l1.8-1.2l1.9-.7l1.8-.6l1.8-.2l1.8-.1l1.8 .3l1.9 .1l1.8-.8l1.8-.4l1.8 .9l1.8 .1l1.8 .1l1.9-.9l1.8 .9l1.8 .1l1.8 .2l1.8-1l1.9 .2l1.8 .2l1.8 .2l1.8-1.1l1.8 .6l1.9 .4l1.8 1l1.8-.3l1.8 0l1.8 .4l1.9 .1l1.8-.1l1.8 .8l1.8-.3l1.8-.9l1.9-.3l1.8-.2l1.8 .5l1.8-.8l1.8-.2l1.9 .2l1.8-.5l1.8 .3l1.8-.4l1.8 .4l1.9 .3l1.8 .1l1.8-.8l1.8-.3l1.8 .7l1.9 1l1.8 .6l1.8-.6l1.8 .1l1.8 0l1.8-.1l1.9-.2l1.8 .1l1.8 .2l1.8 .1l1.8-.4l1.9 .5l1.8 .6l1.8-.2l1.8-.6l1.8-1.2l1.9-1l1.8 .5l1.8 .3l1.8 1.6l1.8 .2l1.9 1.1l1.8-.6l1.8-1.2l1.8-.4l1.8-.2l1.9 1.2l1.8-.2l1.8 .7l1.8-.8l1.8-.2l1.9-1.3l1.8-.2l1.8 .4l1.8 .5l1.8 .1l1.9-1.4l1.8-.2l1.8 .3l1.8 1l1.8 .8l1.9-.4l1.8 .1l1.8-.5l1.8 .8l1.8-.1l1.8 .2l1.9 0l1.8-.3l1.8-.3l1.8-.4l1.8 .1l1.9 .4l1.8 .3l1.8 .5l1.8-.8l1.8-.7l1.9-.8l1.8 .3l1.8 .4l1.8-.3l1.8 .4l1.9-.4l1.8 .8l1.8 .1l1.8-.2l1.8-.1l1.9 .3l1.8 .4l1.8 .7l1.8 .4l1.8 .5l1.9 .2l1.8-.5l1.8-.4l1.8-.9l1.8-.1l1.9-.1l1.8 .2l1.8 .5l1.8-.5l1.8-.3l1.8-.7l1.9 .3l1.8 .2l1.8 .3l1.8 .2l1.8 19.9l.8-2l.7-1.5l.7-1.3l.8-1.2l.7-.9l.7-.6l.7-.5l.8-.3l.7-.3l.7-.3l.8-.3l.7-.2l.7-.1l.7-.1l.8-.1l.7-.1l.7-.1l.7-.1l.8 0l.7 0l7.3-.1l7.3-.1l7.2 0l7.3 0l7.3 .2l7.3-.1l7.2 .1l7.3 0l7.3 0l7.3-.1l7.3 0l7.2-.1l7.3 .1l7.3-.1l2.3 0"/>
<path d="M694.3 1003.0l7.3-.1l7.3 .1l7.2-.1l7.3 0l7.3 .1l7.3 0l7.2 .1l7.3 0l7.3 14.6l.7 6.5l.8 7.6l.7 8.7l.7 8.6l.7 8.2l.8 6.2l.7 3.7l.7 .7l.8-1.7l.7-3.2l.7-4.1l.7-4.8l.8-4.8l.7-6.3l.7-5.3l.7-4.1l.8-4.6l.7-5.5l.7-5.3l.8-4.5l.7-2.6l.7-2.7l.7-1.5l.8-1.7l.7-1.6l.7-1.3l.8-.1l.7-.2l.7 .7l.7-.8l.8-.9l.7-1.5l.7-.2l.7 .1l.8 .2l.7-.6l.7-.6l.8 .1l.7 .1l.7 .8l.7-.2l.8 .2l.7-.7l.7-.1l.8 .1l.7 .1l1.8-.4l1.8-.7l1.8 1l1.9 0l1.8 0l1.8-1.2l1.8 .3l1.8 .7l1.9 .3l1.8 .4l1.8-1l1.8-.5l1.8-.4l1.9-.6l1.8-.4l1.8-.1l1.8 1l1.8-.9l1.9 .4l1.8-.2l1.8 .1l1.8-.6l1.8 1l1.8 .1l1.9 .2l1.8-1.2l1.8 1l1.8-.2l1.8 0l1.9-.2l1.8-.5l1.8 .1l1.8 1l1.8 .4l1.9 0l1.8-1.8l1.8-.4l1.8-.5l1.8-.4l1.9-.2l1.8 .2l1.8 .6l1.8 .6l1.8-.1l1.9-1.1l1.8 .4l1.8 .8l1.8 .9l1.8 .3l1.9-1l1.8 .2l1.8 0l1.8 1.2l1.8 .3l1.9-.1l1.8-.5l1.8-.2l1.8 .3l1.8 .5l1.9 .1l1.8-.9l1.8 .1l1.8 .6l1.8-.1l1.8 0l1.9-.4l1.8 .8l1.8 .5l1.8-.1l1.8 .3l1.9-.3l1.8 1l1.8-1.2l1.8-.3l1.8-.5l1.9 .4l1.8-.3l1.8-.5l1.8 .2l1.8 1l1.9-.3l1.8-.1l1.8-.5l1.8 .1l1.8 .6l1.9-.4l1.8-.4l1.8-.3l1.8 .4l1.8 .1l1.9-.3l1.8-.6l1.8 .7l1.8 .3l1.8 .4l1.9-.7l1.8-.2l1.8-.8l1.8 .8l1.8 .2l1.9-.3l1.8-.5l1.8-.6l1.8 .1l1.8-.3l1.8 .5l1.9 .1l1.8 .2l1.8-.6l1.8-.2l1.8 .7l1.9 .2l1.8 .8l1.8-.8l1.8 .3l1.8-.4l1.9 .4l1.8-1l1.8 .2l1.8-.6l1.8 .6l1.9-.6l1.8 .1l1.8 0l1.8 .3l1.8 .1l1.9-.2l1.8-.1l1.8 .4l1.8 0l1.8 1l1.9 .4l1.8 .2l1.8 .3l1.8 0l1.8 .5l1.9-.6l1.8-.9l1.8 .3l1.8 .3l1.8 1.1l1.8-.4l1.9-.5l1.8-.2l1.8-.2l1.8-.3l1.8 15.7l.8-1.9l.7-1.4l.7-1.2l.8-1l.7-.9l.7-.7l.7-.5l.8-.3l.7-.3l.7-.2l.8-.4l.7-.1l.7-.1l.7-.2l.8-.1l.7-.1l.7-.1l.7-.1l.8 0l.7 0l7.3 0l7.3 0l7.2 .1l7.3-.1l7.3 0l7.3 0l7.2 .1l7.3-.1l7.3 0l7.3 0l7.3 0l7.2-.1l7.3 0l7.3 .1l2.3 .1"/>
<path d="M694.3 1003.0l7.3 .1l7.3-.1l7.2 0l7.3-.1l7.3 .1l7.3 .1l7.2 .1l7.3-.2l7.3 3.3l.7 1.9l.8 3.1l.7 3.5l.7 4.8l.7 4.9l.8 5.7l.7 5l.7 4.6l.8 2.4l.7 .5l.7-.5l.7-1.5l.8-2l.7-2.3l.7-3l.7-2.6l.8-3.5l.7-3.4l.7-3.8l.8-3.9l.7-2.6l.7-2.5l.7-2.5l.8-2.2l.7-1.7l.7-.3l.8-1.2l.7-.5l.7-1.6l.7 .4l.8-.3l.7 .6l.7-1.3l.7-1.2l.8 .3l.7 1.3l.7 .2l.8-.6l.7-.6l.7-.4l.7-.1l.8 .5l.7 .6l.7 .3l.8-.5l.7 0l1.8-.6l1.8-.8l1.8-.2l1.9 .8l1.8 .2l1.8-.2l1.8-1.2l1.8 .1l1.9 .9l1.8 0l1.8-.4l1.8-.8l1.8 1.1l1.9 .1l1.8 0l1.8-.6l1.8-.1l1.8 .2l1.9 .9l1.8 .6l1.8-.3l1.8-.2l1.8-.6l1.8 .3l1.9-1.1l1.8 0l1.8-.6l1.8-.1l1.8 .7l1.9-.5l1.8 .5l1.8 0l1.8 .8l1.8-.2l1.9 0l1.8-.1l1.8 .3l1.8-.3l1.8-.4l1.9-.5l1.8-.4l1.8 1.2l1.8-.5l1.8 1l1.9-1.3l1.8 .3l1.8-1.1l1.8 .3l1.8-.7l1.9-.6l1.8 .2l1.8 1.2l1.8 1.3l1.8-.7l1.9 .6l1.8-1.2l1.8-.2l1.8-.4l1.8 1.6l1.9 .2l1.8-.1l1.8 0l1.8 .7l1.8 .3l1.8-.7l1.9 0l1.8-1.1l1.8 0l1.8 0l1.8 .6l1.9-.7l1.8 .5l1.8 .2l1.8 .8l1.8-.5l1.9-.1l1.8 .7l1.8 .1l1.8-.5l1.8 0l1.9 .1l1.8 .7l1.8-.5l1.8 .6l1.8-.7l1.9 .3l1.8-1.1l1.8 .7l1.8-.6l1.8 .3l1.9-.7l1.8 0l1.8-.1l1.8 .4l1.8 .1l1.9 .6l1.8 .6l1.8 .2l1.8-.9l1.8-.9l1.9-.1l1.8 .8l1.8 .2l1.8 .1l1.8-.3l1.8-.6l1.9-.7l1.8-1.1l1.8-.1l1.8 .3l1.8 1.5l1.9 1.2l1.8-.1l1.8-.2l1.8-.5l1.8 .3l1.9-.2l1.8 .7l1.8-.3l1.8 .4l1.8-.4l1.9-.3l1.8-1.1l1.8 .1l1.8-.1l1.8 .7l1.9 .5l1.8 .3l1.8-.2l1.8-1.1l1.8-.5l1.9 .4l1.8 .4l1.8 .7l1.8-.5l1.8-.2l1.9-.5l1.8 .6l1.8 .7l1.8 .3l1.8-.9l1.8-.7l1.9-.3l1.8-.2l1.8 .1l1.8 .1l1.8 14.8l.8-1.8l.7-1.4l.7-1.1l.8-.9l.7-.8l.7-.6l.7-.6l.8-.4l.7-.3l.7-.2l.8-.1l.7-.1l.7-.1l.7-.3l.8-.1l.7-.1l.7 0l.7 0l.8 .1l.7-.1l7.3-.1l7.3 0l7.2-.1l7.3 0l7.3-.1l7.3 .1l7.2-.1l7.3 .1l7.3 0l7.3 .1l7.3-.2l7.2-.1l7.3 0l7.3 .2l2.3 .1"/>
<path d="M694.3 1002.9l7.3-.1l7.3 0l7.2 .1l7.3 .1l7.3 0l7.3-.1l7.2-.1l7.3 .1l7.3 .5l.7 .4l.8 .7l.7 1.2l.7 1.9l.7 2.3l.8 2.6l.7 4l.7 3.1l.8 3.3l.7 2l.7 2.2l.7 .7l.8 1.1l.7-.2l.7-.3l.7-.8l.8-1.3l.7-1.2l.7-2.5l.8-1.9l.7-3.2l.7-2.9l.7-2l.8-1.8l.7-.8l.7-1.3l.8-.6l.7-1.8l.7-1l.7-.2l.8-.7l.7-.3l.7-.8l.7 .7l.8-1.2l.7-.5l.7-.8l.8 .5l.7 .2l.7-.8l.7-.3l.8-1l.7 .9l.7 0l.8 .5l.7-1.9l1.8-.9l1.8-1l1.8 .7l1.9 .3l1.8 .8l1.8 0l1.8 .3l1.8 .1l1.9 .6l1.8-.2l1.8 0l1.8-1.1l1.8 .7l1.9-.5l1.8 .6l1.8-.6l1.8 .6l1.8 .6l1.9-.4l1.8-.6l1.8-.5l1.8-.4l1.8 .6l1.8 .8l1.9 1.4l1.8-.7l1.8-.3l1.8 .2l1.8 .1l1.9-.7l1.8 0l1.8 .7l1.8 .4l1.8-.2l1.9 .4l1.8 .1l1.8 .1l1.8-1.2l1.8-.6l1.9 .1l1.8 .6l1.8 .2l1.8-.9l1.8-.4l1.9-.2l1.8 .5l1.8-.2l1.8-.1l1.8-.4l1.9 .2l1.8 .4l1.8 .4l1.8 .3l1.8 .6l1.9-.3l1.8 .6l1.8 .1l1.8 .3l1.8-.6l1.9-1.5l1.8-.1l1.8 .4l1.8 1.1l1.8 .3l1.8-1.1l1.9-.1l1.8 1.4l1.8 .3l1.8 .5l1.8-1.3l1.9 0l1.8 0l1.8-.3l1.8 .5l1.8-1.2l1.9-.6l1.8 .2l1.8 .9l1.8 .4l1.8-.1l1.9-.6l1.8 .5l1.8-.2l1.8 .5l1.8-.2l1.9 .4l1.8-.5l1.8 0l1.8-.8l1.8 .4l1.9 .5l1.8 .2l1.8-.1l1.8-.4l1.8 0l1.9 .4l1.8-.3l1.8 0l1.8 .4l1.8-.6l1.9 .4l1.8-.1l1.8 1.5l1.8 .2l1.8-.2l1.8-.9l1.9-.5l1.8-.5l1.8 .7l1.8 .2l1.8 .3l1.9-.2l1.8-.2l1.8-1.1l1.8-.1l1.8-.3l1.9 1l1.8 0l1.8 .8l1.8 .2l1.8-.1l1.9-.5l1.8-.9l1.8-.7l1.8-.5l1.8 .2l1.9-.2l1.8-.1l1.8-.2l1.8 .6l1.8 .3l1.9 .7l1.8 .3l1.8 0l1.8-.3l1.8 .1l1.9-.1l1.8 .2l1.8 0l1.8 .3l1.8 .4l1.8-.2l1.9 .7l1.8-.9l1.8 .3l1.8-.5l1.8 11.8l.8-1.9l.7-1.4l.7-1.1l.8-1l.7-.7l.7-.6l.7-.3l.8-.4l.7-.4l.7-.4l.8-.1l.7-.1l.7-.2l.7-.2l.8-.1l.7-.1l.7-.1l.7 0l.8 0l.7 0l7.3 0l7.3 .1l7.2 0l7.3-.1l7.3-.1l7.3 0l7.2 0l7.3 .1l7.3-.1l7.3-.1l7.3 0l7.2 .1l7.3 .1l7.3 0l2.3 0"/>
<path d="M694.3 1003.1l7.3 0l7.3-.1l7.2 0l7.3 .1l7.3-.1l7.3 .1l7.2 .1l7.3 0l7.3 .4l.7-.2l.8 .4l.7 .3l.7 .4l.7 0l.8 1.3l.7 1.6l.7 2.5l.8 2.1l.7 2.7l.7 2.3l.7 2.4l.8 1.2l.7 2.1l.7 .5l.7 .1l.8-1.2l.7-.9l.7-.5l.8-.7l.7-1.6l.7-1.6l.7-1.3l.8-.6l.7-1.5l.7-1l.8-1.5l.7-1.3l.7-2.4l.7-1.3l.8-.5l.7 0l.7 0l.7-.1l.8-.7l.7-.6l.7-.5l.8 .4l.7-1l.7-.5l.7-1.1l.8 1.5l.7-.2l.7 .3l.8-.4l.7 .6l1.8-.4l1.8-.5l1.8-.7l1.9-.1l1.8-.5l1.8 .5l1.8 .3l1.8-.3l1.9-.7l1.8-1.6l1.8 .4l1.8 .3l1.8 1.4l1.9-.6l1.8-.3l1.8 0l1.8 0l1.8-.6l1.9 .6l1.8 .5l1.8 .5l1.8-.3l1.8 .2l1.8-.1l1.9 .4l1.8-.3l1.8 .2l1.8 .1l1.8-.1l1.9 .3l1.8-.5l1.8 1.4l1.8-.5l1.8 0l1.9-.3l1.8 .1l1.8 0l1.8 1l1.8-.1l1.9-.3l1.8-2.1l1.8 .4l1.8 .3l1.8 1l1.9 .2l1.8 .6l1.8-.2l1.8-.4l1.8 .6l1.9-.4l1.8-.5l1.8-1.4l1.8 .6l1.8 1.3l1.9-.5l1.8-.4l1.8-.3l1.8 .9l1.8 .2l1.9-.6l1.8-.4l1.8-.4l1.8 1.2l1.8 .8l1.8-.3l1.9-1.1l1.8-.2l1.8 .4l1.8-.1l1.8 0l1.9 .1l1.8 .8l1.8-.1l1.8 .6l1.8-.3l1.9 .3l1.8-.8l1.8 1l1.8-.7l1.8-.3l1.9-1.5l1.8-.1l1.8-.5l1.8 .7l1.8 0l1.9 .2l1.8-.7l1.8 0l1.8 .4l1.8-.3l1.9-.5l1.8 .3l1.8 .4l1.8 .7l1.8 .6l1.9-.2l1.8-1l1.8-.1l1.8 .1l1.8 .6l1.9-.1l1.8 .5l1.8 .3l1.8-.1l1.8-.5l1.8 .7l1.9-.9l1.8-.6l1.8-2.1l1.8 .5l1.8 .6l1.9 .5l1.8-.2l1.8-.3l1.8 .2l1.8 0l1.9 .1l1.8 .2l1.8 .4l1.8 .2l1.8 .9l1.9-.3l1.8 1.3l1.8 .3l1.8 .5l1.8-.4l1.9-.8l1.8 .3l1.8-.5l1.8 .3l1.8 0l1.9-.4l1.8 .2l1.8 .1l1.8 .2l1.8-.5l1.9-.7l1.8-.3l1.8-.2l1.8 .7l1.8 .3l1.8 .7l1.9-.6l1.8 .6l1.8-1l1.8-.2l1.8 10.6l.8-1.7l.7-1.4l.7-1.1l.8-.9l.7-.7l.7-.6l.7-.4l.8-.4l.7-.3l.7-.3l.8-.3l.7-.1l.7-.2l.7-.1l.8 0l.7 0l.7-.1l.7-.1l.8-.1l.7-.1l7.3 0l7.3-.1l7.2 .1l7.3 0l7.3 .1l7.3-.1l7.2 0l7.3-.2l7.3 0l7.3 0l7.3 0l7.2 .1l7.3 0l7.3 .3l2.3-.2"/>
<path d="M694.3 1003.0l7.3 0l7.3-.1l7.2 .1l7.3 0l7.3 .1l7.3 0l7.2-.1l7.3 .1l7.3 0l.7 0l.8-.1l.7 .3l.7 .3l.7 .4l.8 .7l.7-.1l.7 .3l.8 .6l.7 1.2l.7 1.1l.7 1.4l.8 1.6l.7 1.2l.7 1.3l.7 1.4l.8 2.2l.7 .3l.7 .8l.8-.4l.7-.2l.7-.6l.7-1l.8-1.3l.7-1l.7-.8l.8 .1l.7-.9l.7-2.1l.7-1.4l.8-1.5l.7 .5l.7-.9l.7-.8l.8-1.7l.7-.4l.7 .5l.8-.1l.7-.2l.7 0l.7 .7l.8-.1l.7 .1l.7-.1l.8-.4l.7-.6l1.8-.7l1.8 .4l1.8 0l1.9 .5l1.8-.2l1.8-1.3l1.8-.5l1.8-.2l1.9 .7l1.8 .1l1.8-.9l1.8 .3l1.8 .4l1.9 1.3l1.8-.2l1.8-1.2l1.8-.3l1.8 .5l1.9 1.3l1.8-.3l1.8-.1l1.8 .3l1.8-.5l1.8-.1l1.9-.1l1.8 .5l1.8 .5l1.8-.1l1.8 .2l1.9-.4l1.8-.2l1.8 .6l1.8 .7l1.8 .2l1.9 .5l1.8-1.2l1.8-.3l1.8-.5l1.8 .3l1.9-1.2l1.8-.7l1.8 .2l1.8 .7l1.8-.1l1.9-.4l1.8 .2l1.8 .7l1.8-.5l1.8-.7l1.9 .1l1.8 .9l1.8 .9l1.8-.3l1.8-.4l1.9-.4l1.8 0l1.8 .4l1.8 .9l1.8 .3l1.9-.1l1.8-.6l1.8 0l1.8 .4l1.8 0l1.8 .3l1.9-1.1l1.8-.1l1.8 .2l1.8 1l1.8-.1l1.9-.7l1.8-.6l1.8 .2l1.8 .3l1.8 .6l1.9-.3l1.8 0l1.8-.4l1.8 .2l1.8-.3l1.9 .2l1.8 .7l1.8 .4l1.8 0l1.8-.9l1.9-.8l1.8 .3l1.8-.6l1.8 .8l1.8-.5l1.9-.2l1.8-.5l1.8 .2l1.8 .5l1.8-.2l1.9-.1l1.8 .4l1.8 1.5l1.8 0l1.8-.6l1.9-.6l1.8 .6l1.8 1.2l1.8-.8l1.8-.9l1.8-.7l1.9 1.2l1.8-.1l1.8-.1l1.8 .2l1.8 .5l1.9 0l1.8-.9l1.8-.8l1.8-.1l1.8-.1l1.9 .3l1.8 .2l1.8 .5l1.8 .1l1.8-.3l1.9-1.4l1.8 .1l1.8 .9l1.8 1.4l1.8 0l1.9 .4l1.8-.7l1.8-.1l1.8-.8l1.8 .5l1.9-.7l1.8-.5l1.8 .2l1.8 .6l1.8 .1l1.9 0l1.8-.2l1.8 .3l1.8 .1l1.8 .2l1.8-.5l1.9-.5l1.8-.5l1.8-.5l1.8 .6l1.8 9.7l.8-1.6l.7-1.3l.7-1.1l.8-.9l.7-.8l.7-.7l.7-.4l.8-.3l.7-.3l.7-.2l.8-.2l.7-.2l.7-.1l.7-.2l.8 0l.7-.3l.7 .2l.7-.1l.8 0l.7 0l7.3-.1l7.3 .1l7.2 0l7.3 .1l7.3-.1l7.3-.1l7.2 0l7.3 0l7.3 0l7.3-.2l7.3 .2l7.2 0l7.3 .1l7.3-.2l2.3 0"/>
<path d="M694.3 1003.0l7.3-.1l7.3 0l7.2 0l7.3 .3l7.3-.2l7.3 0l7.2-.1l7.3 0l7.3 0l.7-.3l.8-.2l.7-.2l.7 .6l.7 0l.8 .2l.7-.1l.7 .5l.8-.3l.7 0l.7-.8l.7 .3l.8-.3l.7 .5l.7 .3l.7-.7l.8-.1l.7-.7l.7 .9l.8 .1l.7 .9l.7-.5l.7 0l.8 .1l.7 .5l.7-.1l.8-.5l.7 .7l.7-.5l.7-.7l.8-1l.7-.1l.7 .8l.7-.4l.8 1.1l.7-.1l.7-.2l.8-.8l.7 .2l.7 .9l.7 .5l.8-.3l.7-.8l.7 .3l.8 .3l.7 .3l1.8-.3l1.8 .8l1.8 .2l1.9 .3l1.8-1l1.8-.9l1.8-.1l1.8 .7l1.9-.1l1.8 .9l1.8-.5l1.8 .7l1.8-.5l1.9-.5l1.8-.1l1.8-.3l1.8 .5l1.8 0l1.9 .5l1.8-.4l1.8-.4l1.8 .3l1.8 .3l1.8 .3l1.9-.6l1.8-.1l1.8-.8l1.8-.5l1.8 1.2l1.9 .5l1.8-.1l1.8-1.1l1.8 .4l1.8-.4l1.9 .6l1.8-.1l1.8 1.1l1.8-.7l1.8 0l1.9 .1l1.8 .3l1.8 .1l1.8 .3l1.8-.5l1.9-.6l1.8-.5l1.8 .1l1.8 .8l1.8 .9l1.9 .3l1.8-.3l1.8-.5l1.8-1l1.8 .4l1.9 0l1.8 .9l1.8-.5l1.8 .5l1.8-.6l1.9 .7l1.8-.6l1.8 .5l1.8 .1l1.8 1l1.8-.4l1.9 .1l1.8-1.2l1.8-.5l1.8-.5l1.8 .7l1.9 .2l1.8 .1l1.8-1l1.8-.4l1.8-.1l1.9 .6l1.8 .1l1.8-.1l1.8-.4l1.8 .4l1.9 .2l1.8-.2l1.8 .5l1.8-.1l1.8 .7l1.9-.1l1.8 0l1.8-.3l1.8 .3l1.8 .3l1.9 .3l1.8 .3l1.8-.6l1.8 .3l1.8-.6l1.9 .5l1.8-.6l1.8 .8l1.8-.3l1.8 1.1l1.9-.5l1.8 .4l1.8-1l1.8-.7l1.8 0l1.8 .5l1.9 .1l1.8 .1l1.8-.6l1.8-.1l1.8-.3l1.9 .5l1.8 .2l1.8-.2l1.8 0l1.8-.4l1.9-.6l1.8-.7l1.8 1.1l1.8 .4l1.8 .5l1.9 .1l1.8 .4l1.8-1.1l1.8-1.2l1.8-1l1.9-.1l1.8 .8l1.8 .6l1.8 .4l1.8 .3l1.9 .5l1.8 .6l1.8-.9l1.8-.4l1.8-.7l1.9 .3l1.8-.2l1.8-.5l1.8 .5l1.8 .5l1.8 1l1.9-.8l1.8-.6l1.8 .5l1.8 1.1l1.8 8l.8-1.7l.7-1.4l.7-1.2l.8-.8l.7-.7l.7-.6l.7-.4l.8-.4l.7-.4l.7-.2l.8-.3l.7 0l.7-.2l.7-.1l.8-.1l.7 0l.7-.1l.7-.1l.8 0l.7 .1l7.3-.1l7.3 0l7.2-.1l7.3 .1l7.3-.1l7.3 .1l7.2-.1l7.3 0l7.3-.1l7.3 0l7.3 .1l7.2 0l7.3-.1l7.3 .1l2.3 0"/>
<path d="M694.3 1003.0l7.3 .1l7.3-.1l7.2 .1l7.3 .2l7.3-.1l7.3-.1l7.2-.2l7.3 .2l7.3-.1l.7 0l.8-.3l.7-.4l.7-.2l.7-.2l.8 .3l.7 0l.7 .5l.8-.2l.7-.2l.7-.4l.7 .7l.8-.2l.7 .4l.7-.2l.7 1l.8 .1l.7-.8l.7-.2l.8-.2l.7 .3l.7 .4l.7-.2l.8 .8l.7-.6l.7 .2l.8-.9l.7 .3l.7 .1l.7 .3l.8-1.1l.7-.2l.7 .2l.7 .3l.8-.5l.7 0l.7 .7l.8 .1l.7-.6l.7-.2l.7 .4l.8 .5l.7-.5l.7-.5l.8 .7l.7-.2l1.8 .4l1.8-.8l1.8 .1l1.9 .2l1.8-.5l1.8 1.2l1.8 .2l1.8 1.2l1.9-.5l1.8-.3l1.8-.9l1.8 .2l1.8 .6l1.9 .9l1.8 .6l1.8-.1l1.8-.4l1.8 0l1.9-.6l1.8-.4l1.8 .2l1.8 .2l1.8 .3l1.8-.8l1.9 .4l1.8-.8l1.8 .1l1.8 .5l1.8 .5l1.9-.6l1.8-1.4l1.8 .9l1.8 .1l1.8 .9l1.9-.2l1.8-.1l1.8-.3l1.8 .2l1.8 1.2l1.9 0l1.8-.8l1.8-.2l1.8-.2l1.8-.2l1.9 .3l1.8-.4l1.8 .5l1.8-.8l1.8-.2l1.9-.2l1.8-.4l1.8 .7l1.8-.2l1.8-.1l1.9-.9l1.8 .2l1.8 .7l1.8 1.3l1.8-.9l1.9-.1l1.8-.1l1.8 1.2l1.8 .5l1.8-.3l1.8-1.2l1.9-.7l1.8 1.2l1.8 .1l1.8 .4l1.8-.3l1.9 1.1l1.8 .3l1.8 .3l1.8-.4l1.8-1l1.9-.2l1.8 0l1.8-.3l1.8-.8l1.8-.2l1.9 .1l1.8 .5l1.8-.2l1.8 .2l1.8-.1l1.9 .4l1.8-.9l1.8-.4l1.8-.2l1.8 1.3l1.9-.1l1.8 .6l1.8 .2l1.8 .1l1.8-.5l1.9 .2l1.8-.2l1.8-.8l1.8-.6l1.8 .9l1.9 .8l1.8 1.1l1.8-.1l1.8 0l1.8-1l1.8-.3l1.9 .1l1.8-.7l1.8-.5l1.8-.2l1.8 .4l1.9 0l1.8-.8l1.8-.6l1.8 0l1.8 .6l1.9-.2l1.8 .6l1.8 .1l1.8 .5l1.8-.4l1.9 0l1.8 .1l1.8 .5l1.8-.2l1.8 .2l1.9-.1l1.8 .1l1.8-.4l1.8 .3l1.8 .3l1.9 .4l1.8 .3l1.8-.1l1.8-.4l1.8-.6l1.9-.6l1.8 0l1.8 .4l1.8 .4l1.8 0l1.8-.5l1.9 .3l1.8 .4l1.8 .5l1.8-.6l1.8 8.8l.8-1.9l.7-1.3l.7-1.3l.8-.8l.7-.8l.7-.5l.7-.4l.8-.2l.7-.3l.7-.4l.8-.3l.7-.2l.7 0l.7-.1l.8-.1l.7-.1l.7 0l.7 0l.8 0l.7 0l7.3 0l7.3-.1l7.2 0l7.3-.1l7.3 0l7.3 0l7.2 .1l7.3 0l7.3 .2l7.3-.1l7.3-.1l7.2-.1l7.3 0l7.3 .1l2.3 .1"/>
<path d="M694.3 1003.1l7.3 0l7.3-.1l7.2 0l7.3-.1l7.3-.1l7.3 0l7.2 0l7.3 .2l7.3 .4l.7 0l.8 0l.7 .2l.7 0l.7-.3l.8-.8l.7 .5l.7 0l.8 .4l.7 .2l.7 .7l.7 .3l.8-.3l.7-.7l.7-.8l.7-.5l.8 0l.7 .3l.7 .8l.8 .1l.7 0l.7-.2l.7 .4l.8 .2l.7-1.2l.7-.1l.8 0l.7 .5l.7 .2l.7 .6l.8-.4l.7 0l.7 .2l.7 .5l.8-.1l.7-1l.7-.7l.8-.5l.7 0l.7 .9l.7 .5l.8 .4l.7-.3l.7-.4l.8-.1l.7 0l1.8-.3l1.8 .5l1.8 .6l1.9 .3l1.8-.5l1.8-.7l1.8 .4l1.8-.2l1.9 .3l1.8 .6l1.8 .4l1.8 .5l1.8-.7l1.9-.2l1.8-.7l1.8-.5l1.8-.3l1.8 .5l1.9-.1l1.8-.6l1.8 .5l1.8-.5l1.8 .9l1.8-.7l1.9 .9l1.8-.5l1.8-.5l1.8 .4l1.8 .8l1.9 .5l1.8-.2l1.8-.1l1.8-1l1.8-.1l1.9 .1l1.8 .7l1.8 .5l1.8 .3l1.8 .3l1.9-.7l1.8-.2l1.8-.6l1.8 .6l1.8-.3l1.9-.8l1.8 1l1.8-.2l1.8 1.5l1.8-.9l1.9 .6l1.8-.6l1.8 0l1.8-.7l1.8 .2l1.9-.1l1.8 .1l1.8 .7l1.8-.3l1.8-.2l1.9-.8l1.8 .4l1.8-.1l1.8 .4l1.8-.1l1.8-.2l1.9-.5l1.8-.9l1.8-.4l1.8-.2l1.8 .9l1.9 .6l1.8-.3l1.8-.4l1.8-.3l1.8 .4l1.9 .5l1.8 .7l1.8 .1l1.8-.3l1.8-.3l1.9 .1l1.8 .2l1.8-.3l1.8 0l1.8-.3l1.9 .6l1.8-.6l1.8-.2l1.8-.2l1.8 .5l1.9 .9l1.8 1.1l1.8 .2l1.8 .5l1.8-.2l1.9-.1l1.8-.8l1.8-1l1.8-.1l1.8 .3l1.9 .5l1.8 .4l1.8-.2l1.8-.3l1.8-.7l1.8 .2l1.9 0l1.8 .7l1.8-.5l1.8-.5l1.8-.4l1.9 .8l1.8 .6l1.8-.6l1.8 .1l1.8 .5l1.9-.2l1.8-1.4l1.8-1.1l1.8 .3l1.8 .5l1.9-.3l1.8 .5l1.8-.8l1.8 1.1l1.8 .4l1.9 .8l1.8-1.3l1.8-.2l1.8-.4l1.8 .2l1.9 1l1.8-.2l1.8 .9l1.8-1.4l1.8 1.1l1.9-.7l1.8 .1l1.8-.4l1.8 1l1.8 .5l1.8 .2l1.9-.5l1.8-.5l1.8 .1l1.8 .4l1.8 8l.8-1.7l.7-1.3l.7-1.1l.8-.9l.7-.8l.7-.6l.7-.5l.8-.4l.7-.3l.7-.3l.8-.1l.7 0l.7-.1l.7-.2l.8-.1l.7 0l.7 0l.7 0l.8-.1l.7 0l7.3-.3l7.3 0l7.2-.1l7.3 0l7.3 0l7.3 0l7.2 0l7.3 0l7.3 0l7.3 .1l7.3 0l7.2 .1l7.3 0l7.3 0l2.3 .1"/>
<path d="M756.5 1003.0L756.8 931.0L757.2 1017.4L757.7 1003.0"/>
<path d="M1060.0 801.4L1060.1 916.6L1060.3 1046.2" stroke-width="1.3"/>
<path d="M694.3 1003.0H1179.5" stroke-width="2"/>
<path d="M1063.0 1003.0H1179.5" stroke-width="3.6"/>
</g>
<line x1="694.3" y1="787" x2="694.3" y2="1112" stroke="#000" stroke-width="1.5"/>
<line x1="694.3" y1="1111.3" x2="1180.2" y2="1111.3" stroke="#000" stroke-width="1.5"/>
<line x1="683.8" y1="787.7" x2="694.3" y2="787.7" stroke="#000" stroke-width="1.5"/>
<text x="680.3" y="793.2" font-size="15.80" text-anchor="end" letter-spacing="0.4">1.5</text>
<line x1="683.8" y1="859.6" x2="694.3" y2="859.6" stroke="#000" stroke-width="1.5"/>
<text x="680.3" y="865.1" font-size="15.80" text-anchor="end" letter-spacing="0.4">1.0</text>
<line x1="683.8" y1="931.8" x2="694.3" y2="931.8" stroke="#000" stroke-width="1.5"/>
<text x="680.3" y="937.3" font-size="15.80" text-anchor="end" letter-spacing="0.4">0.5</text>
<line x1="683.8" y1="1004.3" x2="694.3" y2="1004.3" stroke="#000" stroke-width="1.5"/>
<text x="680.3" y="1009.8" font-size="15.80" text-anchor="end" letter-spacing="0.4">0.0</text>
<line x1="683.8" y1="1076.3" x2="694.3" y2="1076.3" stroke="#000" stroke-width="1.5"/>
<text x="680.3" y="1081.8" font-size="15.80" text-anchor="end" letter-spacing="0.4">-0.5</text>
<line x1="694.3" y1="1111.3" x2="694.3" y2="1120.3" stroke="#000" stroke-width="1.5"/>
<text x="694.3" y="1137.8" font-size="15.80" text-anchor="middle" letter-spacing="0.4">0</text>
<line x1="815.6" y1="1111.3" x2="815.6" y2="1120.3" stroke="#000" stroke-width="1.5"/>
<text x="815.6" y="1137.8" font-size="15.80" text-anchor="middle" letter-spacing="0.4">20</text>
<line x1="936.9" y1="1111.3" x2="936.9" y2="1120.3" stroke="#000" stroke-width="1.5"/>
<text x="936.9" y="1137.8" font-size="15.80" text-anchor="middle" letter-spacing="0.4">40</text>
<line x1="1058.2" y1="1111.3" x2="1058.2" y2="1120.3" stroke="#000" stroke-width="1.5"/>
<text x="1058.2" y="1137.8" font-size="15.80" text-anchor="middle" letter-spacing="0.4">60</text>
<line x1="1179.5" y1="1111.3" x2="1179.5" y2="1120.3" stroke="#000" stroke-width="1.5"/>
<text x="1179.5" y="1137.8" font-size="15.80" text-anchor="middle" letter-spacing="0.4">80</text>
<text x="1331.8" y="740.1" font-size="62.50">D</text>
<line x1="1786.1" y1="739.2" x2="1786.1" y2="1105" stroke="#000" stroke-width="1.2" stroke-dasharray="4.2 3.2"/>
<line x1="1491.8" y1="958.9" x2="1933.2" y2="958.9" stroke="#000" stroke-width="1.2" stroke-dasharray="4.2 3.2"/>
<polyline fill="none" stroke="#000" stroke-width="1.4" points="1491.8,960.4 1510.2,960.4 1528.6,960.7 1547.0,959.6 1565.4,959.3 1583.8,958.2 1602.2,958.9 1620.5,964.8 1638.9,975.7 1657.3,1008.6 1675.7,1016.0 1694.1,1016.0 1712.5,1010.1 1730.9,1002.1 1749.3,995.5 1767.7,988.2 1786.1,982.3 1804.5,973.5 1822.8,964.8 1841.2,961.1 1859.6,956.0 1878.0,950.1 1896.4,949.4 1914.8,944.3 1933.2,937.7"/>
<circle cx="1491.8" cy="960.4" r="5.2" fill="#000"/>
<circle cx="1510.2" cy="960.4" r="5.2" fill="#000"/>
<circle cx="1528.6" cy="960.7" r="5.2" fill="#000"/>
<circle cx="1547" cy="959.6" r="5.2" fill="#000"/>
<circle cx="1565.4" cy="959.3" r="5.2" fill="#000"/>
<circle cx="1583.8" cy="958.2" r="5.2" fill="#000"/>
<circle cx="1602.2" cy="958.9" r="5.2" fill="#000"/>
<circle cx="1620.5" cy="964.8" r="5.2" fill="#000"/>
<circle cx="1638.9" cy="975.7" r="5.2" fill="#000"/>
<circle cx="1657.3" cy="1008.6" r="5.2" fill="#000"/>
<circle cx="1675.7" cy="1016" r="5.2" fill="#000"/>
<circle cx="1694.1" cy="1016" r="5.2" fill="#000"/>
<circle cx="1712.5" cy="1010.1" r="5.2" fill="#000"/>
<circle cx="1730.9" cy="1002.1" r="5.2" fill="#000"/>
<circle cx="1749.3" cy="995.5" r="5.2" fill="#000"/>
<circle cx="1767.7" cy="988.2" r="5.2" fill="#000"/>
<circle cx="1786.1" cy="982.3" r="5.2" fill="#000"/>
<circle cx="1804.5" cy="973.5" r="5.2" fill="#000"/>
<circle cx="1822.8" cy="964.8" r="5.2" fill="#000"/>
<circle cx="1841.2" cy="961.1" r="5.2" fill="#000"/>
<circle cx="1859.6" cy="956" r="5.2" fill="#000"/>
<circle cx="1878" cy="950.1" r="5.2" fill="#000"/>
<circle cx="1896.4" cy="949.4" r="5.2" fill="#000"/>
<circle cx="1914.8" cy="944.3" r="5.2" fill="#000"/>
<circle cx="1933.2" cy="937.7" r="5.2" fill="#000"/>
<polyline fill="none" stroke="#000" stroke-width="1.4" points="1491.8,958.9 1510.2,959.6 1528.6,959.6 1547.0,958.9 1565.4,958.5 1583.8,958.2 1602.2,958.2 1620.5,957.4 1638.9,956.0 1657.3,953.0 1675.7,947.2 1694.1,939.9 1712.5,928.2 1730.9,909.9 1749.3,891.6 1767.7,876.2 1786.1,859.4 1804.5,844.8 1822.8,830.9 1841.2,819.9 1859.6,805.3 1878.0,794.3 1896.4,782.6 1914.8,770.9 1933.2,765.0"/>
<rect x="1486.8" y="953.9" width="10" height="10" fill="#000"/>
<rect x="1505.2" y="954.6" width="10" height="10" fill="#000"/>
<rect x="1523.6" y="954.6" width="10" height="10" fill="#000"/>
<rect x="1542" y="953.9" width="10" height="10" fill="#000"/>
<rect x="1560.4" y="953.5" width="10" height="10" fill="#000"/>
<rect x="1578.8" y="953.2" width="10" height="10" fill="#000"/>
<rect x="1597.2" y="953.2" width="10" height="10" fill="#000"/>
<rect x="1615.5" y="952.4" width="10" height="10" fill="#000"/>
<rect x="1633.9" y="951" width="10" height="10" fill="#000"/>
<rect x="1652.3" y="948" width="10" height="10" fill="#000"/>
<rect x="1670.7" y="942.2" width="10" height="10" fill="#000"/>
<rect x="1689.1" y="934.9" width="10" height="10" fill="#000"/>
<rect x="1707.5" y="923.2" width="10" height="10" fill="#000"/>
<rect x="1725.9" y="904.9" width="10" height="10" fill="#000"/>
<rect x="1744.3" y="886.6" width="10" height="10" fill="#000"/>
<rect x="1762.7" y="871.2" width="10" height="10" fill="#000"/>
<rect x="1781.1" y="854.4" width="10" height="10" fill="#000"/>
<rect x="1799.5" y="839.8" width="10" height="10" fill="#000"/>
<rect x="1817.8" y="825.9" width="10" height="10" fill="#000"/>
<rect x="1836.2" y="814.9" width="10" height="10" fill="#000"/>
<rect x="1854.6" y="800.3" width="10" height="10" fill="#000"/>
<rect x="1873" y="789.3" width="10" height="10" fill="#000"/>
<rect x="1891.4" y="777.6" width="10" height="10" fill="#000"/>
<rect x="1909.8" y="765.9" width="10" height="10" fill="#000"/>
<rect x="1928.2" y="760" width="10" height="10" fill="#000"/>
<polyline fill="none" stroke="#f70d0d" stroke-width="1.4" points="1491.8,960.4 1510.2,958.2 1528.6,958.9 1547.0,959.6 1565.4,958.9 1583.8,958.9 1602.2,980.1 1620.5,980.1 1638.9,985.2 1657.3,999.9 1675.7,1025.5 1694.1,1047.4 1712.5,1053.3 1730.9,1056.9 1749.3,1048.2 1767.7,1035.7 1786.1,1025.5 1804.5,1013.8 1822.8,998.4 1841.2,985.2 1859.6,969.9 1878.0,957.4 1896.4,945.7 1914.8,934.8 1933.2,923.1"/>
<circle cx="1491.8" cy="960.4" r="5.2" fill="#f70d0d"/>
<circle cx="1510.2" cy="958.2" r="5.2" fill="#f70d0d"/>
<circle cx="1528.6" cy="958.9" r="5.2" fill="#f70d0d"/>
<circle cx="1547" cy="959.6" r="5.2" fill="#f70d0d"/>
<circle cx="1565.4" cy="958.9" r="5.2" fill="#f70d0d"/>
<circle cx="1583.8" cy="958.9" r="5.2" fill="#f70d0d"/>
<circle cx="1602.2" cy="980.1" r="5.2" fill="#f70d0d"/>
<circle cx="1620.5" cy="980.1" r="5.2" fill="#f70d0d"/>
<circle cx="1638.9" cy="985.2" r="5.2" fill="#f70d0d"/>
<circle cx="1657.3" cy="999.9" r="5.2" fill="#f70d0d"/>
<circle cx="1675.7" cy="1025.5" r="5.2" fill="#f70d0d"/>
<circle cx="1694.1" cy="1047.4" r="5.2" fill="#f70d0d"/>
<circle cx="1712.5" cy="1053.3" r="5.2" fill="#f70d0d"/>
<circle cx="1730.9" cy="1056.9" r="5.2" fill="#f70d0d"/>
<circle cx="1749.3" cy="1048.2" r="5.2" fill="#f70d0d"/>
<circle cx="1767.7" cy="1035.7" r="5.2" fill="#f70d0d"/>
<circle cx="1786.1" cy="1025.5" r="5.2" fill="#f70d0d"/>
<circle cx="1804.5" cy="1013.8" r="5.2" fill="#f70d0d"/>
<circle cx="1822.8" cy="998.4" r="5.2" fill="#f70d0d"/>
<circle cx="1841.2" cy="985.2" r="5.2" fill="#f70d0d"/>
<circle cx="1859.6" cy="969.9" r="5.2" fill="#f70d0d"/>
<circle cx="1878" cy="957.4" r="5.2" fill="#f70d0d"/>
<circle cx="1896.4" cy="945.7" r="5.2" fill="#f70d0d"/>
<circle cx="1914.8" cy="934.8" r="5.2" fill="#f70d0d"/>
<circle cx="1933.2" cy="923.1" r="5.2" fill="#f70d0d"/>
<polyline fill="none" stroke="#f70d0d" stroke-width="1.4" points="1491.8,960.4 1510.2,957.4 1528.6,958.2 1547.0,958.9 1565.4,958.2 1583.8,958.2 1602.2,958.2 1620.5,957.4 1638.9,957.4 1657.3,954.5 1675.7,953.0 1694.1,948.7 1712.5,943.5 1730.9,929.6 1749.3,912.1 1767.7,885.0 1786.1,864.5 1804.5,840.4 1822.8,822.8 1841.2,808.2 1859.6,793.6 1878.0,781.9 1896.4,774.5 1914.8,765.0 1933.2,759.9"/>
<rect x="1486.8" y="955.4" width="10" height="10" fill="#f70d0d"/>
<rect x="1505.2" y="952.4" width="10" height="10" fill="#f70d0d"/>
<rect x="1523.6" y="953.2" width="10" height="10" fill="#f70d0d"/>
<rect x="1542" y="953.9" width="10" height="10" fill="#f70d0d"/>
<rect x="1560.4" y="953.2" width="10" height="10" fill="#f70d0d"/>
<rect x="1578.8" y="953.2" width="10" height="10" fill="#f70d0d"/>
<rect x="1597.2" y="953.2" width="10" height="10" fill="#f70d0d"/>
<rect x="1615.5" y="952.4" width="10" height="10" fill="#f70d0d"/>
<rect x="1633.9" y="952.4" width="10" height="10" fill="#f70d0d"/>
<rect x="1652.3" y="949.5" width="10" height="10" fill="#f70d0d"/>
<rect x="1670.7" y="948" width="10" height="10" fill="#f70d0d"/>
<rect x="1689.1" y="943.7" width="10" height="10" fill="#f70d0d"/>
<rect x="1707.5" y="938.5" width="10" height="10" fill="#f70d0d"/>
<rect x="1725.9" y="924.6" width="10" height="10" fill="#f70d0d"/>
<rect x="1744.3" y="907.1" width="10" height="10" fill="#f70d0d"/>
<rect x="1762.7" y="880" width="10" height="10" fill="#f70d0d"/>
<rect x="1781.1" y="859.5" width="10" height="10" fill="#f70d0d"/>
<rect x="1799.5" y="835.4" width="10" height="10" fill="#f70d0d"/>
<rect x="1817.8" y="817.8" width="10" height="10" fill="#f70d0d"/>
<rect x="1836.2" y="803.2" width="10" height="10" fill="#f70d0d"/>
<rect x="1854.6" y="788.6" width="10" height="10" fill="#f70d0d"/>
<rect x="1873" y="776.9" width="10" height="10" fill="#f70d0d"/>
<rect x="1891.4" y="769.5" width="10" height="10" fill="#f70d0d"/>
<rect x="1909.8" y="760" width="10" height="10" fill="#f70d0d"/>
<rect x="1928.2" y="754.9" width="10" height="10" fill="#f70d0d"/>
<line x1="1491.8" y1="737.7" x2="1491.8" y2="1106.5" stroke="#000" stroke-width="3"/>
<line x1="1490.3" y1="1105" x2="1934.7" y2="1105" stroke="#000" stroke-width="3"/>
<line x1="1477.6" y1="739.4" x2="1491.8" y2="739.4" stroke="#000" stroke-width="3"/>
<text x="1472.5" y="747.4" font-size="22.80" text-anchor="end">1.5</text>
<line x1="1477.6" y1="812.6" x2="1491.8" y2="812.6" stroke="#000" stroke-width="3"/>
<text x="1472.5" y="820.6" font-size="22.80" text-anchor="end">1.0</text>
<line x1="1477.6" y1="885.7" x2="1491.8" y2="885.7" stroke="#000" stroke-width="3"/>
<text x="1472.5" y="893.7" font-size="22.80" text-anchor="end">0.5</text>
<line x1="1477.6" y1="958.9" x2="1491.8" y2="958.9" stroke="#000" stroke-width="3"/>
<text x="1472.5" y="966.9" font-size="22.80" text-anchor="end">0.0</text>
<line x1="1477.6" y1="1032.1" x2="1491.8" y2="1032.1" stroke="#000" stroke-width="3"/>
<text x="1472.5" y="1040" font-size="22.80" text-anchor="end">-0.5</text>
<line x1="1477.6" y1="1105.2" x2="1491.8" y2="1105.2" stroke="#000" stroke-width="3"/>
<text x="1472.5" y="1113.2" font-size="22.80" text-anchor="end">-1.0</text>
<line x1="1491.8" y1="1105" x2="1491.8" y2="1115.5" stroke="#000" stroke-width="3"/>
<text x="1491.8" y="1140.8" font-size="22.80" text-anchor="middle">-80</text>
<line x1="1565.4" y1="1105" x2="1565.4" y2="1115.5" stroke="#000" stroke-width="3"/>
<text x="1565.4" y="1140.8" font-size="22.80" text-anchor="middle">-60</text>
<line x1="1638.9" y1="1105" x2="1638.9" y2="1115.5" stroke="#000" stroke-width="3"/>
<text x="1638.9" y="1140.8" font-size="22.80" text-anchor="middle">-40</text>
<line x1="1712.5" y1="1105" x2="1712.5" y2="1115.5" stroke="#000" stroke-width="3"/>
<text x="1712.5" y="1140.8" font-size="22.80" text-anchor="middle">-20</text>
<line x1="1786.1" y1="1105" x2="1786.1" y2="1115.5" stroke="#000" stroke-width="3"/>
<text x="1786.1" y="1140.8" font-size="22.80" text-anchor="middle">0</text>
<line x1="1859.6" y1="1105" x2="1859.6" y2="1115.5" stroke="#000" stroke-width="3"/>
<text x="1859.6" y="1140.8" font-size="22.80" text-anchor="middle">20</text>
<line x1="1933.2" y1="1105" x2="1933.2" y2="1115.5" stroke="#000" stroke-width="3"/>
<text x="1933.2" y="1140.8" font-size="22.80" text-anchor="middle">40</text>
<text transform="translate(1415.6 922.9) rotate(-90)" font-size="19.50" text-anchor="middle">Current (nA)</text>
<text x="1712.5" y="1176.5" font-size="23.90" text-anchor="middle">Vhold (mV)</text>
<line x1="1518.3" y1="787.8" x2="1554.7" y2="787.8" stroke="#f70d0d" stroke-width="1.4"/>
<rect x="1531.6" y="782.7" width="10.2" height="10.2" fill="#f70d0d"/>
<text transform="translate(1576 793.1) scale(1.000 1)" font-size="23.30" letter-spacing="0.45">I<tspan font-size="14.50" dy="5">K+</tspan><tspan dy="-5"> (5-HT)</tspan></text>
<line x1="1518.3" y1="822.1" x2="1554.7" y2="822.1" stroke="#f70d0d" stroke-width="1.4"/>
<circle cx="1536.7" cy="822.1" r="5.3" fill="#f70d0d"/>
<text transform="translate(1576 827.4) scale(1.000 1)" font-size="23.30" letter-spacing="0.45">I<tspan font-size="14.50" dy="5">Na+</tspan><tspan dy="-5"> (5-HT)</tspan></text>
<line x1="1518.3" y1="862" x2="1554.7" y2="862" stroke="#000" stroke-width="1.4"/>
<circle cx="1536.7" cy="862" r="5.3" fill="#000"/>
<text transform="translate(1576 867.3) scale(1.000 1)" font-size="23.30" letter-spacing="0.45">I<tspan font-size="14.50" dy="5">Na+</tspan><tspan dy="-5"></tspan></text>
<line x1="1518.3" y1="900" x2="1554.7" y2="900" stroke="#000" stroke-width="1.4"/>
<rect x="1531.6" y="894.9" width="10.2" height="10.2" fill="#000"/>
<text transform="translate(1576 905.3) scale(1.000 1)" font-size="23.30" letter-spacing="0.45">I<tspan font-size="14.50" dy="5">K+</tspan><tspan dy="-5"></tspan></text>
<text x="5.3" y="1317.9" font-size="62.50">E</text>
<rect x="174.8" y="1466.7" width="41.6" height="312" fill="#fee1e1"/>
<rect x="264.4" y="1465.7" width="41.3" height="313" fill="#fee1e1"/>
<rect x="349.8" y="1469.3" width="41.9" height="309.4" fill="#fee1e1"/>
<rect x="440.2" y="1466.7" width="42.8" height="312" fill="#fee1e1"/>
<text transform="translate(308.9 1339) scale(1.000 1)" font-size="30.50" text-anchor="middle">I<tspan font-size="22.20" dx="1.2" dy="6.1">Na</tspan><tspan dy="-6.1"> current density</tspan></text>
<text x="308.3" y="1378.5" font-size="30.50" text-anchor="middle">at 0mV</text>
<text transform="translate(51.2 1623.3) rotate(-90)" font-size="25.60" text-anchor="middle" font-weight="normal" letter-spacing="1.33" stroke="#000" stroke-width="0.5">Current density (pA/pF)</text>
<line x1="137.9" y1="1529.2" x2="491" y2="1529.2" stroke="#000" stroke-width="2.9" stroke-linecap="round" stroke-dasharray="0.01 10.1"/>
<path d="M155.1 1518.8h0M153.6 1525.4h0M157.0 1523.9h0M146.7 1530.3h0M152.2 1531.7h0M158.8 1529.5h0M164.9 1529.4h0M150.3 1539.3h0M155.5 1537.5h0M160.6 1537.5h0M146.9 1547.7h0M153.3 1549.2h0M159.1 1549.5h0M164.4 1547.2h0M152.2 1557.9h0M159.8 1559.3h0M152.7 1564.3h0M158.5 1563.8h0M155.4 1571.1h0M156.5 1578.8h0M157.2 1584.8h0M155.1 1592.0h0M156.1 1598.4h0M156.3 1607.3h0M155.1 1614.5h0" fill="none" stroke="#666666" stroke-width="10.6" stroke-linecap="round"/>
<path d="M195.0 1523.4l7 14h-14zM194.6 1530.0l7 14h-14zM190.7 1535.3l7 14h-14zM199.2 1535.3l7 14h-14zM191.0 1543.2l7 14h-14zM198.0 1543.5l7 14h-14zM187.8 1548.7l7 14h-14zM195.1 1549.3l7 14h-14zM201.5 1549.3l7 14h-14zM191.4 1557.1l7 14h-14zM197.9 1557.8l7 14h-14zM186.9 1564.0l7 14h-14zM195.1 1563.2l7 14h-14zM202.9 1564.0l7 14h-14zM192.0 1571.6l7 14h-14zM196.5 1569.6l7 14h-14zM189.7 1577.9l7 14h-14zM199.0 1576.6l7 14h-14zM191.9 1583.5l7 14h-14zM197.7 1584.3l7 14h-14zM193.0 1589.7l7 14h-14zM196.8 1590.4l7 14h-14zM196.0 1606.4l7 14h-14zM196.0 1623.0l7 14h-14zM196.0 1638.3l7 14h-14zM196.0 1645.4l7 14h-14z" fill="#666666"/>
<path d="M243.0 1507.9h0M240.0 1518.2h0M248.2 1517.9h0M239.7 1524.0h0M247.7 1523.3h0M240.8 1530.6h0M246.8 1529.9h0M236.1 1537.2h0M244.1 1537.8h0M251.1 1536.3h0M235.4 1542.5h0M240.9 1542.6h0M246.8 1542.9h0M251.7 1543.7h0M236.8 1549.9h0M243.2 1549.6h0M250.6 1549.6h0M239.7 1556.0h0M246.8 1555.5h0M240.8 1565.9h0M245.4 1566.8h0M244.3 1576.6h0M244.5 1596.8h0M243.2 1600.7h0" fill="none" stroke="#ff8000" stroke-width="10.6" stroke-linecap="round"/>
<path d="M281.8 1519.9l7 14h-14zM284.8 1520.5l7 14h-14zM279.1 1526.9l7 14h-14zM286.7 1525.9l7 14h-14zM277.8 1533.8l7 14h-14zM283.8 1534.6l7 14h-14zM289.0 1533.3l7 14h-14zM280.3 1539.9l7 14h-14zM285.9 1540.9l7 14h-14zM277.0 1546.9l7 14h-14zM282.7 1546.0l7 14h-14zM290.3 1547.6l7 14h-14zM279.9 1556.6l7 14h-14zM286.3 1554.5l7 14h-14zM279.3 1564.1l7 14h-14zM286.5 1564.4l7 14h-14zM278.5 1572.7l7 14h-14zM287.1 1571.8l7 14h-14zM278.8 1580.6l7 14h-14zM287.9 1580.4l7 14h-14zM279.5 1586.3l7 14h-14zM286.4 1588.1l7 14h-14zM283.5 1595.9l7 14h-14zM283.0 1602.4l7 14h-14zM283.7 1611.1l7 14h-14zM283.6 1619.1l7 14h-14zM283.7 1628.7l7 14h-14zM283.3 1657.4l7 14h-14z" fill="#ff8000"/>
<path d="M332.9 1514.9h0M330.0 1519.6h0M335.4 1518.8h0M327.9 1525.1h0M332.9 1524.8h0M337.1 1525.0h0M327.2 1536.0h0M332.2 1535.2h0M337.5 1534.9h0M324.6 1542.6h0M333.0 1541.0h0M339.7 1542.7h0M324.1 1548.5h0M329.2 1548.3h0M334.8 1548.0h0M341.1 1548.8h0M324.6 1559.4h0M332.6 1558.7h0M339.7 1559.2h0M330.8 1569.6h0M334.6 1569.7h0M332.8 1577.1h0M332.6 1584.8h0" fill="none" stroke="#666666" stroke-width="10.6" stroke-linecap="round"/>
<path d="M371.3 1512.9l7 14h-14zM370.9 1518.0l7 14h-14zM370.7 1527.2l7 14h-14zM369.4 1533.3l7 14h-14zM373.6 1531.6l7 14h-14zM367.8 1537.9l7 14h-14zM374.4 1539.7l7 14h-14zM370.1 1544.8l7 14h-14zM373.3 1545.2l7 14h-14zM363.5 1550.8l7 14h-14zM370.8 1552.1l7 14h-14zM379.1 1552.1l7 14h-14zM367.7 1556.9l7 14h-14zM375.6 1558.9l7 14h-14zM363.7 1565.1l7 14h-14zM370.9 1565.2l7 14h-14zM378.1 1564.0l7 14h-14zM369.2 1569.6l7 14h-14zM373.0 1570.2l7 14h-14zM365.8 1576.3l7 14h-14zM371.2 1576.0l7 14h-14zM376.3 1576.1l7 14h-14zM369.1 1585.2l7 14h-14zM374.4 1585.7l7 14h-14zM369.3 1592.6l7 14h-14zM373.4 1593.4l7 14h-14zM369.4 1601.0l7 14h-14zM373.3 1599.2l7 14h-14zM369.1 1608.7l7 14h-14zM373.0 1607.9l7 14h-14zM371.6 1615.7l7 14h-14zM371.9 1623.4l7 14h-14zM371.0 1628.6l7 14h-14zM371.1 1635.1l7 14h-14zM371.5 1643.6l7 14h-14zM371.2 1649.9l7 14h-14zM371.2 1656.3l7 14h-14zM371.3 1693.2l7 14h-14z" fill="#666666"/>
<path d="M419.0 1520.2h0M415.8 1527.9h0M424.6 1527.0h0M410.9 1535.7h0M417.0 1536.3h0M423.0 1534.5h0M428.6 1535.0h0M411.2 1545.7h0M416.4 1545.0h0M423.3 1546.1h0M428.6 1545.6h0M411.9 1551.7h0M416.5 1551.1h0M422.7 1553.2h0M428.3 1552.7h0M415.7 1558.5h0M424.1 1558.7h0M413.6 1565.6h0M419.7 1566.0h0M426.7 1564.2h0M414.0 1570.4h0M419.6 1570.7h0M426.1 1570.3h0M413.3 1577.1h0M419.5 1578.2h0M426.1 1578.3h0M413.2 1583.2h0M419.8 1584.2h0M425.3 1583.1h0M413.2 1590.0h0M419.6 1589.6h0M426.2 1591.1h0M411.2 1596.9h0M416.7 1597.8h0M422.3 1596.2h0M428.4 1596.8h0M413.6 1604.0h0M419.8 1603.7h0M426.0 1604.0h0M415.6 1608.9h0M423.7 1608.5h0M417.0 1616.9h0M422.7 1616.4h0M419.9 1621.3h0M419.5 1630.7h0M419.9 1637.4h0" fill="none" stroke="#f64040" stroke-width="10.6" stroke-linecap="round"/>
<path d="M458.6 1521.2l7 14h-14zM459.4 1530.0l7 14h-14zM458.8 1536.9l7 14h-14zM458.3 1544.1l7 14h-14zM456.5 1552.5l7 14h-14zM461.0 1552.0l7 14h-14zM457.5 1557.3l7 14h-14zM460.8 1557.5l7 14h-14zM452.7 1564.8l7 14h-14zM458.7 1563.7l7 14h-14zM464.8 1563.5l7 14h-14zM451.5 1571.6l7 14h-14zM458.8 1569.6l7 14h-14zM466.6 1570.2l7 14h-14zM452.3 1576.5l7 14h-14zM458.6 1578.2l7 14h-14zM465.8 1576.9l7 14h-14zM456.4 1584.0l7 14h-14zM461.6 1584.6l7 14h-14zM453.7 1591.9l7 14h-14zM463.8 1593.4l7 14h-14zM455.0 1602.3l7 14h-14zM463.3 1603.1l7 14h-14zM455.8 1608.5l7 14h-14zM461.4 1608.7l7 14h-14zM456.6 1615.9l7 14h-14zM461.1 1616.2l7 14h-14zM459.7 1622.3l7 14h-14zM457.5 1627.4l7 14h-14zM458.9 1636.9l7 14h-14zM458.4 1642.6l7 14h-14zM458.8 1649.2l7 14h-14zM458.7 1657.3l7 14h-14zM459.3 1668.9l7 14h-14zM459.3 1672.7l7 14h-14zM459.3 1723.8l7 14h-14z" fill="#f64040"/>
<line x1="141.7" y1="1550.9" x2="169.7" y2="1550.9" stroke="#000" stroke-width="3.2"/>
<line x1="148.7" y1="1546.6" x2="162.7" y2="1546.6" stroke="#000" stroke-width="3.2"/>
<line x1="148.7" y1="1555.3" x2="162.7" y2="1555.3" stroke="#000" stroke-width="3.2"/>
<line x1="155.7" y1="1546.6" x2="155.7" y2="1555.3" stroke="#000" stroke-width="2.6"/>
<line x1="180.7" y1="1571.3" x2="208.7" y2="1571.3" stroke="#000" stroke-width="3.2"/>
<line x1="187.7" y1="1566.2" x2="201.7" y2="1566.2" stroke="#000" stroke-width="3.2"/>
<line x1="187.7" y1="1576.4" x2="201.7" y2="1576.4" stroke="#000" stroke-width="3.2"/>
<line x1="194.7" y1="1566.2" x2="194.7" y2="1576.4" stroke="#000" stroke-width="2.6"/>
<line x1="229.7" y1="1541.2" x2="257.7" y2="1541.2" stroke="#000" stroke-width="3.2"/>
<line x1="236.7" y1="1537.1" x2="250.7" y2="1537.1" stroke="#000" stroke-width="3.2"/>
<line x1="236.7" y1="1545.3" x2="250.7" y2="1545.3" stroke="#000" stroke-width="3.2"/>
<line x1="243.7" y1="1537.1" x2="243.7" y2="1545.3" stroke="#000" stroke-width="2.6"/>
<line x1="269.3" y1="1572.6" x2="297.3" y2="1572.6" stroke="#000" stroke-width="3.2"/>
<line x1="276.3" y1="1566.7" x2="290.3" y2="1566.7" stroke="#000" stroke-width="3.2"/>
<line x1="276.3" y1="1578.5" x2="290.3" y2="1578.5" stroke="#000" stroke-width="3.2"/>
<line x1="283.3" y1="1566.7" x2="283.3" y2="1578.5" stroke="#000" stroke-width="2.6"/>
<line x1="318.5" y1="1543.5" x2="346.5" y2="1543.5" stroke="#000" stroke-width="3.2"/>
<line x1="325.5" y1="1540.5" x2="339.5" y2="1540.5" stroke="#000" stroke-width="3.2"/>
<line x1="325.5" y1="1546.6" x2="339.5" y2="1546.6" stroke="#000" stroke-width="3.2"/>
<line x1="332.5" y1="1540.5" x2="332.5" y2="1546.6" stroke="#000" stroke-width="2.6"/>
<line x1="357.3" y1="1577.2" x2="385.3" y2="1577.2" stroke="#000" stroke-width="3.2"/>
<line x1="364.3" y1="1571.6" x2="378.3" y2="1571.6" stroke="#000" stroke-width="3.2"/>
<line x1="364.3" y1="1582.8" x2="378.3" y2="1582.8" stroke="#000" stroke-width="3.2"/>
<line x1="371.3" y1="1571.6" x2="371.3" y2="1582.8" stroke="#000" stroke-width="2.6"/>
<line x1="405.7" y1="1568.3" x2="433.7" y2="1568.3" stroke="#000" stroke-width="3.2"/>
<line x1="412.7" y1="1563.7" x2="426.7" y2="1563.7" stroke="#000" stroke-width="3.2"/>
<line x1="412.7" y1="1572.9" x2="426.7" y2="1572.9" stroke="#000" stroke-width="3.2"/>
<line x1="419.7" y1="1563.7" x2="419.7" y2="1572.9" stroke="#000" stroke-width="2.6"/>
<line x1="444.8" y1="1602.4" x2="472.8" y2="1602.4" stroke="#000" stroke-width="3.2"/>
<line x1="451.8" y1="1596.3" x2="465.8" y2="1596.3" stroke="#000" stroke-width="3.2"/>
<line x1="451.8" y1="1608.6" x2="465.8" y2="1608.6" stroke="#000" stroke-width="3.2"/>
<line x1="458.8" y1="1596.3" x2="458.8" y2="1608.6" stroke="#000" stroke-width="2.6"/>
<line x1="128.2" y1="1465.2" x2="128.2" y2="1780.2" stroke="#000" stroke-width="3"/>
<line x1="126.7" y1="1778.7" x2="490.7" y2="1778.7" stroke="#000" stroke-width="3"/>
<line x1="118.8" y1="1466.7" x2="128.2" y2="1466.7" stroke="#000" stroke-width="3"/>
<text x="114.2" y="1475.1" font-size="24.00" text-anchor="end">50</text>
<line x1="118.8" y1="1529.2" x2="128.2" y2="1529.2" stroke="#000" stroke-width="3"/>
<text x="114.2" y="1537.6" font-size="24.00" text-anchor="end">0</text>
<line x1="118.8" y1="1591.7" x2="128.2" y2="1591.7" stroke="#000" stroke-width="3"/>
<text x="114.2" y="1600.1" font-size="24.00" text-anchor="end">-50</text>
<line x1="118.8" y1="1654.2" x2="128.2" y2="1654.2" stroke="#000" stroke-width="3"/>
<text x="114.2" y="1662.6" font-size="24.00" text-anchor="end">-100</text>
<line x1="118.8" y1="1716.7" x2="128.2" y2="1716.7" stroke="#000" stroke-width="3"/>
<text x="114.2" y="1725.1" font-size="24.00" text-anchor="end">-150</text>
<line x1="118.8" y1="1778.7" x2="128.2" y2="1778.7" stroke="#000" stroke-width="3"/>
<text x="114.2" y="1787.1" font-size="24.00" text-anchor="end">-200</text>
<line x1="155.7" y1="1778.7" x2="155.7" y2="1788.7" stroke="#000" stroke-width="3"/>
<line x1="194.7" y1="1778.7" x2="194.7" y2="1788.7" stroke="#000" stroke-width="3"/>
<line x1="243.7" y1="1778.7" x2="243.7" y2="1788.7" stroke="#000" stroke-width="3"/>
<line x1="283.3" y1="1778.7" x2="283.3" y2="1788.7" stroke="#000" stroke-width="3"/>
<line x1="331.7" y1="1778.7" x2="331.7" y2="1788.7" stroke="#000" stroke-width="3"/>
<line x1="370.8" y1="1778.7" x2="370.8" y2="1788.7" stroke="#000" stroke-width="3"/>
<line x1="419.7" y1="1778.7" x2="419.7" y2="1788.7" stroke="#000" stroke-width="3"/>
<line x1="458.8" y1="1778.7" x2="458.8" y2="1788.7" stroke="#000" stroke-width="3"/>
<text transform="translate(164.7 1809.7) rotate(-45)" font-size="24.30" text-anchor="end">Ctl 17</text>
<text transform="translate(203.7 1809.7) rotate(-45)" font-size="24.30" text-anchor="end">Ctl 17+5-HT</text>
<text transform="translate(252.7 1809.7) rotate(-45)" font-size="24.30" text-anchor="end">Non-R</text>
<text transform="translate(292.3 1809.7) rotate(-45)" font-size="24.30" text-anchor="end">Non-R+5-HT</text>
<text transform="translate(338.6 1811.8) rotate(-45)" font-size="24.30" text-anchor="end">Ctl 18</text>
<text transform="translate(379.8 1809.7) rotate(-45)" font-size="24.30" text-anchor="end">Ctl 18+5-HT</text>
<text transform="translate(423.5 1814.9) rotate(-45)" font-size="24.30" text-anchor="end">Mito</text>
<text transform="translate(467.8 1809.7) rotate(-45)" font-size="24.30" text-anchor="end">Mito+5-HT</text>
<line x1="157" y1="1490.5" x2="195.3" y2="1490.5" stroke="#000" stroke-width="3"/>
<text x="177.5" y="1487.1" font-size="26.20" text-anchor="middle" font-family='"DejaVu Sans", "Liberation Sans", sans-serif' letter-spacing="3.6" stroke="#000" stroke-width="1.7" stroke-linejoin="round">*</text>
<line x1="245" y1="1490.5" x2="282.8" y2="1490.5" stroke="#000" stroke-width="3"/>
<text x="265.2" y="1487.1" font-size="26.20" text-anchor="middle" font-family='"DejaVu Sans", "Liberation Sans", sans-serif' letter-spacing="3.6" stroke="#000" stroke-width="1.7" stroke-linejoin="round">***</text>
<line x1="333.3" y1="1490.5" x2="371.3" y2="1490.5" stroke="#000" stroke-width="3"/>
<text x="353.6" y="1487.1" font-size="26.20" text-anchor="middle" font-family='"DejaVu Sans", "Liberation Sans", sans-serif' letter-spacing="3.6" stroke="#000" stroke-width="1.7" stroke-linejoin="round">****</text>
<line x1="420.5" y1="1490.5" x2="459.3" y2="1490.5" stroke="#000" stroke-width="3"/>
<text x="441.2" y="1487.1" font-size="26.20" text-anchor="middle" font-family='"DejaVu Sans", "Liberation Sans", sans-serif' letter-spacing="3.6" stroke="#000" stroke-width="1.7" stroke-linejoin="round">****</text>
<line x1="333.3" y1="1452.4" x2="420" y2="1452.4" stroke="#000" stroke-width="3"/>
<text x="377.9" y="1449" font-size="26.20" text-anchor="middle" font-family='"DejaVu Sans", "Liberation Sans", sans-serif' letter-spacing="3.6" stroke="#000" stroke-width="1.7" stroke-linejoin="round">***</text>
<line x1="372" y1="1414.7" x2="458.8" y2="1414.7" stroke="#000" stroke-width="3"/>
<text x="416.7" y="1411.3" font-size="26.20" text-anchor="middle" font-family='"DejaVu Sans", "Liberation Sans", sans-serif' letter-spacing="3.6" stroke="#000" stroke-width="1.7" stroke-linejoin="round">***</text>
<text transform="translate(777 1339) scale(1.000 1)" font-size="30.50" text-anchor="middle">I<tspan font-size="22.20" dx="1.2" dy="6.1">Na</tspan><tspan dy="-6.1"> current density</tspan></text>
<text x="775.8" y="1378.5" font-size="30.50" text-anchor="middle">at 0mV</text>
<text transform="translate(602.2 1622) rotate(-90)" font-size="25.60" text-anchor="middle" font-weight="normal" letter-spacing="1.33" stroke="#000" stroke-width="0.5">Current density (pA/pF)</text>
<line x1="693.9" y1="1528.4" x2="869" y2="1528.4" stroke="#000" stroke-width="2.9" stroke-linecap="round" stroke-dasharray="0.01 10.1"/>
<path d="M721.3 1531.8h0M716.6 1538.9h0M727.4 1540.2h0M707.4 1544.1h0M717.9 1546.6h0M727.4 1544.5h0M735.9 1544.1h0M708.4 1550.6h0M718.1 1553.5h0M725.8 1550.6h0M735.0 1550.7h0M708.5 1557.4h0M716.7 1559.5h0M725.5 1556.9h0M733.3 1559.1h0M714.6 1566.0h0M722.4 1566.3h0M729.3 1566.0h0M712.9 1575.7h0M721.6 1576.9h0M730.8 1575.6h0M718.1 1581.0h0M724.8 1581.8h0M717.7 1587.5h0M724.1 1590.7h0M710.0 1600.4h0M718.9 1600.3h0M726.5 1599.4h0M733.8 1599.9h0M717.3 1611.5h0M726.3 1611.8h0M719.4 1619.5h0M723.7 1618.6h0M722.5 1627.3h0" fill="none" stroke="#848484" stroke-width="10.8" stroke-linecap="round"/>
<path d="M779.8 1532.9h0M771.1 1538.5h0M778.3 1539.2h0M786.7 1538.2h0M766.2 1545.7h0M773.9 1547.2h0M784.5 1545.4h0M793.4 1546.9h0M775.2 1554.1h0M783.5 1557.1h0M776.9 1564.3h0M782.4 1563.4h0M774.7 1574.9h0M785.7 1575.6h0M772.2 1586.1h0M778.1 1587.1h0M787.8 1585.7h0M771.0 1594.5h0M780.2 1592.2h0M788.2 1593.9h0M767.9 1602.0h0M778.2 1601.9h0M789.7 1599.4h0M773.1 1610.4h0M785.7 1613.1h0M773.0 1620.4h0M784.0 1621.2h0M778.4 1632.2h0M776.7 1638.6h0M781.4 1638.2h0M778.3 1643.8h0M778.4 1651.1h0M779.2 1668.2h0" fill="none" stroke="#646464" stroke-width="10.8" stroke-linecap="round"/>
<path d="M823.3 1544.6h0M830.6 1542.8h0M840.5 1542.4h0M826.4 1543.9h0M834.9 1544.7h0M819.3 1561.9h0M832.0 1560.9h0M841.7 1558.5h0M823.9 1570.7h0M830.9 1570.2h0M837.9 1569.5h0M824.3 1577.4h0M837.9 1578.1h0M825.4 1589.1h0M836.4 1588.8h0M823.8 1595.3h0M831.5 1594.5h0M840.0 1595.3h0M825.8 1603.0h0M837.4 1602.9h0M831.2 1612.0h0M821.4 1632.6h0M830.1 1630.7h0M840.4 1632.0h0M827.0 1630.2h0M836.3 1632.1h0M828.1 1693.1h0M833.7 1693.1h0M831.5 1721.6h0M831.0 1727.1h0M831.5 1750.9h0M831.0 1649.2h0M827.0 1650.4h0" fill="none" stroke="#363636" stroke-width="10.8" stroke-linecap="round"/>
<line x1="702.8" y1="1572.5" x2="740.8" y2="1572.5" stroke="#000" stroke-width="3.2"/>
<line x1="712.3" y1="1568" x2="731.3" y2="1568" stroke="#000" stroke-width="3.2"/>
<line x1="712.3" y1="1576.9" x2="731.3" y2="1576.9" stroke="#000" stroke-width="3.2"/>
<line x1="721.8" y1="1568" x2="721.8" y2="1576.9" stroke="#000" stroke-width="2.6"/>
<line x1="760.2" y1="1588.7" x2="798.2" y2="1588.7" stroke="#000" stroke-width="3.2"/>
<line x1="769.7" y1="1584.3" x2="788.7" y2="1584.3" stroke="#000" stroke-width="3.2"/>
<line x1="769.7" y1="1593.2" x2="788.7" y2="1593.2" stroke="#000" stroke-width="3.2"/>
<line x1="779.2" y1="1584.3" x2="779.2" y2="1593.2" stroke="#000" stroke-width="2.6"/>
<line x1="812" y1="1602.5" x2="850" y2="1602.5" stroke="#000" stroke-width="3.2"/>
<line x1="821.5" y1="1595.8" x2="840.5" y2="1595.8" stroke="#000" stroke-width="3.2"/>
<line x1="821.5" y1="1609.2" x2="840.5" y2="1609.2" stroke="#000" stroke-width="3.2"/>
<line x1="831" y1="1595.8" x2="831" y2="1609.2" stroke="#000" stroke-width="2.6"/>
<line x1="684.3" y1="1464.3" x2="684.3" y2="1779.3" stroke="#000" stroke-width="3"/>
<line x1="682.8" y1="1777.8" x2="872.6" y2="1777.8" stroke="#000" stroke-width="3"/>
<line x1="670.9" y1="1465.8" x2="684.3" y2="1465.8" stroke="#000" stroke-width="3"/>
<text x="666.7" y="1474.2" font-size="24.00" text-anchor="end">50</text>
<line x1="670.9" y1="1528.4" x2="684.3" y2="1528.4" stroke="#000" stroke-width="3"/>
<text x="666.7" y="1536.8" font-size="24.00" text-anchor="end">0</text>
<line x1="670.9" y1="1590.9" x2="684.3" y2="1590.9" stroke="#000" stroke-width="3"/>
<text x="666.7" y="1599.3" font-size="24.00" text-anchor="end">-50</text>
<line x1="670.9" y1="1653.2" x2="684.3" y2="1653.2" stroke="#000" stroke-width="3"/>
<text x="666.7" y="1661.6" font-size="24.00" text-anchor="end">-100</text>
<line x1="670.9" y1="1715.5" x2="684.3" y2="1715.5" stroke="#000" stroke-width="3"/>
<text x="666.7" y="1723.9" font-size="24.00" text-anchor="end">-150</text>
<line x1="670.9" y1="1777.8" x2="684.3" y2="1777.8" stroke="#000" stroke-width="3"/>
<text x="666.7" y="1786.2" font-size="24.00" text-anchor="end">-200</text>
<line x1="721.8" y1="1777.8" x2="721.8" y2="1787.8" stroke="#000" stroke-width="3"/>
<line x1="779.2" y1="1777.8" x2="779.2" y2="1787.8" stroke="#000" stroke-width="3"/>
<line x1="831" y1="1777.8" x2="831" y2="1787.8" stroke="#000" stroke-width="3"/>
<text transform="translate(729 1808.8) rotate(-45)" font-size="24.30" text-anchor="end">DMSO</text>
<text transform="translate(786.4 1808.8) rotate(-45)" font-size="24.30" text-anchor="end">5-HT+DMSO</text>
<text transform="translate(838.2 1808.8) rotate(-45)" font-size="24.30" text-anchor="end">5-HT+M100907</text>
<line x1="722.4" y1="1434.5" x2="831" y2="1434.5" stroke="#000" stroke-width="3"/>
<text x="778" y="1431.1" font-size="26.20" text-anchor="middle" font-family='"DejaVu Sans", "Liberation Sans", sans-serif' letter-spacing="3.6" stroke="#000" stroke-width="1.7" stroke-linejoin="round">***</text>
<line x1="722.4" y1="1494.6" x2="773.2" y2="1494.6" stroke="#000" stroke-width="3"/>
<text x="749.1" y="1491.2" font-size="26.20" text-anchor="middle" font-family='"DejaVu Sans", "Liberation Sans", sans-serif' letter-spacing="3.6" stroke="#000" stroke-width="1.7" stroke-linejoin="round">*</text>
<line x1="786.3" y1="1494.6" x2="831" y2="1494.6" stroke="#000" stroke-width="3"/>
<text x="809.9" y="1491.2" font-size="26.20" text-anchor="middle" font-family='"DejaVu Sans", "Liberation Sans", sans-serif' letter-spacing="3.6" stroke="#000" stroke-width="1.7" stroke-linejoin="round">*</text>
<text x="1086.8" y="1317.5" font-size="62.50">F</text>
<rect x="1252.3" y="1466.2" width="42.1" height="311.8" fill="#fee1e1"/>
<rect x="1343.1" y="1465.5" width="42.1" height="312.5" fill="#fee1e1"/>
<rect x="1429.1" y="1469.3" width="42.1" height="308.7" fill="#fee1e1"/>
<rect x="1519.1" y="1466.2" width="43.4" height="311.8" fill="#fee1e1"/>
<text transform="translate(1387.8 1339) scale(1.000 1)" font-size="30.50" text-anchor="middle">I<tspan font-size="22.20" dx="1.2" dy="6.1">K</tspan><tspan dy="-6.1"> current density</tspan></text>
<text x="1386.8" y="1378.5" font-size="30.50" text-anchor="middle">at +20mV</text>
<text transform="translate(1139.6 1621.7) rotate(-90)" font-size="25.60" text-anchor="middle" font-weight="normal" letter-spacing="1.33" stroke="#000" stroke-width="0.5">Current density (pA/pF)</text>
<path d="M1235.3 1642.0h0M1234.0 1649.3h0M1237.7 1648.9h0M1233.2 1655.9h0M1238.7 1656.3h0M1232.4 1662.4h0M1238.2 1661.1h0M1232.0 1668.9h0M1239.0 1667.1h0M1232.7 1675.2h0M1238.8 1675.2h0M1234.0 1682.0h0M1237.2 1681.5h0M1230.9 1687.7h0M1239.7 1687.7h0M1231.7 1693.3h0M1240.6 1692.9h0M1232.7 1701.2h0M1239.0 1700.3h0M1228.9 1709.7h0M1236.0 1709.2h0M1242.4 1710.0h0M1230.1 1716.3h0M1235.2 1716.4h0M1240.3 1716.1h0M1227.9 1722.2h0M1235.3 1722.4h0M1244.1 1722.1h0M1230.2 1728.8h0M1235.4 1728.6h0M1241.7 1728.0h0M1232.7 1733.9h0M1239.0 1735.0h0M1234.1 1741.4h0M1237.6 1740.0h0M1236.4 1746.6h0M1235.7 1629.5h0M1235.7 1760.6h0" fill="none" stroke="#666666" stroke-width="10.6" stroke-linecap="round"/>
<path d="M1270.1 1572.5l7 14h-14zM1277.9 1573.7l7 14h-14zM1273.8 1580.4l7 14h-14zM1274.2 1586.6l7 14h-14zM1273.3 1596.1l7 14h-14zM1271.4 1602.6l7 14h-14zM1277.9 1603.7l7 14h-14zM1271.8 1610.5l7 14h-14zM1277.0 1611.3l7 14h-14zM1272.4 1617.1l7 14h-14zM1276.8 1618.4l7 14h-14zM1269.7 1625.8l7 14h-14zM1278.8 1625.2l7 14h-14zM1268.9 1632.4l7 14h-14zM1275.0 1634.1l7 14h-14zM1280.3 1633.5l7 14h-14zM1267.2 1641.6l7 14h-14zM1274.6 1641.3l7 14h-14zM1281.3 1640.2l7 14h-14zM1267.6 1648.4l7 14h-14zM1274.2 1647.5l7 14h-14zM1281.1 1648.5l7 14h-14zM1266.7 1657.9l7 14h-14zM1274.9 1656.3l7 14h-14zM1282.0 1658.1l7 14h-14zM1269.6 1665.6l7 14h-14zM1274.3 1667.2l7 14h-14zM1279.5 1665.7l7 14h-14zM1269.5 1672.8l7 14h-14zM1279.2 1671.6l7 14h-14zM1265.2 1678.8l7 14h-14zM1270.9 1678.4l7 14h-14zM1277.8 1679.2l7 14h-14zM1283.8 1679.3l7 14h-14zM1269.5 1686.0l7 14h-14zM1274.8 1686.7l7 14h-14zM1279.2 1687.4l7 14h-14zM1266.8 1694.2l7 14h-14zM1271.7 1693.4l7 14h-14zM1277.4 1695.2l7 14h-14zM1282.1 1695.6l7 14h-14zM1267.0 1701.8l7 14h-14zM1274.8 1701.7l7 14h-14zM1281.4 1703.0l7 14h-14zM1268.9 1708.0l7 14h-14zM1274.0 1709.4l7 14h-14zM1280.1 1708.0l7 14h-14zM1273.2 1715.7l7 14h-14zM1276.9 1715.3l7 14h-14zM1269.9 1723.3l7 14h-14zM1275.0 1723.2l7 14h-14zM1279.3 1722.1l7 14h-14zM1271.0 1730.2l7 14h-14zM1278.4 1731.1l7 14h-14zM1270.4 1736.6l7 14h-14zM1278.5 1736.0l7 14h-14zM1271.5 1743.6l7 14h-14zM1277.7 1743.5l7 14h-14zM1272.2 1752.6l7 14h-14zM1276.6 1752.5l7 14h-14zM1276.0 1515.9l7 14h-14zM1272.2 1520.4l7 14h-14zM1274.7 1535.8l7 14h-14zM1274.7 1549.0l7 14h-14z" fill="#666666"/>
<path d="M1323.1 1607.3h0M1322.3 1615.1h0M1325.5 1615.4h0M1320.5 1621.7h0M1326.5 1623.4h0M1321.2 1630.4h0M1326.8 1628.9h0M1319.8 1636.9h0M1327.2 1637.5h0M1319.5 1646.2h0M1328.6 1645.6h0M1318.4 1652.0h0M1323.9 1653.9h0M1329.3 1653.9h0M1322.0 1661.7h0M1326.4 1661.3h0M1318.9 1666.8h0M1323.8 1666.4h0M1329.1 1665.9h0M1318.8 1674.3h0M1328.7 1674.2h0M1315.6 1681.3h0M1323.7 1681.2h0M1331.5 1681.1h0M1318.8 1688.1h0M1323.5 1686.4h0M1328.5 1686.4h0M1314.5 1692.8h0M1320.8 1694.5h0M1326.2 1693.2h0M1332.8 1694.5h0M1315.3 1702.3h0M1324.3 1701.5h0M1331.3 1702.7h0M1318.3 1712.0h0M1324.2 1710.7h0M1329.6 1712.8h0M1319.6 1721.4h0M1328.0 1722.9h0M1316.8 1727.6h0M1323.7 1727.5h0M1330.4 1727.2h0M1319.3 1734.2h0M1328.0 1734.3h0M1324.0 1573.9h0M1323.7 1745.3h0" fill="none" stroke="#ff8000" stroke-width="10.6" stroke-linecap="round"/>
<path d="M1361.5 1573.6l7 14h-14zM1361.7 1580.8l7 14h-14zM1362.9 1588.0l7 14h-14zM1361.6 1594.6l7 14h-14zM1361.7 1602.0l7 14h-14zM1361.7 1611.3l7 14h-14zM1362.6 1618.0l7 14h-14zM1359.3 1627.8l7 14h-14zM1365.0 1627.1l7 14h-14zM1357.2 1635.6l7 14h-14zM1366.0 1635.5l7 14h-14zM1356.3 1644.5l7 14h-14zM1361.9 1645.5l7 14h-14zM1366.8 1645.8l7 14h-14zM1355.4 1653.4l7 14h-14zM1362.5 1653.5l7 14h-14zM1368.6 1654.4l7 14h-14zM1355.6 1658.9l7 14h-14zM1362.2 1659.6l7 14h-14zM1368.2 1660.8l7 14h-14zM1355.9 1666.3l7 14h-14zM1362.0 1666.2l7 14h-14zM1367.6 1667.4l7 14h-14zM1357.2 1675.9l7 14h-14zM1366.7 1674.7l7 14h-14zM1359.1 1683.4l7 14h-14zM1364.7 1683.1l7 14h-14zM1359.3 1691.3l7 14h-14zM1365.2 1689.9l7 14h-14zM1359.8 1697.2l7 14h-14zM1364.0 1697.5l7 14h-14zM1360.6 1704.8l7 14h-14zM1361.8 1711.2l7 14h-14zM1359.9 1717.1l7 14h-14zM1364.3 1718.7l7 14h-14zM1359.9 1725.0l7 14h-14zM1364.8 1724.8l7 14h-14zM1359.5 1731.0l7 14h-14zM1364.1 1732.3l7 14h-14zM1360.1 1739.2l7 14h-14zM1363.7 1739.7l7 14h-14zM1359.8 1746.1l7 14h-14zM1364.1 1744.7l7 14h-14zM1362.0 1496.0l7 14h-14zM1362.8 1502.6l7 14h-14zM1362.8 1519.7l7 14h-14z" fill="#ff8000"/>
<path d="M1409.8 1632.7h0M1410.4 1641.9h0M1410.5 1648.7h0M1411.8 1654.6h0M1411.1 1662.5h0M1410.2 1669.7h0M1411.4 1679.7h0M1409.2 1687.1h0M1412.4 1686.6h0M1403.3 1694.7h0M1408.7 1694.8h0M1414.1 1694.4h0M1419.4 1693.0h0M1406.3 1700.4h0M1411.2 1700.4h0M1416.6 1700.9h0M1401.8 1709.1h0M1408.5 1709.9h0M1414.4 1708.0h0M1420.0 1709.4h0M1401.8 1716.1h0M1408.3 1716.1h0M1414.7 1716.5h0M1420.2 1715.3h0M1403.3 1722.5h0M1411.4 1721.9h0M1419.7 1722.7h0M1407.4 1729.7h0M1414.2 1728.3h0M1408.4 1737.6h0M1414.4 1737.7h0M1407.3 1745.3h0M1415.7 1744.4h0M1405.8 1753.1h0M1410.9 1753.4h0M1417.2 1753.3h0M1407.8 1759.5h0M1414.9 1759.6h0M1412.0 1765.4h0M1411.7 1602.4h0M1411.2 1608.3h0" fill="none" stroke="#666666" stroke-width="10.6" stroke-linecap="round"/>
<path d="M1446.2 1573.5l7 14h-14zM1454.1 1572.8l7 14h-14zM1447.8 1580.0l7 14h-14zM1452.3 1579.6l7 14h-14zM1447.7 1585.1l7 14h-14zM1452.5 1584.5l7 14h-14zM1447.0 1591.2l7 14h-14zM1453.3 1590.9l7 14h-14zM1443.7 1596.6l7 14h-14zM1450.2 1596.5l7 14h-14zM1455.3 1598.6l7 14h-14zM1447.2 1606.8l7 14h-14zM1452.9 1606.4l7 14h-14zM1445.0 1614.5l7 14h-14zM1449.5 1614.7l7 14h-14zM1454.8 1616.3l7 14h-14zM1447.0 1620.8l7 14h-14zM1452.1 1622.2l7 14h-14zM1444.4 1627.9l7 14h-14zM1450.1 1627.8l7 14h-14zM1455.6 1629.1l7 14h-14zM1443.4 1635.8l7 14h-14zM1450.6 1636.0l7 14h-14zM1457.1 1635.9l7 14h-14zM1441.8 1645.3l7 14h-14zM1450.0 1645.4l7 14h-14zM1457.9 1646.9l7 14h-14zM1443.1 1653.2l7 14h-14zM1450.2 1653.3l7 14h-14zM1456.7 1652.6l7 14h-14zM1442.5 1658.9l7 14h-14zM1450.3 1659.2l7 14h-14zM1456.9 1660.0l7 14h-14zM1445.3 1666.1l7 14h-14zM1450.1 1667.4l7 14h-14zM1455.6 1666.6l7 14h-14zM1442.9 1674.8l7 14h-14zM1450.4 1674.8l7 14h-14zM1456.3 1673.1l7 14h-14zM1443.3 1681.3l7 14h-14zM1450.3 1681.7l7 14h-14zM1456.7 1681.5l7 14h-14zM1444.7 1687.6l7 14h-14zM1450.2 1687.3l7 14h-14zM1455.4 1688.6l7 14h-14zM1445.9 1694.1l7 14h-14zM1454.3 1694.8l7 14h-14zM1445.6 1701.6l7 14h-14zM1454.2 1703.2l7 14h-14zM1448.7 1709.0l7 14h-14zM1451.3 1709.5l7 14h-14zM1443.1 1718.4l7 14h-14zM1450.3 1716.6l7 14h-14zM1456.9 1718.1l7 14h-14zM1448.0 1724.9l7 14h-14zM1451.5 1725.7l7 14h-14zM1448.0 1732.2l7 14h-14zM1451.7 1733.7l7 14h-14zM1449.5 1528.1l7 14h-14zM1452.0 1529.1l7 14h-14zM1450.8 1557.2l7 14h-14z" fill="#666666"/>
<path d="M1495.6 1630.4h0M1502.8 1631.2h0M1496.3 1637.2h0M1502.2 1638.0h0M1498.9 1642.2h0M1497.2 1650.3h0M1501.7 1649.2h0M1491.0 1655.8h0M1495.8 1656.3h0M1502.0 1655.3h0M1507.5 1654.8h0M1492.6 1661.4h0M1499.8 1661.1h0M1505.7 1662.2h0M1493.4 1667.3h0M1499.3 1669.0h0M1505.3 1669.3h0M1495.9 1675.2h0M1502.4 1674.6h0M1491.7 1682.1h0M1498.9 1680.3h0M1507.2 1680.7h0M1493.9 1687.1h0M1499.3 1687.9h0M1504.3 1688.5h0M1491.8 1692.7h0M1498.7 1693.9h0M1507.3 1693.1h0M1494.4 1701.3h0M1499.8 1701.8h0M1504.1 1702.1h0M1492.7 1709.1h0M1498.9 1710.2h0M1506.1 1708.7h0M1497.8 1715.0h0M1501.6 1715.9h0M1493.3 1722.8h0M1499.5 1722.4h0M1504.6 1721.5h0M1496.2 1728.0h0M1501.8 1728.4h0M1490.2 1732.3h0M1496.4 1733.0h0M1501.9 1732.2h0M1507.3 1732.4h0M1498.0 1594.3h0M1500.5 1600.7h0M1500.5 1750.7h0M1498.0 1755.5h0" fill="none" stroke="#f64040" stroke-width="10.6" stroke-linecap="round"/>
<path d="M1538.1 1589.1l7 14h-14zM1537.7 1595.8l7 14h-14zM1537.3 1603.6l7 14h-14zM1538.5 1611.2l7 14h-14zM1539.1 1619.9l7 14h-14zM1537.7 1627.3l7 14h-14zM1535.9 1634.6l7 14h-14zM1540.1 1635.6l7 14h-14zM1533.5 1641.3l7 14h-14zM1537.7 1640.0l7 14h-14zM1542.3 1641.2l7 14h-14zM1533.1 1648.0l7 14h-14zM1538.0 1647.7l7 14h-14zM1543.0 1646.6l7 14h-14zM1534.1 1652.9l7 14h-14zM1541.5 1653.9l7 14h-14zM1532.4 1661.7l7 14h-14zM1538.0 1662.0l7 14h-14zM1543.5 1661.4l7 14h-14zM1536.6 1668.9l7 14h-14zM1539.9 1668.2l7 14h-14zM1531.9 1678.8l7 14h-14zM1538.1 1678.5l7 14h-14zM1544.1 1678.8l7 14h-14zM1534.9 1686.4l7 14h-14zM1541.0 1686.8l7 14h-14zM1533.6 1693.5l7 14h-14zM1542.5 1695.6l7 14h-14zM1536.0 1702.5l7 14h-14zM1541.1 1701.4l7 14h-14zM1535.0 1709.3l7 14h-14zM1540.7 1709.0l7 14h-14zM1539.2 1714.6l7 14h-14zM1536.2 1723.6l7 14h-14zM1539.3 1724.6l7 14h-14zM1535.9 1732.5l7 14h-14zM1540.7 1732.6l7 14h-14zM1538.8 1515.1l7 14h-14zM1538.8 1547.7l7 14h-14zM1538.8 1561.8l7 14h-14z" fill="#f64040"/>
<line x1="1221.7" y1="1698.9" x2="1249.7" y2="1698.9" stroke="#000" stroke-width="3.2"/>
<line x1="1228.7" y1="1695.6" x2="1242.7" y2="1695.6" stroke="#000" stroke-width="3.2"/>
<line x1="1228.7" y1="1702.2" x2="1242.7" y2="1702.2" stroke="#000" stroke-width="3.2"/>
<line x1="1235.7" y1="1695.6" x2="1235.7" y2="1702.2" stroke="#000" stroke-width="2.6"/>
<line x1="1260.5" y1="1664.9" x2="1288.5" y2="1664.9" stroke="#000" stroke-width="3.2"/>
<line x1="1267.5" y1="1656.8" x2="1281.5" y2="1656.8" stroke="#000" stroke-width="3.2"/>
<line x1="1267.5" y1="1673.1" x2="1281.5" y2="1673.1" stroke="#000" stroke-width="3.2"/>
<line x1="1274.5" y1="1656.8" x2="1274.5" y2="1673.1" stroke="#000" stroke-width="2.6"/>
<line x1="1309.7" y1="1679.7" x2="1337.7" y2="1679.7" stroke="#000" stroke-width="3.2"/>
<line x1="1316.7" y1="1673.4" x2="1330.7" y2="1673.4" stroke="#000" stroke-width="3.2"/>
<line x1="1316.7" y1="1686.1" x2="1330.7" y2="1686.1" stroke="#000" stroke-width="3.2"/>
<line x1="1323.7" y1="1673.4" x2="1323.7" y2="1686.1" stroke="#000" stroke-width="2.6"/>
<line x1="1348" y1="1662.7" x2="1376" y2="1662.7" stroke="#000" stroke-width="3.2"/>
<line x1="1355" y1="1655" x2="1369" y2="1655" stroke="#000" stroke-width="3.2"/>
<line x1="1355" y1="1670.3" x2="1369" y2="1670.3" stroke="#000" stroke-width="3.2"/>
<line x1="1362" y1="1655" x2="1362" y2="1670.3" stroke="#000" stroke-width="2.6"/>
<line x1="1397.2" y1="1707" x2="1425.2" y2="1707" stroke="#000" stroke-width="3.2"/>
<line x1="1404.2" y1="1701.9" x2="1418.2" y2="1701.9" stroke="#000" stroke-width="3.2"/>
<line x1="1404.2" y1="1712.1" x2="1418.2" y2="1712.1" stroke="#000" stroke-width="3.2"/>
<line x1="1411.2" y1="1701.9" x2="1411.2" y2="1712.1" stroke="#000" stroke-width="2.6"/>
<line x1="1436" y1="1656" x2="1464" y2="1656" stroke="#000" stroke-width="3.2"/>
<line x1="1443" y1="1649.1" x2="1457" y2="1649.1" stroke="#000" stroke-width="3.2"/>
<line x1="1443" y1="1662.9" x2="1457" y2="1662.9" stroke="#000" stroke-width="3.2"/>
<line x1="1450" y1="1649.1" x2="1450" y2="1662.9" stroke="#000" stroke-width="2.6"/>
<line x1="1485.2" y1="1686.6" x2="1513.2" y2="1686.6" stroke="#000" stroke-width="3.2"/>
<line x1="1492.2" y1="1681.5" x2="1506.2" y2="1681.5" stroke="#000" stroke-width="3.2"/>
<line x1="1492.2" y1="1691.7" x2="1506.2" y2="1691.7" stroke="#000" stroke-width="3.2"/>
<line x1="1499.2" y1="1681.5" x2="1499.2" y2="1691.7" stroke="#000" stroke-width="2.6"/>
<line x1="1524" y1="1663.9" x2="1552" y2="1663.9" stroke="#000" stroke-width="3.2"/>
<line x1="1531" y1="1657" x2="1545" y2="1657" stroke="#000" stroke-width="3.2"/>
<line x1="1531" y1="1670.8" x2="1545" y2="1670.8" stroke="#000" stroke-width="3.2"/>
<line x1="1538" y1="1657" x2="1538" y2="1670.8" stroke="#000" stroke-width="2.6"/>
<line x1="1207.1" y1="1464.7" x2="1207.1" y2="1779.5" stroke="#000" stroke-width="3"/>
<line x1="1205.6" y1="1778" x2="1570.7" y2="1778" stroke="#000" stroke-width="3"/>
<line x1="1197.5" y1="1466.2" x2="1207.1" y2="1466.2" stroke="#000" stroke-width="3"/>
<text x="1193.6" y="1474.6" font-size="24.00" text-anchor="end">400</text>
<line x1="1197.5" y1="1544.5" x2="1207.1" y2="1544.5" stroke="#000" stroke-width="3"/>
<text x="1193.6" y="1552.9" font-size="24.00" text-anchor="end">300</text>
<line x1="1197.5" y1="1622.3" x2="1207.1" y2="1622.3" stroke="#000" stroke-width="3"/>
<text x="1193.6" y="1630.7" font-size="24.00" text-anchor="end">200</text>
<line x1="1197.5" y1="1700.2" x2="1207.1" y2="1700.2" stroke="#000" stroke-width="3"/>
<text x="1193.6" y="1708.6" font-size="24.00" text-anchor="end">100</text>
<line x1="1197.5" y1="1778" x2="1207.1" y2="1778" stroke="#000" stroke-width="3"/>
<text x="1193.6" y="1786.4" font-size="24.00" text-anchor="end">0</text>
<line x1="1235.7" y1="1778" x2="1235.7" y2="1788" stroke="#000" stroke-width="3"/>
<line x1="1274.5" y1="1778" x2="1274.5" y2="1788" stroke="#000" stroke-width="3"/>
<line x1="1323.7" y1="1778" x2="1323.7" y2="1788" stroke="#000" stroke-width="3"/>
<line x1="1362" y1="1778" x2="1362" y2="1788" stroke="#000" stroke-width="3"/>
<line x1="1411.2" y1="1778" x2="1411.2" y2="1788" stroke="#000" stroke-width="3"/>
<line x1="1450" y1="1778" x2="1450" y2="1788" stroke="#000" stroke-width="3"/>
<line x1="1499.2" y1="1778" x2="1499.2" y2="1788" stroke="#000" stroke-width="3"/>
<line x1="1538" y1="1778" x2="1538" y2="1788" stroke="#000" stroke-width="3"/>
<text transform="translate(1244.7 1809) rotate(-45)" font-size="24.30" text-anchor="end">Ctl 17</text>
<text transform="translate(1283.5 1809) rotate(-45)" font-size="24.30" text-anchor="end">Ctl 17+5-HT</text>
<text transform="translate(1332.7 1809) rotate(-45)" font-size="24.30" text-anchor="end">Non-R</text>
<text transform="translate(1371 1809) rotate(-45)" font-size="24.30" text-anchor="end">Non-R+5-HT</text>
<text transform="translate(1418.1 1811.1) rotate(-45)" font-size="24.30" text-anchor="end">Ctl 18</text>
<text transform="translate(1459 1809) rotate(-45)" font-size="24.30" text-anchor="end">Ctl 18+5-HT</text>
<text transform="translate(1503 1814.2) rotate(-45)" font-size="24.30" text-anchor="end">Mito</text>
<text transform="translate(1547 1809) rotate(-45)" font-size="24.30" text-anchor="end">Mito+5-HT</text>
<line x1="1236.5" y1="1406.5" x2="1323.7" y2="1406.5" stroke="#000" stroke-width="3"/>
<text x="1281.4" y="1403.1" font-size="26.20" text-anchor="middle" font-family='"DejaVu Sans", "Liberation Sans", sans-serif' letter-spacing="3.6" stroke="#000" stroke-width="1.7" stroke-linejoin="round">*</text>
<line x1="1412.5" y1="1406.5" x2="1499.2" y2="1406.5" stroke="#000" stroke-width="3"/>
<text x="1457.1" y="1403.1" font-size="26.20" text-anchor="middle" font-family='"DejaVu Sans", "Liberation Sans", sans-serif' letter-spacing="3.6" stroke="#000" stroke-width="1.7" stroke-linejoin="round">**</text>
<line x1="1236.5" y1="1466.2" x2="1274.2" y2="1466.2" stroke="#000" stroke-width="3"/>
<text x="1256.6" y="1462.8" font-size="26.20" text-anchor="middle" font-family='"DejaVu Sans", "Liberation Sans", sans-serif' letter-spacing="3.6" stroke="#000" stroke-width="1.7" stroke-linejoin="round">****</text>
<line x1="1324.5" y1="1466.2" x2="1362" y2="1466.2" stroke="#000" stroke-width="3"/>
<text x="1344.5" y="1462.8" font-size="26.20" text-anchor="middle" font-family='"DejaVu Sans", "Liberation Sans", sans-serif' letter-spacing="3.6" stroke="#000" stroke-width="1.7" stroke-linejoin="round">*</text>
<line x1="1412.5" y1="1466.2" x2="1450" y2="1466.2" stroke="#000" stroke-width="3"/>
<text x="1432.5" y="1462.8" font-size="26.20" text-anchor="middle" font-family='"DejaVu Sans", "Liberation Sans", sans-serif' letter-spacing="3.6" stroke="#000" stroke-width="1.7" stroke-linejoin="round">****</text>
<line x1="1500" y1="1466.2" x2="1538.3" y2="1466.2" stroke="#000" stroke-width="3"/>
<text x="1520.5" y="1462.8" font-size="26.20" text-anchor="middle" font-family='"DejaVu Sans", "Liberation Sans", sans-serif' letter-spacing="3.6" stroke="#000" stroke-width="1.7" stroke-linejoin="round">**</text>
<text transform="translate(1870.7 1333) scale(1.000 1)" font-size="30.50" text-anchor="middle">I<tspan font-size="22.20" dx="1.2" dy="6.1">K</tspan><tspan dy="-6.1"> current density</tspan></text>
<text x="1869" y="1372.6" font-size="30.50" text-anchor="middle">at +20mV</text>
<text transform="translate(1694 1619.2) rotate(-90)" font-size="25.60" text-anchor="middle" font-weight="normal" letter-spacing="1.33" stroke="#000" stroke-width="0.5">Current density (pA/pF)</text>
<path d="M1808.8 1571.7h0M1809.9 1583.1h0M1803.4 1589.7h0M1814.5 1590.4h0M1804.7 1599.3h0M1814.0 1598.2h0M1798.8 1608.8h0M1808.3 1607.5h0M1821.8 1606.8h0M1802.7 1612.2h0M1815.0 1614.9h0M1801.0 1636.5h0M1810.1 1634.3h0M1818.9 1635.0h0M1801.0 1638.7h0M1809.7 1639.4h0M1819.4 1639.6h0M1794.4 1646.5h0M1803.7 1646.6h0M1813.8 1646.0h0M1824.4 1646.2h0M1802.5 1656.7h0M1816.1 1654.7h0M1795.3 1666.1h0M1804.7 1665.8h0M1814.8 1663.8h0M1825.4 1663.1h0M1799.7 1673.1h0M1810.6 1674.3h0M1819.5 1673.3h0M1798.4 1682.8h0M1809.0 1681.8h0M1820.0 1682.9h0M1805.2 1691.6h0M1814.4 1690.1h0M1801.5 1703.7h0M1816.9 1702.4h0M1804.2 1711.7h0M1815.8 1713.2h0M1808.0 1723.5h0M1804.5 1732.4h0M1814.3 1733.6h0M1800.5 1740.5h0M1810.4 1739.3h0M1819.0 1742.0h0M1808.9 1747.7h0M1803.9 1760.6h0M1814.9 1761.5h0" fill="none" stroke="#848484" stroke-width="10.8" stroke-linecap="round"/>
<path d="M1872.1 1578.5h0M1874.7 1590.5h0M1866.2 1598.3h0M1880.4 1598.6h0M1874.0 1603.2h0M1872.0 1615.8h0M1875.8 1616.0h0M1870.7 1626.0h0M1878.2 1627.1h0M1859.2 1634.6h0M1868.9 1634.8h0M1880.0 1633.4h0M1888.5 1633.8h0M1868.8 1643.8h0M1878.9 1643.3h0M1866.3 1655.0h0M1882.1 1652.2h0M1867.7 1668.6h0M1878.9 1667.3h0M1859.1 1677.9h0M1869.6 1677.9h0M1878.5 1678.1h0M1888.8 1679.0h0M1863.7 1690.6h0M1873.8 1688.4h0M1883.1 1688.2h0M1864.9 1702.0h0M1873.5 1700.2h0M1882.4 1701.7h0M1867.7 1710.9h0M1874.9 1710.6h0M1882.7 1708.1h0M1864.3 1717.8h0M1873.8 1720.0h0M1882.0 1717.4h0M1870.1 1725.4h0M1877.7 1725.6h0M1874.7 1560.7h0M1874.7 1737.1h0M1872.5 1749.4h0M1877.0 1749.4h0" fill="none" stroke="#646464" stroke-width="10.8" stroke-linecap="round"/>
<path d="M1934.1 1580.1h0M1934.0 1589.5h0M1929.2 1597.3h0M1936.9 1597.0h0M1922.6 1608.4h0M1932.2 1608.7h0M1944.3 1607.1h0M1922.7 1616.3h0M1932.6 1615.6h0M1944.9 1616.2h0M1921.2 1626.6h0M1933.8 1627.6h0M1944.0 1626.3h0M1923.0 1639.9h0M1932.2 1639.9h0M1944.0 1636.6h0M1925.3 1650.6h0M1941.7 1650.6h0M1917.1 1657.7h0M1928.9 1656.5h0M1938.9 1654.2h0M1948.9 1657.1h0M1924.2 1665.6h0M1932.4 1667.2h0M1942.5 1666.2h0M1922.2 1675.1h0M1932.5 1675.9h0M1945.1 1677.4h0M1921.3 1684.7h0M1932.7 1684.2h0M1943.8 1682.9h0M1921.5 1692.2h0M1933.1 1695.1h0M1943.9 1695.2h0M1930.5 1701.4h0M1937.0 1701.3h0M1928.8 1715.1h0M1939.4 1715.2h0M1928.4 1723.7h0M1936.5 1724.1h0M1933.4 1728.1h0M1931.3 1739.8h0M1937.3 1740.1h0M1933.3 1553.1h0M1933.3 1568.7h0M1933.3 1756.1h0" fill="none" stroke="#363636" stroke-width="10.8" stroke-linecap="round"/>
<line x1="1788.5" y1="1672.2" x2="1830.5" y2="1672.2" stroke="#000" stroke-width="3.2"/>
<line x1="1799" y1="1664.4" x2="1820" y2="1664.4" stroke="#000" stroke-width="3.2"/>
<line x1="1799" y1="1680" x2="1820" y2="1680" stroke="#000" stroke-width="3.2"/>
<line x1="1809.5" y1="1664.4" x2="1809.5" y2="1680" stroke="#000" stroke-width="2.6"/>
<line x1="1853.1" y1="1666.4" x2="1895.1" y2="1666.4" stroke="#000" stroke-width="3.2"/>
<line x1="1863.6" y1="1660.8" x2="1884.6" y2="1660.8" stroke="#000" stroke-width="3.2"/>
<line x1="1863.6" y1="1671.9" x2="1884.6" y2="1671.9" stroke="#000" stroke-width="3.2"/>
<line x1="1874.1" y1="1660.8" x2="1874.1" y2="1671.9" stroke="#000" stroke-width="2.6"/>
<line x1="1912.3" y1="1655.3" x2="1954.3" y2="1655.3" stroke="#000" stroke-width="3.2"/>
<line x1="1922.8" y1="1649.2" x2="1943.8" y2="1649.2" stroke="#000" stroke-width="3.2"/>
<line x1="1922.8" y1="1661.3" x2="1943.8" y2="1661.3" stroke="#000" stroke-width="3.2"/>
<line x1="1933.3" y1="1649.2" x2="1933.3" y2="1661.3" stroke="#000" stroke-width="2.6"/>
<line x1="1766.8" y1="1458.2" x2="1766.8" y2="1779.8" stroke="#000" stroke-width="3"/>
<line x1="1765.3" y1="1778.3" x2="1979.3" y2="1778.3" stroke="#000" stroke-width="3"/>
<line x1="1753.5" y1="1459.7" x2="1766.8" y2="1459.7" stroke="#000" stroke-width="3"/>
<text x="1748.4" y="1468.1" font-size="24.00" text-anchor="end">400</text>
<line x1="1753.5" y1="1539.8" x2="1766.8" y2="1539.8" stroke="#000" stroke-width="3"/>
<text x="1748.4" y="1548.2" font-size="24.00" text-anchor="end">300</text>
<line x1="1753.5" y1="1619.4" x2="1766.8" y2="1619.4" stroke="#000" stroke-width="3"/>
<text x="1748.4" y="1627.8" font-size="24.00" text-anchor="end">200</text>
<line x1="1753.5" y1="1698.9" x2="1766.8" y2="1698.9" stroke="#000" stroke-width="3"/>
<text x="1748.4" y="1707.3" font-size="24.00" text-anchor="end">100</text>
<line x1="1753.5" y1="1778.3" x2="1766.8" y2="1778.3" stroke="#000" stroke-width="3"/>
<text x="1748.4" y="1786.7" font-size="24.00" text-anchor="end">0</text>
<line x1="1809.5" y1="1778.3" x2="1809.5" y2="1788.3" stroke="#000" stroke-width="3"/>
<line x1="1874.1" y1="1778.3" x2="1874.1" y2="1788.3" stroke="#000" stroke-width="3"/>
<line x1="1933.3" y1="1778.3" x2="1933.3" y2="1788.3" stroke="#000" stroke-width="3"/>
<text transform="translate(1816.7 1809.3) rotate(-45)" font-size="24.30" text-anchor="end">DMSO</text>
<text transform="translate(1881.3 1809.3) rotate(-45)" font-size="24.30" text-anchor="end">5-HT+DMSO</text>
<text transform="translate(1940.5 1809.3) rotate(-45)" font-size="24.30" text-anchor="end">5-HT+M100907</text>
<line x1="1810.6" y1="1496.8" x2="1932.6" y2="1496.8" stroke="#000" stroke-width="3"/>
<text x="1872.9" y="1493.4" font-size="26.20" text-anchor="middle" font-family='"DejaVu Sans", "Liberation Sans", sans-serif' letter-spacing="3.6" stroke="#000" stroke-width="1.7" stroke-linejoin="round">*</text>
</svg>
</body></html>
